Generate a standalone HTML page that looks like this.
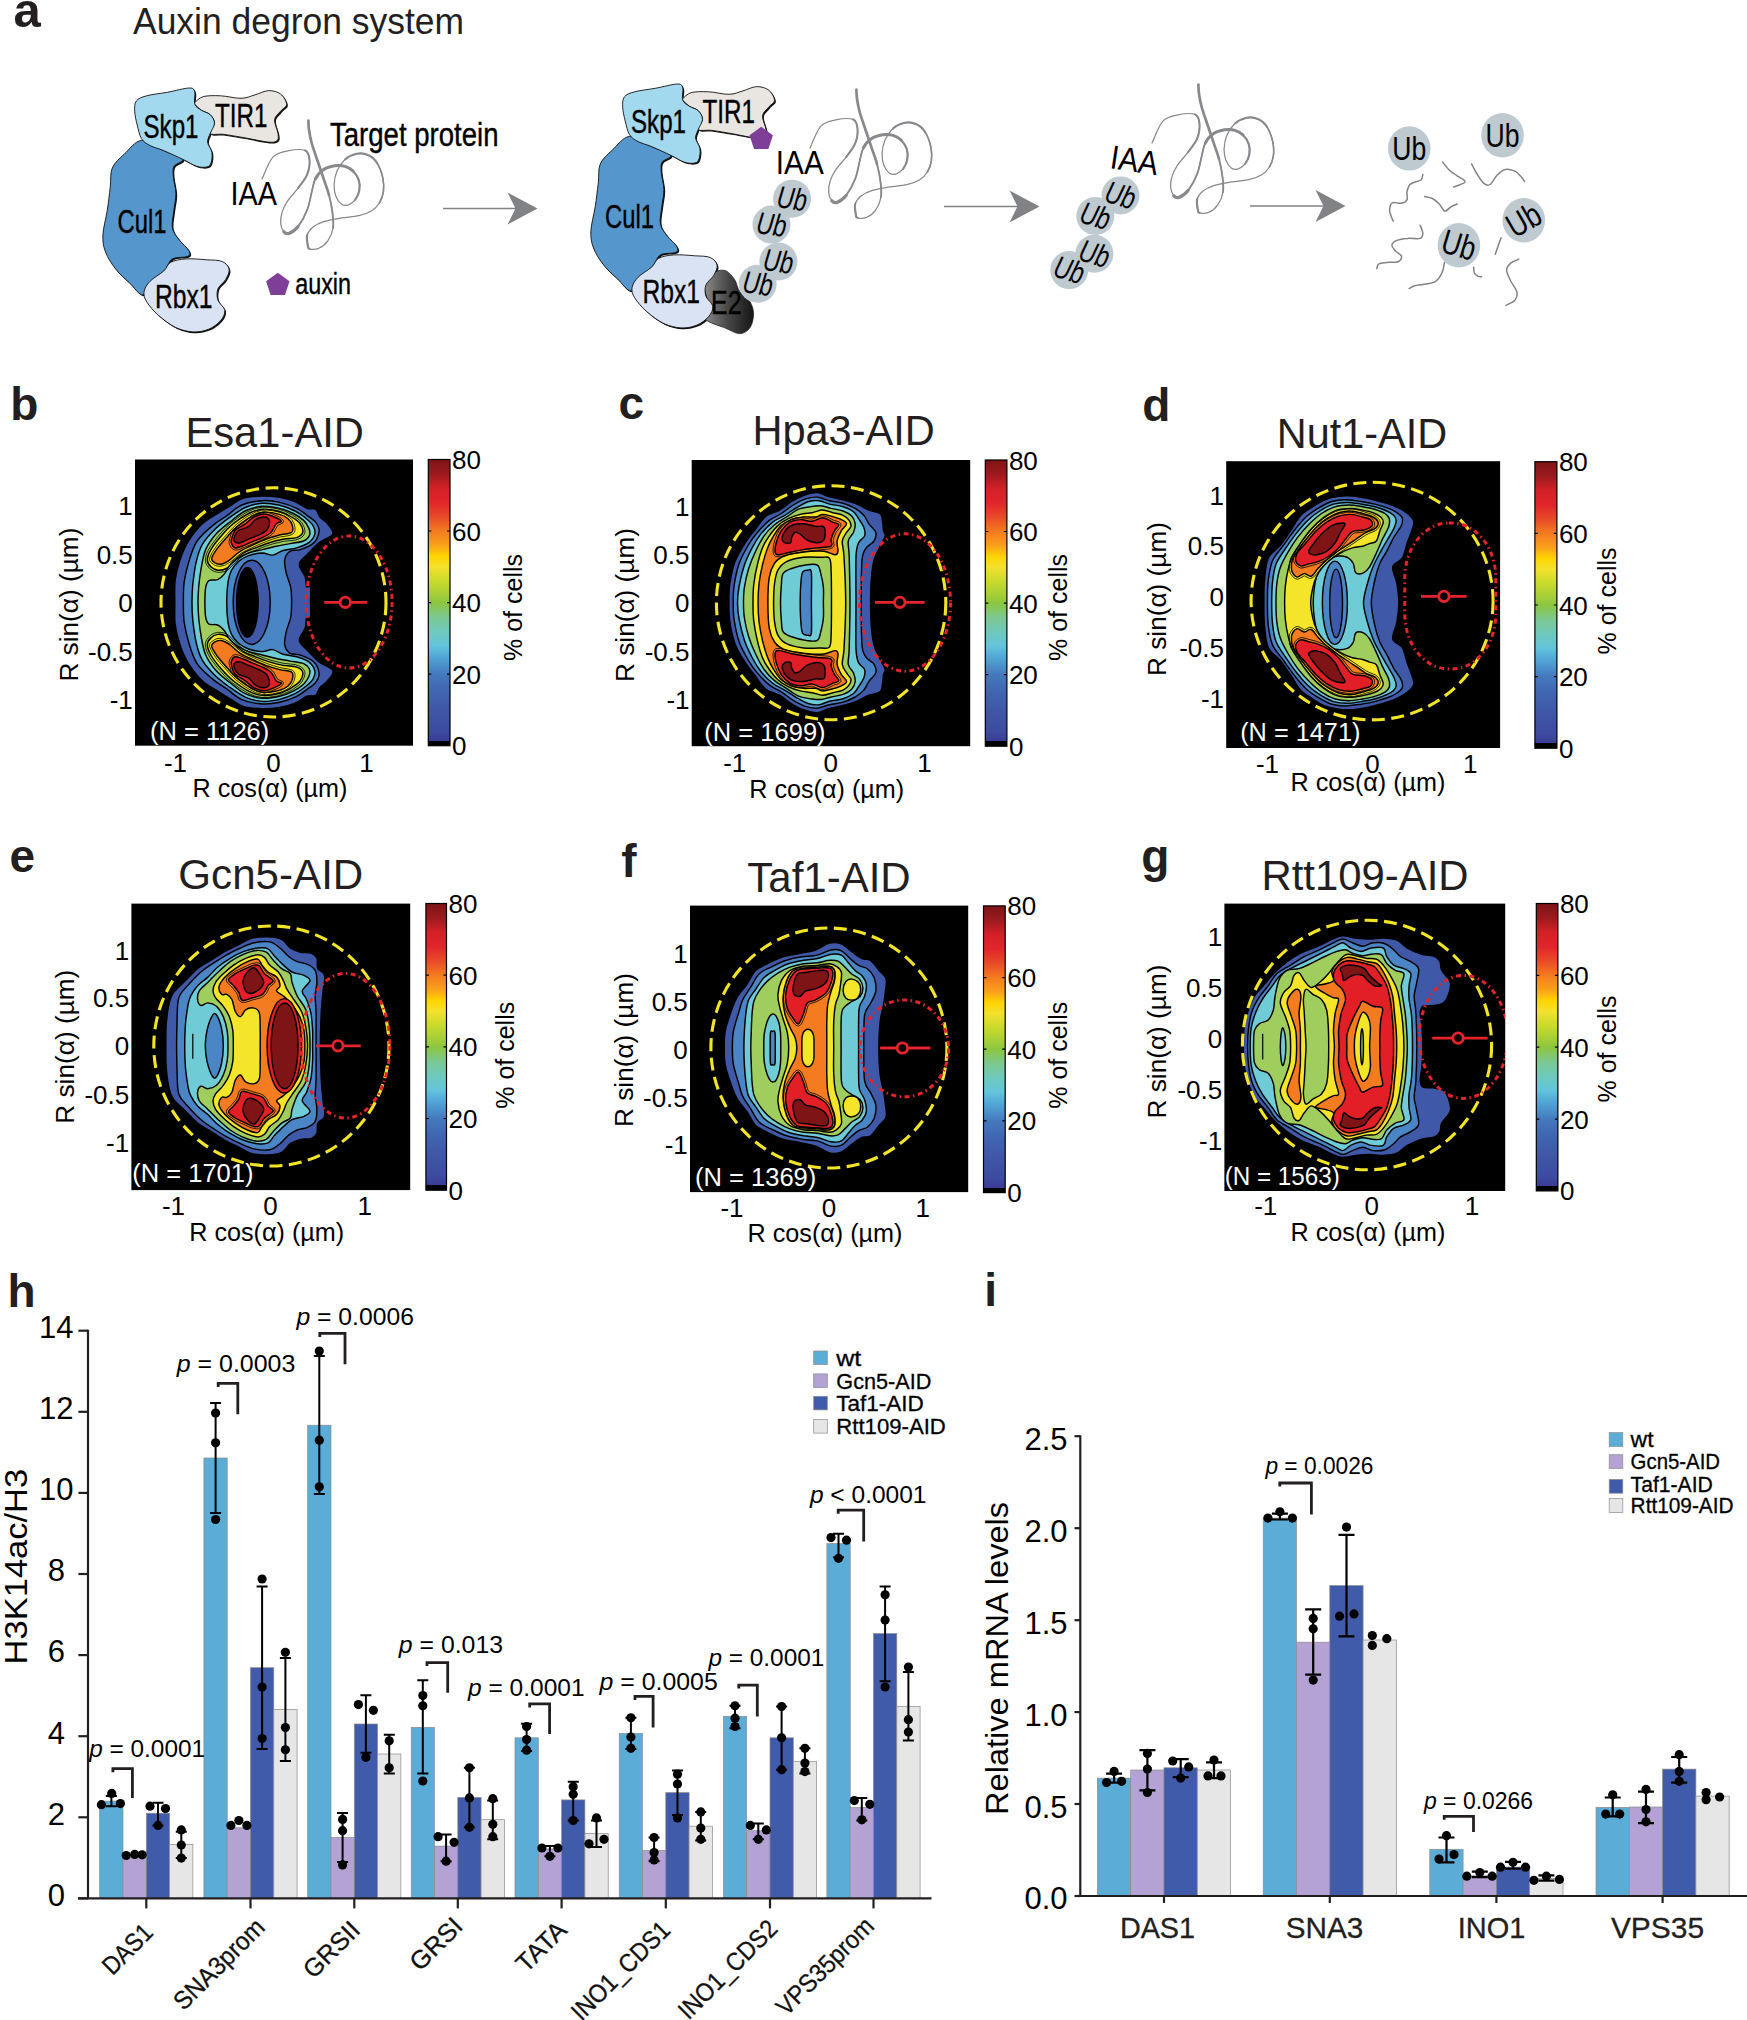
<!DOCTYPE html>
<html><head><meta charset="utf-8"><title>Auxin degron system figure</title>
<style>html,body{margin:0;padding:0;background:#fff}svg{display:block}text{font-family:"Liberation Sans",sans-serif}</style>
</head><body>
<svg width="1747" height="2020" viewBox="0 0 1747 2020">
<defs><linearGradient id="e2g" x1="0" y1="0" x2="1" y2="0"><stop offset="0" stop-color="#8a8a8a"/><stop offset="0.45" stop-color="#4a4a4a"/><stop offset="1" stop-color="#151515"/></linearGradient>
<linearGradient id="jet" x1="0" y1="0" x2="0" y2="1"><stop offset="0.0000" stop-color="#7E1416"/><stop offset="0.0500" stop-color="#9B1B1E"/><stop offset="0.1000" stop-color="#D42027"/><stop offset="0.1500" stop-color="#E1252B"/><stop offset="0.2000" stop-color="#E84A28"/><stop offset="0.2500" stop-color="#F47B20"/><stop offset="0.3000" stop-color="#F9A11B"/><stop offset="0.3375" stop-color="#FFD400"/><stop offset="0.3750" stop-color="#F3E12D"/><stop offset="0.4250" stop-color="#C9DA2B"/><stop offset="0.4750" stop-color="#A2CD3A"/><stop offset="0.5000" stop-color="#8CC63F"/><stop offset="0.5500" stop-color="#7CC890"/><stop offset="0.6000" stop-color="#6FC9BC"/><stop offset="0.6500" stop-color="#64C4DC"/><stop offset="0.6875" stop-color="#52A8D8"/><stop offset="0.7250" stop-color="#4A8CC8"/><stop offset="0.7500" stop-color="#4579BE"/><stop offset="0.8000" stop-color="#4168B2"/><stop offset="0.8750" stop-color="#3F57A6"/><stop offset="0.9500" stop-color="#3D4BA0"/><stop offset="0.9825" stop-color="#3A3C96"/><stop offset="0.9826" stop-color="#000"/><stop offset="1.0000" stop-color="#000"/></linearGradient>
<clipPath id="clipb"><rect x="135" y="459.5" width="278" height="286.2"/></clipPath>
<clipPath id="clipc"><rect x="691.7" y="460" width="278.5" height="286.2"/></clipPath>
<clipPath id="clipd"><rect x="1226.2" y="461.2" width="273.9" height="286.8"/></clipPath>
<clipPath id="clipe"><rect x="131.4" y="903.6" width="278.8" height="286.5"/></clipPath>
<clipPath id="clipf"><rect x="690" y="905.6" width="278.2" height="286.5"/></clipPath>
<clipPath id="clipg"><rect x="1224.4" y="903.6" width="280.8" height="287.4"/></clipPath></defs>
<rect width="1747" height="2020" fill="#fff"/>
<path d="M141.5 140.4C134.9 141 129.2 149.6 124.3 154.1C119.5 158.7 114.7 162.4 112.3 167.9C110 173.3 111.1 179.6 110.3 186.8C109.4 193.9 108.4 202.8 107.2 210.8C105.9 218.8 103.2 228 102.9 234.9C102.6 241.7 103.3 246.3 105.5 252C107.6 257.8 111.8 264.1 115.8 269.2C119.8 274.4 124.9 278.7 129.5 282.9C134.1 287.2 138.9 295.3 143.2 295C147.5 294.7 151.5 285.5 155.3 281.2C159 276.9 162.7 272.9 165.6 269.2C168.4 265.5 168.7 261.1 172.4 258.9C176.2 256.8 185.2 257.8 187.9 256.3C190.6 254.9 190.2 253 188.7 250.3C187.3 247.6 182 243.7 179.3 240C176.6 236.3 173.3 232.9 172.4 228C171.5 223.1 173.2 216.5 173.8 210.8C174.4 205.1 176 199.4 175.9 193.6C175.8 187.9 173.6 181.1 173.3 176.5C173 171.9 172.6 169 174.1 166.2C175.7 163.3 184.5 161.9 182.7 159.3C181 156.7 170.7 153.9 163.8 150.7C157 147.6 148.1 139.8 141.5 140.4Z" fill="#111" transform="translate(1.3 1.3)"/><path d="M194.8 102.6C196.2 101.3 199.1 97.8 203.3 96.6C207.6 95.5 214.2 95.5 220.5 95.8C226.8 96 235.4 98.5 241.1 98.3C246.8 98.2 250.3 96.2 254.9 94.9C259.4 93.6 264.3 90.8 268.6 90.6C272.9 90.5 277.6 91.8 280.6 94C283.6 96.3 286.6 101.5 286.6 104.3C286.6 107.2 282.6 108.6 280.6 111.2C278.6 113.8 275 116.1 274.6 119.8C274.2 123.5 277.6 130.1 278 133.5C278.5 137 278.8 139 277.2 140.4C275.6 141.8 274 142.6 268.6 142.1C263.2 141.7 252 139.1 244.6 137.8C237.1 136.5 229.7 135.1 224 134.4C218.2 133.7 211.8 135.4 210.2 133.5C208.6 131.7 214.5 126.4 214.5 123.2C214.5 120.1 212.4 116.8 210.2 114.7C208.1 112.5 204.2 112.1 201.6 110.4C199.1 108.6 195.9 105.6 194.8 104.3C193.6 103.1 193.3 103.9 194.8 102.6Z" fill="#111" transform="translate(1.3 1.3)"/><path d="M136.4 100.9C138.4 98.3 141.5 97.2 146.7 95.8C151.8 94.3 160.1 93.6 167.3 92.3C174.4 91 185 88 189.6 88C194.2 88 193.9 89.6 194.8 92.3C195.6 95 193.6 101.3 194.8 104.3C195.9 107.4 199.1 108.6 201.6 110.4C204.2 112.1 208.1 112.5 210.2 114.7C212.4 116.8 214.5 120.1 214.5 123.2C214.5 126.4 211.4 130.4 210.2 133.5C209.1 136.7 207.4 139 207.6 142.1C207.9 145.3 211.4 149 211.9 152.4C212.5 155.9 211.9 160.3 211.1 162.7C210.2 165.2 209.2 166.5 206.8 167C204.3 167.6 200.5 167.5 196.5 166.2C192.5 164.9 188.2 161.9 182.7 159.3C177.3 156.7 169.3 153 163.8 150.7C158.4 148.4 153.8 147.6 150.1 145.6C146.4 143.6 143.7 142.1 141.5 138.7C139.4 135.3 138.4 129.5 137.2 125C136.1 120.4 134.8 115.2 134.7 111.2C134.5 107.2 134.4 103.5 136.4 100.9Z" fill="#111" transform="translate(1.3 1.3)"/><path d="M144.1 291.5C144.7 288.1 146.8 284.7 150.1 281.2C153.4 277.8 160.4 274.1 163.8 270.9C167.3 267.8 167 264.3 170.7 262.3C174.4 260.3 180.2 259.3 186.2 258.9C192.2 258.5 200.8 259.3 206.8 259.8C212.8 260.2 218.5 259.9 222.2 261.5C226 263.1 228.5 266.2 229.1 269.2C229.7 272.2 227.5 276.2 225.7 279.5C223.8 282.8 219.2 285.5 217.9 289C216.7 292.4 216.8 296.5 217.9 300.1C219.1 303.7 224.4 307 224.8 310.4C225.2 313.9 223.2 317.6 220.5 320.7C217.8 323.9 213.1 327.5 208.5 329.3C203.9 331.2 198.5 332.2 193 331.9C187.6 331.6 181.6 330.3 175.9 327.6C170.1 324.9 163.6 319.9 158.7 315.6C153.8 311.3 149.1 305.8 146.7 301.8C144.2 297.8 143.5 295 144.1 291.5Z" fill="#111" transform="translate(1.3 1.3)"/><path d="M141.5 140.4C134.9 141 129.2 149.6 124.3 154.1C119.5 158.7 114.7 162.4 112.3 167.9C110 173.3 111.1 179.6 110.3 186.8C109.4 193.9 108.4 202.8 107.2 210.8C105.9 218.8 103.2 228 102.9 234.9C102.6 241.7 103.3 246.3 105.5 252C107.6 257.8 111.8 264.1 115.8 269.2C119.8 274.4 124.9 278.7 129.5 282.9C134.1 287.2 138.9 295.3 143.2 295C147.5 294.7 151.5 285.5 155.3 281.2C159 276.9 162.7 272.9 165.6 269.2C168.4 265.5 168.7 261.1 172.4 258.9C176.2 256.8 185.2 257.8 187.9 256.3C190.6 254.9 190.2 253 188.7 250.3C187.3 247.6 182 243.7 179.3 240C176.6 236.3 173.3 232.9 172.4 228C171.5 223.1 173.2 216.5 173.8 210.8C174.4 205.1 176 199.4 175.9 193.6C175.8 187.9 173.6 181.1 173.3 176.5C173 171.9 172.6 169 174.1 166.2C175.7 163.3 184.5 161.9 182.7 159.3C181 156.7 170.7 153.9 163.8 150.7C157 147.6 148.1 139.8 141.5 140.4Z" fill="#5596CC" stroke="#111" stroke-width="0.9"/><path d="M194.8 102.6C196.2 101.3 199.1 97.8 203.3 96.6C207.6 95.5 214.2 95.5 220.5 95.8C226.8 96 235.4 98.5 241.1 98.3C246.8 98.2 250.3 96.2 254.9 94.9C259.4 93.6 264.3 90.8 268.6 90.6C272.9 90.5 277.6 91.8 280.6 94C283.6 96.3 286.6 101.5 286.6 104.3C286.6 107.2 282.6 108.6 280.6 111.2C278.6 113.8 275 116.1 274.6 119.8C274.2 123.5 277.6 130.1 278 133.5C278.5 137 278.8 139 277.2 140.4C275.6 141.8 274 142.6 268.6 142.1C263.2 141.7 252 139.1 244.6 137.8C237.1 136.5 229.7 135.1 224 134.4C218.2 133.7 211.8 135.4 210.2 133.5C208.6 131.7 214.5 126.4 214.5 123.2C214.5 120.1 212.4 116.8 210.2 114.7C208.1 112.5 204.2 112.1 201.6 110.4C199.1 108.6 195.9 105.6 194.8 104.3C193.6 103.1 193.3 103.9 194.8 102.6Z" fill="#E9E6E1" stroke="#111" stroke-width="0.9"/><path d="M136.4 100.9C138.4 98.3 141.5 97.2 146.7 95.8C151.8 94.3 160.1 93.6 167.3 92.3C174.4 91 185 88 189.6 88C194.2 88 193.9 89.6 194.8 92.3C195.6 95 193.6 101.3 194.8 104.3C195.9 107.4 199.1 108.6 201.6 110.4C204.2 112.1 208.1 112.5 210.2 114.7C212.4 116.8 214.5 120.1 214.5 123.2C214.5 126.4 211.4 130.4 210.2 133.5C209.1 136.7 207.4 139 207.6 142.1C207.9 145.3 211.4 149 211.9 152.4C212.5 155.9 211.9 160.3 211.1 162.7C210.2 165.2 209.2 166.5 206.8 167C204.3 167.6 200.5 167.5 196.5 166.2C192.5 164.9 188.2 161.9 182.7 159.3C177.3 156.7 169.3 153 163.8 150.7C158.4 148.4 153.8 147.6 150.1 145.6C146.4 143.6 143.7 142.1 141.5 138.7C139.4 135.3 138.4 129.5 137.2 125C136.1 120.4 134.8 115.2 134.7 111.2C134.5 107.2 134.4 103.5 136.4 100.9Z" fill="#A3D9EE" stroke="#111" stroke-width="0.9"/><path d="M144.1 291.5C144.7 288.1 146.8 284.7 150.1 281.2C153.4 277.8 160.4 274.1 163.8 270.9C167.3 267.8 167 264.3 170.7 262.3C174.4 260.3 180.2 259.3 186.2 258.9C192.2 258.5 200.8 259.3 206.8 259.8C212.8 260.2 218.5 259.9 222.2 261.5C226 263.1 228.5 266.2 229.1 269.2C229.7 272.2 227.5 276.2 225.7 279.5C223.8 282.8 219.2 285.5 217.9 289C216.7 292.4 216.8 296.5 217.9 300.1C219.1 303.7 224.4 307 224.8 310.4C225.2 313.9 223.2 317.6 220.5 320.7C217.8 323.9 213.1 327.5 208.5 329.3C203.9 331.2 198.5 332.2 193 331.9C187.6 331.6 181.6 330.3 175.9 327.6C170.1 324.9 163.6 319.9 158.7 315.6C153.8 311.3 149.1 305.8 146.7 301.8C144.2 297.8 143.5 295 144.1 291.5Z" fill="#D9E3F3" stroke="#111" stroke-width="0.9"/><path d="M629.5 136.4C622.9 137 617.2 145.6 612.3 150.1C607.5 154.7 602.7 158.4 600.3 163.9C598 169.3 599.1 175.6 598.3 182.8C597.4 189.9 596.4 198.8 595.2 206.8C593.9 214.8 591.2 224 590.9 230.9C590.6 237.7 591.3 242.3 593.5 248C595.6 253.8 599.8 260.1 603.8 265.2C607.8 270.4 612.9 274.7 617.5 278.9C622.1 283.2 626.9 291.3 631.2 291C635.5 290.7 639.5 281.5 643.3 277.2C647 272.9 650.7 268.9 653.6 265.2C656.4 261.5 656.7 257.1 660.4 254.9C664.2 252.8 673.2 253.8 675.9 252.3C678.6 250.9 678.2 249 676.7 246.3C675.3 243.6 670 239.7 667.3 236C664.6 232.3 661.3 228.9 660.4 224C659.5 219.1 661.2 212.5 661.8 206.8C662.4 201.1 664 195.4 663.9 189.6C663.8 183.9 661.6 177.1 661.3 172.5C661 167.9 660.6 165 662.1 162.2C663.7 159.3 672.5 157.9 670.7 155.3C669 152.7 658.7 149.9 651.8 146.7C645 143.6 636.1 135.8 629.5 136.4Z" fill="#111" transform="translate(1.3 1.3)"/><path d="M682.8 98.6C684.2 97.3 687.1 93.8 691.3 92.6C695.6 91.5 702.2 91.5 708.5 91.8C714.8 92 723.4 94.5 729.1 94.3C734.8 94.2 738.3 92.2 742.9 90.9C747.4 89.6 752.3 86.8 756.6 86.6C760.9 86.5 765.6 87.8 768.6 90C771.6 92.3 774.6 97.5 774.6 100.3C774.6 103.2 770.6 104.6 768.6 107.2C766.6 109.8 763 112.1 762.6 115.8C762.2 119.5 765.6 126.1 766 129.5C766.5 133 766.8 135 765.2 136.4C763.6 137.8 762 138.6 756.6 138.1C751.2 137.7 740 135.1 732.6 133.8C725.1 132.5 717.7 131.1 712 130.4C706.2 129.7 699.8 131.4 698.2 129.5C696.6 127.7 702.5 122.4 702.5 119.2C702.5 116.1 700.4 112.8 698.2 110.7C696.1 108.5 692.2 108.1 689.6 106.4C687.1 104.6 683.9 101.6 682.8 100.3C681.6 99.1 681.3 99.9 682.8 98.6Z" fill="#111" transform="translate(1.3 1.3)"/><path d="M624.4 96.9C626.4 94.3 629.5 93.2 634.7 91.8C639.8 90.3 648.1 89.6 655.3 88.3C662.4 87 673 84 677.6 84C682.2 84 681.9 85.6 682.8 88.3C683.6 91 681.6 97.3 682.8 100.3C683.9 103.4 687.1 104.6 689.6 106.4C692.2 108.1 696.1 108.5 698.2 110.7C700.4 112.8 702.5 116.1 702.5 119.2C702.5 122.4 699.4 126.4 698.2 129.5C697.1 132.7 695.4 135 695.6 138.1C695.9 141.3 699.4 145 699.9 148.4C700.5 151.9 699.9 156.3 699.1 158.7C698.2 161.2 697.2 162.5 694.8 163C692.3 163.6 688.5 163.5 684.5 162.2C680.5 160.9 676.2 157.9 670.7 155.3C665.3 152.7 657.3 149 651.8 146.7C646.4 144.4 641.8 143.6 638.1 141.6C634.4 139.6 631.7 138.1 629.5 134.7C627.4 131.3 626.4 125.5 625.2 121C624.1 116.4 622.8 111.2 622.7 107.2C622.5 103.2 622.4 99.5 624.4 96.9Z" fill="#111" transform="translate(1.3 1.3)"/><path d="M632.1 287.5C632.7 284.1 634.8 280.7 638.1 277.2C641.4 273.8 648.4 270.1 651.8 266.9C655.3 263.8 655 260.3 658.7 258.3C662.4 256.3 668.2 255.3 674.2 254.9C680.2 254.5 688.8 255.3 694.8 255.8C700.8 256.2 706.5 255.9 710.2 257.5C714 259.1 716.5 262.2 717.1 265.2C717.7 268.2 715.5 272.2 713.7 275.5C711.8 278.8 707.2 281.5 705.9 285C704.7 288.4 704.8 292.5 705.9 296.1C707.1 299.7 712.4 303 712.8 306.4C713.2 309.9 711.2 313.6 708.5 316.7C705.8 319.9 701.1 323.5 696.5 325.3C691.9 327.2 686.5 328.2 681 327.9C675.6 327.6 669.6 326.3 663.9 323.6C658.1 320.9 651.6 315.9 646.7 311.6C641.8 307.3 637.1 301.8 634.7 297.8C632.2 293.8 631.5 291 632.1 287.5Z" fill="#111" transform="translate(1.3 1.3)"/><path d="M707.1 281.2C708.9 278.5 712.5 273.5 715.7 271.8C718.8 270.1 722.8 269.6 726 270.9C729.1 272.2 732.3 276.1 734.6 279.5C736.8 282.9 737.1 287.8 739.7 291.5C742.3 295.3 747.7 298.1 750 301.8C752.3 305.6 753.5 309.6 753.5 313.9C753.5 318.2 752.3 324.3 750 327.6C747.7 330.9 744 333.6 739.7 333.6C735.4 333.6 729.8 329.9 724.3 327.6C718.7 325.3 708.5 322.7 706.2 319.9C703.9 317 710.4 314 710.5 310.4C710.7 306.8 708.1 302.1 707.1 298.4C706.1 294.7 704.5 291 704.5 288.1C704.5 285.2 705.2 284 707.1 281.2Z" fill="url(#e2g)" stroke="#222" stroke-width="0.8"/><path d="M629.5 136.4C622.9 137 617.2 145.6 612.3 150.1C607.5 154.7 602.7 158.4 600.3 163.9C598 169.3 599.1 175.6 598.3 182.8C597.4 189.9 596.4 198.8 595.2 206.8C593.9 214.8 591.2 224 590.9 230.9C590.6 237.7 591.3 242.3 593.5 248C595.6 253.8 599.8 260.1 603.8 265.2C607.8 270.4 612.9 274.7 617.5 278.9C622.1 283.2 626.9 291.3 631.2 291C635.5 290.7 639.5 281.5 643.3 277.2C647 272.9 650.7 268.9 653.6 265.2C656.4 261.5 656.7 257.1 660.4 254.9C664.2 252.8 673.2 253.8 675.9 252.3C678.6 250.9 678.2 249 676.7 246.3C675.3 243.6 670 239.7 667.3 236C664.6 232.3 661.3 228.9 660.4 224C659.5 219.1 661.2 212.5 661.8 206.8C662.4 201.1 664 195.4 663.9 189.6C663.8 183.9 661.6 177.1 661.3 172.5C661 167.9 660.6 165 662.1 162.2C663.7 159.3 672.5 157.9 670.7 155.3C669 152.7 658.7 149.9 651.8 146.7C645 143.6 636.1 135.8 629.5 136.4Z" fill="#5596CC" stroke="#111" stroke-width="0.9"/><path d="M682.8 98.6C684.2 97.3 687.1 93.8 691.3 92.6C695.6 91.5 702.2 91.5 708.5 91.8C714.8 92 723.4 94.5 729.1 94.3C734.8 94.2 738.3 92.2 742.9 90.9C747.4 89.6 752.3 86.8 756.6 86.6C760.9 86.5 765.6 87.8 768.6 90C771.6 92.3 774.6 97.5 774.6 100.3C774.6 103.2 770.6 104.6 768.6 107.2C766.6 109.8 763 112.1 762.6 115.8C762.2 119.5 765.6 126.1 766 129.5C766.5 133 766.8 135 765.2 136.4C763.6 137.8 762 138.6 756.6 138.1C751.2 137.7 740 135.1 732.6 133.8C725.1 132.5 717.7 131.1 712 130.4C706.2 129.7 699.8 131.4 698.2 129.5C696.6 127.7 702.5 122.4 702.5 119.2C702.5 116.1 700.4 112.8 698.2 110.7C696.1 108.5 692.2 108.1 689.6 106.4C687.1 104.6 683.9 101.6 682.8 100.3C681.6 99.1 681.3 99.9 682.8 98.6Z" fill="#E9E6E1" stroke="#111" stroke-width="0.9"/><path d="M624.4 96.9C626.4 94.3 629.5 93.2 634.7 91.8C639.8 90.3 648.1 89.6 655.3 88.3C662.4 87 673 84 677.6 84C682.2 84 681.9 85.6 682.8 88.3C683.6 91 681.6 97.3 682.8 100.3C683.9 103.4 687.1 104.6 689.6 106.4C692.2 108.1 696.1 108.5 698.2 110.7C700.4 112.8 702.5 116.1 702.5 119.2C702.5 122.4 699.4 126.4 698.2 129.5C697.1 132.7 695.4 135 695.6 138.1C695.9 141.3 699.4 145 699.9 148.4C700.5 151.9 699.9 156.3 699.1 158.7C698.2 161.2 697.2 162.5 694.8 163C692.3 163.6 688.5 163.5 684.5 162.2C680.5 160.9 676.2 157.9 670.7 155.3C665.3 152.7 657.3 149 651.8 146.7C646.4 144.4 641.8 143.6 638.1 141.6C634.4 139.6 631.7 138.1 629.5 134.7C627.4 131.3 626.4 125.5 625.2 121C624.1 116.4 622.8 111.2 622.7 107.2C622.5 103.2 622.4 99.5 624.4 96.9Z" fill="#A3D9EE" stroke="#111" stroke-width="0.9"/><path d="M632.1 287.5C632.7 284.1 634.8 280.7 638.1 277.2C641.4 273.8 648.4 270.1 651.8 266.9C655.3 263.8 655 260.3 658.7 258.3C662.4 256.3 668.2 255.3 674.2 254.9C680.2 254.5 688.8 255.3 694.8 255.8C700.8 256.2 706.5 255.9 710.2 257.5C714 259.1 716.5 262.2 717.1 265.2C717.7 268.2 715.5 272.2 713.7 275.5C711.8 278.8 707.2 281.5 705.9 285C704.7 288.4 704.8 292.5 705.9 296.1C707.1 299.7 712.4 303 712.8 306.4C713.2 309.9 711.2 313.6 708.5 316.7C705.8 319.9 701.1 323.5 696.5 325.3C691.9 327.2 686.5 328.2 681 327.9C675.6 327.6 669.6 326.3 663.9 323.6C658.1 320.9 651.6 315.9 646.7 311.6C641.8 307.3 637.1 301.8 634.7 297.8C632.2 293.8 631.5 291 632.1 287.5Z" fill="#D9E3F3" stroke="#111" stroke-width="0.9"/><text x="143.5" y="137.8" font-size="33.5" textLength="55" lengthAdjust="spacingAndGlyphs" stroke="#000" stroke-width="0.4">Skp1</text><text x="215" y="127" font-size="33.5" textLength="52.5" lengthAdjust="spacingAndGlyphs" stroke="#000" stroke-width="0.4">TIR1</text><text x="117.5" y="232.5" font-size="33.5" textLength="49" lengthAdjust="spacingAndGlyphs" stroke="#000" stroke-width="0.4">Cul1</text><text x="155" y="307.5" font-size="33.5" textLength="57.5" lengthAdjust="spacingAndGlyphs" stroke="#000" stroke-width="0.4">Rbx1</text><text x="631" y="133.3" font-size="33.5" textLength="55" lengthAdjust="spacingAndGlyphs" stroke="#000" stroke-width="0.4">Skp1</text><text x="702.5" y="122.5" font-size="33.5" textLength="52.5" lengthAdjust="spacingAndGlyphs" stroke="#000" stroke-width="0.4">TIR1</text><text x="605" y="228" font-size="33.5" textLength="49" lengthAdjust="spacingAndGlyphs" stroke="#000" stroke-width="0.4">Cul1</text><text x="642.5" y="303" font-size="33.5" textLength="57.5" lengthAdjust="spacingAndGlyphs" stroke="#000" stroke-width="0.4">Rbx1</text><text x="711" y="313.5" font-size="33.5" textLength="30.5" lengthAdjust="spacingAndGlyphs" stroke="#000" stroke-width="0.4">E2</text>
<path d="M262 179C263.8 175.4 268.6 161.9 272.9 157.2C277.2 152.6 282.4 152.1 287.8 150.9C293.1 149.8 301.3 148.9 305 150.4C308.6 151.8 309.1 155.5 309.5 159.5C309.9 163.5 309.1 169.6 307.2 174.4C305.3 179.2 301.3 183.8 298.1 188.2C294.8 192.5 290.5 196.7 287.8 200.7C285.1 204.8 283.2 208.4 282.1 212.2C280.9 216 280.4 220.4 280.7 223.6C281 226.9 282.4 230 283.8 231.7C285.1 233.3 286.5 234.2 288.9 233.4C291.3 232.5 295 230.4 298.1 226.5C301.1 222.6 305 215.7 307.2 209.9C309.5 204.1 310.5 196.7 311.8 191.6C313.2 186.4 313.3 182.6 315.3 179C317.2 175.4 320 172 323.3 169.8C326.5 167.6 331.1 166.4 334.7 165.8C338.3 165.3 342 165.5 345 166.4C348.1 167.3 350.7 168.7 353 171C355.3 173.3 357.7 176.9 358.8 180.1C359.8 183.4 359.9 187.2 359.3 190.4C358.8 193.7 357.1 197.2 355.3 199.6C353.5 202 350.7 204 348.5 204.8C346.2 205.5 343.7 205.6 341.6 204.2C339.5 202.7 337.1 199.4 335.9 196.2C334.6 192.9 334 188.9 334.1 184.7C334.3 180.5 335.2 175.2 337 171C338.8 166.8 341.8 162.4 345 159.5C348.3 156.7 352.7 154.6 356.5 153.8C360.3 153 364.5 153.4 367.9 155C371.4 156.5 374.6 159.1 377.1 163C379.6 166.8 381.7 173.1 382.8 177.8C383.8 182.6 383.9 187.4 383.4 191.6C382.8 195.8 381.4 199.8 379.4 203C377.4 206.3 374.8 208.9 371.4 211C367.9 213.1 363.7 214.5 358.8 215.6C353.8 216.8 347.3 217 341.6 217.9C335.9 218.9 329.2 219.8 324.4 221.4C319.6 222.9 315.8 224.8 313 227.1C310.1 229.4 308.1 232 307.2 235.1C306.4 238.1 307.4 243.1 307.8 245.4C308.2 247.7 307.7 248.3 309.5 248.8C311.3 249.3 315.6 249.6 318.7 248.3C321.7 246.9 325.5 244.2 327.8 240.8C330.2 237.5 332.2 233 333 228.2C333.8 223.4 333.1 217.7 332.4 212.2C331.8 206.7 330.5 200.7 329 195C327.5 189.3 325.2 183.6 323.3 177.8C321.4 172.1 319.5 166.4 317.5 160.7C315.6 155 313.3 148.7 311.8 143.5C310.4 138.4 309.5 133.6 309 129.8C308.4 125.9 308.5 122.1 308.4 120.6" fill="none" stroke="#87898c" stroke-width="1.25" stroke-linecap="round"/><path d="M329 195C327.5 189.3 325.2 183.6 323.3 177.8C321.4 172.1 319.5 166.4 317.5 160.7C315.6 155 313.3 148.7 311.8 143.5C310.4 138.4 309.5 133.6 309 129.8C308.4 125.9 308.5 122.1 308.4 120.6" fill="none" stroke="#87898c" stroke-width="2.7" stroke-linecap="round"/><path d="M333 228.2C333.8 223.4 333.1 217.7 332.4 212.2C331.8 206.7 330.5 200.7 329 195" fill="none" stroke="#87898c" stroke-width="1.8" stroke-linecap="round"/><path d="M305 150.4C308.6 151.8 309.1 155.5 309.5 159.5C309.9 163.5 309.1 169.6 307.2 174.4C305.3 179.2 301.3 183.8 298.1 188.2" fill="none" stroke="#87898c" stroke-width="2.0" stroke-linecap="round"/><path d="M283.8 231.7C285.1 233.3 286.5 234.2 288.9 233.4C291.3 232.5 295 230.4 298.1 226.5" fill="none" stroke="#87898c" stroke-width="3.2" stroke-linecap="round"/><path d="M298.1 226.5C301.1 222.6 305 215.7 307.2 209.9C309.5 204.1 310.5 196.7 311.8 191.6C313.2 186.4 313.3 182.6 315.3 179" fill="none" stroke="#87898c" stroke-width="1.8" stroke-linecap="round"/><path d="M315.3 179C317.2 175.4 320 172 323.3 169.8C326.5 167.6 331.1 166.4 334.7 165.8C338.3 165.3 342 165.5 345 166.4C348.1 167.3 350.7 168.7 353 171" fill="none" stroke="#87898c" stroke-width="3.0" stroke-linecap="round"/><path d="M353 171C355.3 173.3 357.7 176.9 358.8 180.1C359.8 183.4 359.9 187.2 359.3 190.4C358.8 193.7 357.1 197.2 355.3 199.6" fill="none" stroke="#87898c" stroke-width="2.2" stroke-linecap="round"/><path d="M345 159.5C348.3 156.7 352.7 154.6 356.5 153.8C360.3 153 364.5 153.4 367.9 155C371.4 156.5 374.6 159.1 377.1 163" fill="none" stroke="#87898c" stroke-width="2.1" stroke-linecap="round"/><path d="M377.1 163C379.6 166.8 381.7 173.1 382.8 177.8C383.8 182.6 383.9 187.4 383.4 191.6C382.8 195.8 381.4 199.8 379.4 203" fill="none" stroke="#87898c" stroke-width="1.6" stroke-linecap="round"/><path d="M307.2 235.1C306.4 238.1 307.4 243.1 307.8 245.4C308.2 247.7 307.7 248.3 309.5 248.8" fill="none" stroke="#87898c" stroke-width="2.2" stroke-linecap="round"/><path d="M810 148C811.8 144.4 816.6 130.9 820.9 126.2C825.2 121.6 830.4 121.1 835.8 119.9C841.1 118.8 849.3 117.9 853 119.4C856.6 120.8 857.1 124.5 857.5 128.5C857.9 132.5 857.1 138.6 855.2 143.4C853.3 148.2 849.3 152.8 846.1 157.2C842.8 161.5 838.5 165.7 835.8 169.7C833.1 173.8 831.2 177.4 830.1 181.2C828.9 185 828.4 189.4 828.7 192.6C829 195.9 830.4 199 831.8 200.7C833.1 202.3 834.5 203.2 836.9 202.4C839.3 201.5 843 199.4 846.1 195.5C849.1 191.6 853 184.7 855.2 178.9C857.5 173.1 858.5 165.7 859.8 160.6C861.2 155.4 861.3 151.6 863.3 148C865.2 144.4 868 141 871.3 138.8C874.5 136.6 879.1 135.4 882.7 134.8C886.3 134.3 890 134.5 893 135.4C896.1 136.3 898.7 137.7 901 140C903.3 142.3 905.7 145.9 906.8 149.1C907.8 152.4 907.9 156.2 907.3 159.4C906.8 162.7 905.1 166.2 903.3 168.6C901.5 171 898.7 173 896.5 173.8C894.2 174.5 891.7 174.6 889.6 173.2C887.5 171.7 885.1 168.4 883.9 165.2C882.6 161.9 882 157.9 882.1 153.7C882.3 149.5 883.2 144.2 885 140C886.8 135.8 889.8 131.4 893 128.5C896.3 125.7 900.7 123.6 904.5 122.8C908.3 122 912.5 122.4 915.9 124C919.4 125.5 922.6 128.1 925.1 132C927.6 135.8 929.7 142.1 930.8 146.8C931.8 151.6 931.9 156.4 931.4 160.6C930.8 164.8 929.4 168.8 927.4 172C925.4 175.3 922.8 177.9 919.4 180C915.9 182.1 911.7 183.5 906.8 184.6C901.8 185.8 895.3 186 889.6 186.9C883.9 187.9 877.2 188.8 872.4 190.4C867.6 191.9 863.8 193.8 861 196.1C858.1 198.4 856.1 201 855.2 204.1C854.4 207.1 855.4 212.1 855.8 214.4C856.2 216.7 855.7 217.3 857.5 217.8C859.3 218.3 863.6 218.6 866.7 217.3C869.7 215.9 873.5 213.2 875.8 209.8C878.2 206.5 880.2 202 881 197.2C881.8 192.4 881.1 186.7 880.4 181.2C879.8 175.7 878.5 169.7 877 164C875.5 158.3 873.2 152.6 871.3 146.8C869.4 141.1 867.5 135.4 865.5 129.7C863.6 124 861.3 117.7 859.8 112.5C858.4 107.4 857.5 102.6 857 98.8C856.4 94.9 856.5 91.1 856.4 89.6" fill="none" stroke="#87898c" stroke-width="1.25" stroke-linecap="round"/><path d="M877 164C875.5 158.3 873.2 152.6 871.3 146.8C869.4 141.1 867.5 135.4 865.5 129.7C863.6 124 861.3 117.7 859.8 112.5C858.4 107.4 857.5 102.6 857 98.8C856.4 94.9 856.5 91.1 856.4 89.6" fill="none" stroke="#87898c" stroke-width="2.7" stroke-linecap="round"/><path d="M881 197.2C881.8 192.4 881.1 186.7 880.4 181.2C879.8 175.7 878.5 169.7 877 164" fill="none" stroke="#87898c" stroke-width="1.8" stroke-linecap="round"/><path d="M853 119.4C856.6 120.8 857.1 124.5 857.5 128.5C857.9 132.5 857.1 138.6 855.2 143.4C853.3 148.2 849.3 152.8 846.1 157.2" fill="none" stroke="#87898c" stroke-width="2.0" stroke-linecap="round"/><path d="M831.8 200.7C833.1 202.3 834.5 203.2 836.9 202.4C839.3 201.5 843 199.4 846.1 195.5" fill="none" stroke="#87898c" stroke-width="3.2" stroke-linecap="round"/><path d="M846.1 195.5C849.1 191.6 853 184.7 855.2 178.9C857.5 173.1 858.5 165.7 859.8 160.6C861.2 155.4 861.3 151.6 863.3 148" fill="none" stroke="#87898c" stroke-width="1.8" stroke-linecap="round"/><path d="M863.3 148C865.2 144.4 868 141 871.3 138.8C874.5 136.6 879.1 135.4 882.7 134.8C886.3 134.3 890 134.5 893 135.4C896.1 136.3 898.7 137.7 901 140" fill="none" stroke="#87898c" stroke-width="3.0" stroke-linecap="round"/><path d="M901 140C903.3 142.3 905.7 145.9 906.8 149.1C907.8 152.4 907.9 156.2 907.3 159.4C906.8 162.7 905.1 166.2 903.3 168.6" fill="none" stroke="#87898c" stroke-width="2.2" stroke-linecap="round"/><path d="M893 128.5C896.3 125.7 900.7 123.6 904.5 122.8C908.3 122 912.5 122.4 915.9 124C919.4 125.5 922.6 128.1 925.1 132" fill="none" stroke="#87898c" stroke-width="2.1" stroke-linecap="round"/><path d="M925.1 132C927.6 135.8 929.7 142.1 930.8 146.8C931.8 151.6 931.9 156.4 931.4 160.6C930.8 164.8 929.4 168.8 927.4 172" fill="none" stroke="#87898c" stroke-width="1.6" stroke-linecap="round"/><path d="M855.2 204.1C854.4 207.1 855.4 212.1 855.8 214.4C856.2 216.7 855.7 217.3 857.5 217.8" fill="none" stroke="#87898c" stroke-width="2.2" stroke-linecap="round"/><path d="M1152 143C1153.8 139.4 1158.6 125.9 1162.9 121.2C1167.2 116.6 1172.4 116.1 1177.8 114.9C1183.1 113.8 1191.3 112.9 1195 114.4C1198.6 115.8 1199.1 119.5 1199.5 123.5C1199.9 127.5 1199.1 133.6 1197.2 138.4C1195.3 143.2 1191.3 147.8 1188.1 152.2C1184.8 156.5 1180.5 160.7 1177.8 164.7C1175.1 168.8 1173.2 172.4 1172.1 176.2C1170.9 180 1170.4 184.4 1170.7 187.6C1171 190.9 1172.4 194 1173.8 195.7C1175.1 197.3 1176.5 198.2 1178.9 197.4C1181.3 196.5 1185 194.4 1188.1 190.5C1191.1 186.6 1195 179.7 1197.2 173.9C1199.5 168.1 1200.5 160.7 1201.8 155.6C1203.2 150.4 1203.3 146.6 1205.3 143C1207.2 139.4 1210 136 1213.3 133.8C1216.5 131.6 1221.1 130.4 1224.7 129.8C1228.3 129.3 1232 129.5 1235 130.4C1238.1 131.3 1240.7 132.7 1243 135C1245.3 137.3 1247.7 140.9 1248.8 144.1C1249.8 147.4 1249.9 151.2 1249.3 154.4C1248.8 157.7 1247.1 161.2 1245.3 163.6C1243.5 166 1240.7 168 1238.5 168.8C1236.2 169.5 1233.7 169.6 1231.6 168.2C1229.5 166.7 1227.1 163.4 1225.9 160.2C1224.6 156.9 1224 152.9 1224.1 148.7C1224.3 144.5 1225.2 139.2 1227 135C1228.8 130.8 1231.8 126.4 1235 123.5C1238.3 120.7 1242.7 118.6 1246.5 117.8C1250.3 117 1254.5 117.4 1257.9 119C1261.4 120.5 1264.6 123.1 1267.1 127C1269.6 130.8 1271.7 137.1 1272.8 141.8C1273.8 146.6 1273.9 151.4 1273.4 155.6C1272.8 159.8 1271.4 163.8 1269.4 167C1267.4 170.3 1264.8 172.9 1261.4 175C1257.9 177.1 1253.7 178.5 1248.8 179.6C1243.8 180.8 1237.3 181 1231.6 181.9C1225.9 182.9 1219.2 183.8 1214.4 185.4C1209.6 186.9 1205.8 188.8 1203 191.1C1200.1 193.4 1198.1 196 1197.2 199.1C1196.4 202.1 1197.4 207.1 1197.8 209.4C1198.2 211.7 1197.7 212.3 1199.5 212.8C1201.3 213.3 1205.6 213.6 1208.7 212.3C1211.7 210.9 1215.5 208.2 1217.8 204.8C1220.2 201.5 1222.2 197 1223 192.2C1223.8 187.4 1223.1 181.7 1222.4 176.2C1221.8 170.7 1220.5 164.7 1219 159C1217.5 153.3 1215.2 147.6 1213.3 141.8C1211.4 136.1 1209.5 130.4 1207.5 124.7C1205.6 119 1203.3 112.7 1201.8 107.5C1200.4 102.4 1199.5 97.6 1199 93.8C1198.4 89.9 1198.5 86.1 1198.4 84.6" fill="none" stroke="#87898c" stroke-width="1.25" stroke-linecap="round"/><path d="M1219 159C1217.5 153.3 1215.2 147.6 1213.3 141.8C1211.4 136.1 1209.5 130.4 1207.5 124.7C1205.6 119 1203.3 112.7 1201.8 107.5C1200.4 102.4 1199.5 97.6 1199 93.8C1198.4 89.9 1198.5 86.1 1198.4 84.6" fill="none" stroke="#87898c" stroke-width="2.7" stroke-linecap="round"/><path d="M1223 192.2C1223.8 187.4 1223.1 181.7 1222.4 176.2C1221.8 170.7 1220.5 164.7 1219 159" fill="none" stroke="#87898c" stroke-width="1.8" stroke-linecap="round"/><path d="M1195 114.4C1198.6 115.8 1199.1 119.5 1199.5 123.5C1199.9 127.5 1199.1 133.6 1197.2 138.4C1195.3 143.2 1191.3 147.8 1188.1 152.2" fill="none" stroke="#87898c" stroke-width="2.0" stroke-linecap="round"/><path d="M1173.8 195.7C1175.1 197.3 1176.5 198.2 1178.9 197.4C1181.3 196.5 1185 194.4 1188.1 190.5" fill="none" stroke="#87898c" stroke-width="3.2" stroke-linecap="round"/><path d="M1188.1 190.5C1191.1 186.6 1195 179.7 1197.2 173.9C1199.5 168.1 1200.5 160.7 1201.8 155.6C1203.2 150.4 1203.3 146.6 1205.3 143" fill="none" stroke="#87898c" stroke-width="1.8" stroke-linecap="round"/><path d="M1205.3 143C1207.2 139.4 1210 136 1213.3 133.8C1216.5 131.6 1221.1 130.4 1224.7 129.8C1228.3 129.3 1232 129.5 1235 130.4C1238.1 131.3 1240.7 132.7 1243 135" fill="none" stroke="#87898c" stroke-width="3.0" stroke-linecap="round"/><path d="M1243 135C1245.3 137.3 1247.7 140.9 1248.8 144.1C1249.8 147.4 1249.9 151.2 1249.3 154.4C1248.8 157.7 1247.1 161.2 1245.3 163.6" fill="none" stroke="#87898c" stroke-width="2.2" stroke-linecap="round"/><path d="M1235 123.5C1238.3 120.7 1242.7 118.6 1246.5 117.8C1250.3 117 1254.5 117.4 1257.9 119C1261.4 120.5 1264.6 123.1 1267.1 127" fill="none" stroke="#87898c" stroke-width="2.1" stroke-linecap="round"/><path d="M1267.1 127C1269.6 130.8 1271.7 137.1 1272.8 141.8C1273.8 146.6 1273.9 151.4 1273.4 155.6C1272.8 159.8 1271.4 163.8 1269.4 167" fill="none" stroke="#87898c" stroke-width="1.6" stroke-linecap="round"/><path d="M1197.2 199.1C1196.4 202.1 1197.4 207.1 1197.8 209.4C1198.2 211.7 1197.7 212.3 1199.5 212.8" fill="none" stroke="#87898c" stroke-width="2.2" stroke-linecap="round"/><path d="M443 208.5H518" stroke="#808285" stroke-width="1.3"/><path d="M537.5 208.5L507.5 192.5L515.5 208.5L507.5 224.5Z" fill="#808285"/><path d="M944 206.5H1020" stroke="#808285" stroke-width="1.3"/><path d="M1039.5 206.5L1009.5 190.5L1017.5 206.5L1009.5 222.5Z" fill="#808285"/><path d="M1250 206H1326" stroke="#808285" stroke-width="1.3"/><path d="M1345.5 206L1315.5 190L1323.5 206L1315.5 222Z" fill="#808285"/><polygon points="277.8 272.7 289.5 281.2 285 295 270.6 295 266.1 281.2" fill="#7F3F98"/><polygon points="761.2 126.7 772.9 135.2 768.4 149 754 149 749.5 135.2" fill="#7F3F98"/><circle cx="792.1" cy="198.8" r="19" fill="#BEC9D0"/><circle cx="771.5" cy="224.6" r="19" fill="#BEC9D0"/><circle cx="778.4" cy="261.5" r="19" fill="#BEC9D0"/><circle cx="757.7" cy="283.8" r="19" fill="#BEC9D0"/><text font-size="31" text-anchor="middle" font-style="italic" textLength="30" lengthAdjust="spacingAndGlyphs" transform="translate(792.1 198.8) rotate(8)" y="10.5">Ub</text><text font-size="31" text-anchor="middle" font-style="italic" textLength="30" lengthAdjust="spacingAndGlyphs" transform="translate(771.5 224.6) rotate(8)" y="10.5">Ub</text><text font-size="31" text-anchor="middle" font-style="italic" textLength="30" lengthAdjust="spacingAndGlyphs" transform="translate(778.4 261.5) rotate(8)" y="10.5">Ub</text><text font-size="31" text-anchor="middle" font-style="italic" textLength="30" lengthAdjust="spacingAndGlyphs" transform="translate(757.7 283.8) rotate(8)" y="10.5">Ub</text><circle cx="1120.5" cy="195.4" r="19" fill="#BEC9D0"/><circle cx="1095.3" cy="216" r="19" fill="#BEC9D0"/><circle cx="1094.4" cy="253.8" r="19" fill="#BEC9D0"/><circle cx="1069.2" cy="270.1" r="19" fill="#BEC9D0"/><text font-size="31" text-anchor="middle" font-style="italic" textLength="30" lengthAdjust="spacingAndGlyphs" transform="translate(1120.5 195.4) rotate(17)" y="10.5">Ub</text><text font-size="31" text-anchor="middle" font-style="italic" textLength="30" lengthAdjust="spacingAndGlyphs" transform="translate(1095.3 216) rotate(17)" y="10.5">Ub</text><text font-size="31" text-anchor="middle" font-style="italic" textLength="30" lengthAdjust="spacingAndGlyphs" transform="translate(1094.4 253.8) rotate(17)" y="10.5">Ub</text><text font-size="31" text-anchor="middle" font-style="italic" textLength="30" lengthAdjust="spacingAndGlyphs" transform="translate(1069.2 270.1) rotate(17)" y="10.5">Ub</text><ellipse cx="1409.3" cy="148.4" rx="21.3" ry="22.2" fill="#BEC9D0"/><text font-size="34" text-anchor="middle" textLength="34" lengthAdjust="spacingAndGlyphs" transform="translate(1409.3 148.4) rotate(0)" y="11.5">Ub</text><ellipse cx="1502.5" cy="135.3" rx="21.3" ry="22.2" fill="#BEC9D0"/><text font-size="34" text-anchor="middle" textLength="34" lengthAdjust="spacingAndGlyphs" transform="translate(1502.5 135.3) rotate(0)" y="11.5">Ub</text><ellipse cx="1523.8" cy="220.2" rx="21.3" ry="22.2" fill="#BEC9D0"/><text font-size="34" text-anchor="middle" textLength="34" lengthAdjust="spacingAndGlyphs" transform="translate(1523.8 220.2) rotate(-30)" y="11.5">Ub</text><ellipse cx="1458.9" cy="245.2" rx="21.3" ry="22.2" fill="#BEC9D0"/><text font-size="34" text-anchor="middle" textLength="34" lengthAdjust="spacingAndGlyphs" transform="translate(1458.9 245.2) rotate(17)" y="11.5">Ub</text><path d="M1422.8 174.5C1422.5 175.4 1422.8 178.4 1420.8 180C1418.7 181.6 1412.7 182.2 1410.4 184.1C1408.2 186.1 1407.6 189 1407 191.7C1406.4 194.3 1408 198 1407 199.9C1406 201.9 1403.2 202.9 1400.8 203.3C1398.4 203.8 1394.5 201.6 1392.6 202.7C1390.7 203.7 1389.8 207.2 1389.6 209.5C1389.3 211.8 1390.6 214.4 1391.2 216.4C1391.8 218.3 1392.9 220.4 1393.3 221.2" fill="none" stroke="#808285" stroke-width="1.5" stroke-linecap="round"/><path d="M1442.7 162.1C1443.8 163.4 1446.5 167.4 1448.9 169.7C1451.3 172 1454.5 173.9 1457.2 175.9C1459.9 177.8 1464.7 179.9 1465.1 181.4C1465.6 182.8 1461.8 183.9 1459.9 184.8C1458 185.7 1454.8 186.5 1453.7 186.9" fill="none" stroke="#808285" stroke-width="1.5" stroke-linecap="round"/><path d="M1471.6 163.9C1472.6 165.8 1475.7 171.9 1477.8 175.2C1479.8 178.4 1481.9 181.9 1483.9 183.4C1486 185 1488 185.9 1490.1 184.5C1492.3 183.1 1494.5 177.7 1497 175.2C1499.5 172.7 1502.3 170.1 1505.2 169.4C1508.2 168.7 1512.2 169.9 1514.9 171.1C1517.5 172.2 1519.4 174.8 1521 176.6C1522.6 178.3 1523.9 180.6 1524.5 181.4" fill="none" stroke="#808285" stroke-width="1.5" stroke-linecap="round"/><path d="M1424.6 196.5C1425.9 196.8 1430 197.3 1432.4 198.5C1434.9 199.8 1437.2 201.9 1439.3 204C1441.4 206.1 1442.8 210.7 1444.8 211.2C1446.7 211.6 1448.9 208 1451 206.8C1453 205.6 1456.1 204.5 1457.2 204" fill="none" stroke="#808285" stroke-width="1.5" stroke-linecap="round"/><path d="M1420.1 225.3C1420.5 226.6 1422.8 230.7 1422.8 232.9C1422.8 235.1 1422.6 237.5 1420.1 238.4C1417.5 239.3 1411.6 238 1407.7 238.4C1403.8 238.7 1399.3 239.3 1396.7 240.4C1394.1 241.6 1392.1 243.5 1391.9 245.2C1391.7 247 1393.7 248.9 1395.3 250.7C1396.9 252.6 1401.1 254.4 1401.5 256.2C1402 258.1 1400.5 260.7 1398.1 261.7C1395.7 262.8 1390.3 262.1 1387.1 262.4C1383.9 262.8 1380.6 262.8 1378.9 263.8C1377.1 264.8 1377.1 267.8 1376.8 268.6" fill="none" stroke="#808285" stroke-width="1.5" stroke-linecap="round"/><path d="M1444.5 262.4C1444.1 264.1 1443.6 269.5 1442 272.7C1440.5 275.9 1438.4 279.7 1435.2 281.6C1432 283.6 1426.2 283.7 1422.8 284.4C1419.4 285.1 1416.9 285.1 1414.6 285.8C1412.3 286.5 1410 288.1 1409.1 288.5" fill="none" stroke="#808285" stroke-width="1.5" stroke-linecap="round"/><path d="M1473.6 267.2C1473.8 268.1 1473.6 271.2 1474.3 272.7C1475 274.2 1476.6 275.5 1477.8 276.2C1479 276.8 1481 276.7 1481.6 276.8" fill="none" stroke="#808285" stroke-width="1.5" stroke-linecap="round"/><path d="M1501.1 237.7C1500.7 238.9 1499.3 242.5 1498.4 245.2C1497.4 248 1495.9 252.7 1495.3 254.2" fill="none" stroke="#808285" stroke-width="1.5" stroke-linecap="round"/><path d="M1518.7 259.3C1517.4 259.9 1512.8 261.3 1510.7 263.1C1508.7 264.9 1506.6 267 1506.6 270C1506.6 272.9 1509 277.3 1510.7 281C1512.5 284.6 1516.2 288.7 1516.9 292C1517.6 295.2 1516.7 297.9 1514.9 300.2C1513 302.4 1507.4 304.5 1505.9 305.4" fill="none" stroke="#808285" stroke-width="1.5" stroke-linecap="round"/><text x="230.5" y="204.8" font-size="33.5" textLength="46.5" lengthAdjust="spacingAndGlyphs">IAA</text><text x="775.8" y="173.9" font-size="33.5" textLength="48" lengthAdjust="spacingAndGlyphs">IAA</text><text font-size="33.5" textLength="48" lengthAdjust="spacingAndGlyphs" transform="translate(1109 167.9) rotate(8.7)">IAA</text><text x="295.2" y="294.1" font-size="30" textLength="55.8" lengthAdjust="spacingAndGlyphs" stroke="#000" stroke-width="0.4">auxin</text><text x="330" y="146" font-size="33" textLength="168.5" lengthAdjust="spacingAndGlyphs" stroke="#000" stroke-width="0.4">Target protein</text><text x="133" y="34.3" font-size="36" textLength="331" lengthAdjust="spacingAndGlyphs" fill="#231f20">Auxin degron system</text><text x="13.5" y="27" font-size="49" font-weight="bold" fill="#231f20">a</text>
<rect x="135" y="459.5" width="278" height="286.2" fill="#000"/><g clip-path="url(#clipb)"><path d="M174.8 602.3C174.8 595.1 174.3 587.6 175.1 580.5C176 573.4 177.7 566.5 180 559.9C182.2 553.3 184.8 547 188.5 541C192.3 535 197.4 528.4 202.3 523.8C207.1 519.3 212.9 516.7 217.7 513.5C222.6 510.4 227.2 507.5 231.5 505C235.8 502.4 238.3 499.6 243.5 498.1C248.6 496.6 256.4 496.2 262.4 496C268.4 495.9 274.1 496.3 279.6 497.2C285 498.1 290.4 499.7 295 501.5C299.6 503.4 303.6 507.1 307 508.4C310.5 509.7 313.5 507.8 315.6 509.2C317.8 510.7 317.9 514.5 319.9 517C321.9 519.4 325.5 521 327.6 523.8C329.8 526.7 334.2 531 332.8 534.1C331.4 537.3 323.4 539.3 319.1 542.7C314.8 546.2 310.3 551.2 307 554.8C303.7 558.3 299.6 560.5 299.3 564.2C299 567.9 304.1 573.4 305.3 577.1C306.5 580.8 305.7 584.8 306.5 586.5C307.4 588.2 309.8 584.8 310.5 587.4C311.1 590 310.5 597.3 310.5 602.3C310.5 607.3 311.1 614.6 310.5 617.3C309.8 619.9 307.4 616.4 306.5 618.1C305.7 619.8 306.5 623.9 305.3 627.6C304.1 631.3 299 636.7 299.3 640.5C299.6 644.2 303.7 646.3 307 649.9C310.3 653.5 314.8 658.5 319.1 661.9C323.4 665.4 331.4 667.4 332.8 670.5C334.2 673.7 329.8 677.9 327.6 680.8C325.5 683.7 321.9 685.2 319.9 687.7C317.9 690.1 317.8 694 315.6 695.4C313.5 696.8 310.5 695 307 696.3C303.6 697.6 299.6 701.3 295 703.1C290.4 705 285 706.5 279.6 707.4C274.1 708.3 268.4 708.8 262.4 708.6C256.4 708.5 248.6 708.1 243.5 706.6C238.3 705.1 235.8 702.3 231.5 699.7C227.2 697.1 222.6 694.3 217.7 691.1C212.9 688 207.1 685.4 202.3 680.8C197.4 676.2 192.3 669.6 188.5 663.6C184.8 657.6 182.2 651.3 180 644.7C177.7 638.2 176 631.2 175.1 624.1C174.3 617.1 174.8 609.6 174.8 602.3Z" fill="#3F58A7" stroke="#000" stroke-width="1.45" stroke-linejoin="round"/><path d="M183.4 602.3C183.4 595.6 183.2 589.3 184.2 582.2C185.2 575.2 187.3 566.8 189.4 559.9C191.5 553 193.3 546.7 197.1 541C201 535.3 207.7 529.7 212.6 525.6C217.4 521.4 221.5 519.6 226.3 516.1C231.2 512.7 235.8 507.5 241.8 505C247.8 502.4 256.1 501.1 262.4 500.7C268.7 500.2 273.8 501.1 279.6 502.4C285.3 503.7 292.2 506.2 296.7 508.4C301.3 510.5 303.9 513 307 515.3C310.2 517.5 313.6 519.6 315.6 522.1C317.6 524.7 319.3 527.3 319.1 530.7C318.8 534.1 317.1 539.6 313.9 542.7C310.8 545.9 304.2 548.2 300.2 549.6C296.2 551 292.4 549.6 289.9 551.3C287.3 553 285.3 556.2 284.7 559.9C284.1 563.6 285.4 569.1 286.4 573.6C287.4 578.2 289.9 582.6 290.7 587.4C291.6 592.2 291.6 597.3 291.6 602.3C291.6 607.3 291.6 612.5 290.7 617.3C289.9 622 287.4 626.4 286.4 631C285.4 635.6 284.1 641 284.7 644.7C285.3 648.5 287.3 651.6 289.9 653.3C292.4 655 296.2 653.6 300.2 655C304.2 656.5 310.8 658.8 313.9 661.9C317.1 665.1 318.8 670.5 319.1 673.9C319.3 677.4 317.6 680 315.6 682.5C313.6 685.1 310.2 687.1 307 689.4C303.9 691.7 301.3 694.1 296.7 696.3C292.2 698.4 285.3 701 279.6 702.3C273.8 703.6 268.7 704.4 262.4 704C256.1 703.6 247.8 702.3 241.8 699.7C235.8 697.1 231.2 692 226.3 688.5C221.5 685.1 217.4 683.2 212.6 679.1C207.7 674.9 201 669.4 197.1 663.6C193.3 657.9 191.5 651.6 189.4 644.7C187.3 637.9 185.2 629.5 184.2 622.4C183.2 615.4 183.4 609 183.4 602.3Z" fill="#4A86C5" stroke="#000" stroke-width="1.45" stroke-linejoin="round"/><ellipse cx="251.7" cy="602.3" rx="18.5" ry="42.1" fill="#3F58A7" stroke="#000" stroke-width="1.45"/><ellipse cx="247.4" cy="602.3" rx="10.8" ry="34.9" fill="#000" stroke="#000" stroke-width="1.45"/><path d="M192 602.3C192 596.2 192.1 590.7 192.8 584C193.6 577.2 194.7 568.2 196.3 561.6C197.8 555 199.3 549.7 202.3 544.5C205.3 539.2 210 534.1 214.3 529.9C218.6 525.6 222.9 522.4 228 518.7C233.2 515 239.5 510.1 245.2 507.5C250.9 505 256.7 503.6 262.4 503.2C268.1 502.9 274.1 504 279.6 505.3C285 506.6 290.7 508.9 295 511C299.3 513.1 302.3 515.4 305.3 517.8C308.3 520.3 311.5 522.8 313 525.6C314.6 528.3 315.5 531.3 314.8 534.1C314 537 311.8 540.4 308.8 542.7C305.7 545 301 546.6 296.7 547.9C292.4 549.2 287 549.3 283 550.5C279 551.7 276.1 554.7 272.7 555.1C269.3 555.5 266.4 553 262.4 553C258.4 553.1 252.7 554.2 248.6 555.6C244.6 557 241.2 559.2 238.3 561.6C235.5 564.1 233.2 566.8 231.5 570.2C229.8 573.6 228.8 576.9 228 582.2C227.2 587.6 226.7 595.6 226.7 602.3C226.7 609 227.2 617.1 228 622.4C228.8 627.8 229.8 631 231.5 634.4C233.2 637.9 235.5 640.6 238.3 643C241.2 645.5 244.6 647.6 248.6 649C252.7 650.5 258.4 651.5 262.4 651.6C266.4 651.7 269.3 649.1 272.7 649.6C276.1 650 279 653 283 654.2C287 655.4 292.4 655.5 296.7 656.8C301 658.1 305.7 659.6 308.8 661.9C311.8 664.2 314 667.6 314.8 670.5C315.5 673.4 314.6 676.4 313 679.1C311.5 681.8 308.3 684.4 305.3 686.8C302.3 689.3 299.3 691.6 295 693.7C290.7 695.8 285 698.1 279.6 699.4C274.1 700.6 268.1 701.8 262.4 701.4C256.7 701 250.9 699.7 245.2 697.1C239.5 694.5 233.2 689.7 228 686C222.9 682.2 218.6 679.1 214.3 674.8C210 670.5 205.3 665.5 202.3 660.2C199.3 654.9 197.8 649.6 196.3 643C194.7 636.4 193.6 627.5 192.8 620.7C192.1 613.9 192 608.5 192 602.3Z" fill="#6FCBD5" stroke="#000" stroke-width="1.45" stroke-linejoin="round"/><path d="M198 602.3C198 596.8 198.3 591.6 198.8 585.7C199.4 579.7 200.3 572.8 201.4 566.8C202.6 560.8 203.3 555 205.7 549.6C208.1 544.2 212 538.7 216 534.1C220 529.6 224.9 526 229.8 522.1C234.6 518.3 239.8 513.6 245.2 511C250.7 508.3 256.7 506.8 262.4 506.3C268.1 505.9 274.4 507.2 279.6 508.4C284.7 509.6 289.3 511.5 293.3 513.5C297.3 515.5 301 518 303.6 520.4C306.2 522.8 307.8 525.7 308.8 528.1C309.8 530.6 310.5 532.9 309.6 535C308.8 537.2 306.9 539.6 303.6 541C300.3 542.4 294.4 542.7 289.9 543.6C285.3 544.5 280.7 545.2 276.1 546.2C271.5 547.2 267 548.5 262.4 549.6C257.8 550.7 252.7 551.6 248.6 553C244.6 554.5 241.5 556.2 238.3 558.2C235.2 560.2 232 562.5 229.8 565.1C227.5 567.6 226.6 571.2 224.6 573.6C222.6 576.1 220.3 578.5 217.7 579.7C215.2 580.8 211.2 579.2 209.1 580.5C207.1 581.8 206.4 583.8 205.7 587.4C205 591 204.9 597.3 204.9 602.3C204.9 607.3 205 613.6 205.7 617.3C206.4 620.9 207.1 622.8 209.1 624.1C211.2 625.4 215.2 623.9 217.7 625C220.3 626.1 222.6 628.6 224.6 631C226.6 633.4 227.5 637 229.8 639.6C232 642.2 235.2 644.5 238.3 646.5C241.5 648.5 244.6 650.2 248.6 651.6C252.7 653 257.8 653.9 262.4 655C267 656.2 271.5 657.5 276.1 658.5C280.7 659.5 285.3 660.2 289.9 661.1C294.4 661.9 300.3 662.2 303.6 663.6C306.9 665.1 308.8 667.5 309.6 669.6C310.5 671.8 309.8 674.1 308.8 676.5C307.8 678.9 306.2 681.8 303.6 684.2C301 686.7 297.3 689.1 293.3 691.1C289.3 693.1 284.7 695.1 279.6 696.3C274.4 697.5 268.1 698.8 262.4 698.3C256.7 697.9 250.7 696.3 245.2 693.7C239.8 691.1 234.6 686.4 229.8 682.5C224.9 678.7 220 675.1 216 670.5C212 665.9 208.1 660.5 205.7 655C203.3 649.6 202.6 643.9 201.4 637.9C200.3 631.9 199.4 624.9 198.8 619C198.3 613.1 198 607.9 198 602.3Z" fill="#A0CE5E" stroke="#000" stroke-width="1.45" stroke-linejoin="round"/><path d="M205.3 560.1L205.9 563.2L206.7 564.9L209.3 568.2L211.8 570.2L214.6 571.6L217.6 572.3L220.8 572.3L224.2 571.6L228.8 569.3L234.6 563.1L241.1 557.3L244.6 554.8L248.2 553L265.3 546.3L272.1 544.1L283.3 541.4L295.4 540.1L300.6 538.1L303.3 535.9L304.7 533.2L305 531L304.3 527.5L301.9 522.7L299.2 519.8L292.7 515.2L284.8 511.1L277.5 508.8L268.2 507.3L262.2 507.2L254.8 508.6L247.7 511.7L239.7 516.4L231.8 522.2L225.3 528.2L217.6 536.8L210.4 546.4L208 550.6L206.3 554.4Z" fill="none" stroke="#000" stroke-width="0.8"/><path d="M207.4 559.9C207.4 557 208.6 553.6 210.9 549.6C213.2 545.6 217.4 540.2 221.2 535.9C224.9 531.6 228.6 527.6 233.2 523.8C237.8 520.1 243.8 516 248.6 513.5C253.5 511.1 257.2 509.6 262.4 509.2C267.5 508.9 274.7 510.2 279.6 511.5C284.4 512.8 288.1 514.9 291.6 517C295 519 298.3 521.3 300.2 523.8C302 526.4 303.3 530.1 302.7 532.4C302.2 534.7 300 536.4 296.7 537.6C293.4 538.7 287.6 538.4 283 539.3C278.4 540.2 273.8 541.3 269.3 542.7C264.7 544.2 259.8 546.2 255.5 547.9C251.2 549.6 247.2 550.7 243.5 553C239.8 555.3 236.1 559.1 233.2 561.6C230.3 564.2 228.9 567.1 226.3 568.5C223.7 569.9 220.3 570.5 217.7 570.2C215.2 569.9 212.6 568.5 210.9 566.8C209.1 565.1 207.4 562.8 207.4 559.9Z" fill="#F4E52B" stroke="#000" stroke-width="1.45" stroke-linejoin="round"/><path d="M205.3 644.5L206.3 650.2L208 654.1L210.4 658.3L217.6 667.9L225.3 676.5L231.8 682.4L239.7 688.2L247.7 693L254.8 696.1L262.2 697.5L268.2 697.4L277.5 695.9L284.8 693.6L292.7 689.5L299.2 684.9L301.9 681.9L304.3 677.1L305 673.7L304.7 671.5L303.3 668.8L300.6 666.6L295.4 664.6L283.3 663.3L272.1 660.6L265.3 658.4L248.2 651.7L244.6 649.8L241.1 647.3L234.6 641.5L228.8 635.3L224.2 633L220.8 632.4L217.6 632.3L214.6 633.1L211.8 634.5L209.3 636.4L206.7 639.7L205.9 641.5Z" fill="none" stroke="#000" stroke-width="0.8"/><path d="M207.4 644.7C207.4 647.6 208.6 651 210.9 655C213.2 659.1 217.4 664.5 221.2 668.8C224.9 673.1 228.6 677.1 233.2 680.8C237.8 684.5 243.8 688.7 248.6 691.1C253.5 693.5 257.2 695.1 262.4 695.4C267.5 695.7 274.7 694.5 279.6 693.2C284.4 691.9 288.1 689.7 291.6 687.7C295 685.6 298.3 683.4 300.2 680.8C302 678.2 303.3 674.5 302.7 672.2C302.2 669.9 300 668.2 296.7 667.1C293.4 665.9 287.6 666.2 283 665.4C278.4 664.5 273.8 663.3 269.3 661.9C264.7 660.5 259.8 658.5 255.5 656.8C251.2 655 247.2 653.9 243.5 651.6C239.8 649.3 236.1 645.6 233.2 643C230.3 640.5 228.9 637.6 226.3 636.2C223.7 634.7 220.3 634.2 217.7 634.4C215.2 634.7 212.6 636.2 210.9 637.9C209.1 639.6 207.4 641.9 207.4 644.7Z" fill="#F4E52B" stroke="#000" stroke-width="1.45" stroke-linejoin="round"/><path d="M209.6 558L209.7 560.6L210.5 562.1L214.3 564.9L216.9 565.9L219.8 566.4L224.6 565.3L231 561.6L241.2 553.1L246.8 550.1L257.4 545.2L266.6 541.3L273.4 538.9L280.1 537L289 535.6L292.7 534.2L294.2 532.7L295 530.7L295 527.6L294 523.6L291.8 519.6L289.5 517.1L285.4 514.3L280.2 512.4L272.4 510.7L266.6 510.1L261.5 510.3L255.3 512.2L248.8 515.5L243.9 518.7L237 523.9L233.2 527.4L217.5 544.7L212.1 552.5Z" fill="none" stroke="#000" stroke-width="0.8"/><path d="M211.7 558.2C212.3 555.8 215 551.6 217.7 547.9C220.5 544.2 224.6 539.6 228 535.9C231.5 532.1 234.3 528.9 238.3 525.6C242.4 522.3 247.8 518.3 252.1 516.1C256.4 513.9 259.5 512.5 264.1 512.2C268.7 511.9 275.6 513.3 279.6 514.4C283.6 515.5 286 516.8 288.1 518.7C290.3 520.6 291.9 523.3 292.4 525.6C293 527.9 293.7 530.9 291.6 532.4C289.4 534 283.9 533.9 279.6 535C275.3 536.2 270.4 537.6 265.8 539.3C261.2 541 256.4 543.3 252.1 545.3C247.8 547.3 243.8 548.9 240.1 551.3C236.3 553.8 232.9 557.8 229.8 559.9C226.6 562.1 223.7 563.8 221.2 564.2C218.6 564.6 215.9 563.5 214.3 562.5C212.7 561.5 211.2 560.6 211.7 558.2Z" fill="#F47B20" stroke="#000" stroke-width="1.45" stroke-linejoin="round"/><path d="M209.6 646.7L212.1 652.2L217.5 660L233.2 677.3L237 680.7L243.9 686L248.8 689.1L255.3 692.4L261.5 694.3L266.6 694.6L272.4 694L280.2 692.3L285.4 690.3L289.5 687.6L291.8 685L294 681.1L295 677L295 673.9L294.2 672L292.7 670.4L289 669.1L280.1 667.6L273.4 665.7L266.6 663.4L257.4 659.5L246.8 654.6L241.2 651.6L231 643.1L224.6 639.3L219.8 638.3L216.9 638.7L214.3 639.8L210.5 642.6L209.7 644.1Z" fill="none" stroke="#000" stroke-width="0.8"/><path d="M211.7 646.5C212.3 648.9 215 653 217.7 656.8C220.5 660.5 224.6 665.1 228 668.8C231.5 672.5 234.3 675.8 238.3 679.1C242.4 682.4 247.8 686.3 252.1 688.5C256.4 690.8 259.5 692.2 264.1 692.5C268.7 692.8 275.6 691.3 279.6 690.3C283.6 689.2 286 687.8 288.1 686C290.3 684.1 291.9 681.4 292.4 679.1C293 676.8 293.7 673.8 291.6 672.2C289.4 670.6 283.9 670.8 279.6 669.6C275.3 668.5 270.4 667.1 265.8 665.4C261.2 663.6 256.4 661.3 252.1 659.3C247.8 657.3 243.8 655.8 240.1 653.3C236.3 650.9 232.9 646.9 229.8 644.7C226.6 642.6 223.7 640.9 221.2 640.5C218.6 640 215.9 641.2 214.3 642.2C212.7 643.2 211.2 644 211.7 646.5Z" fill="#F47B20" stroke="#000" stroke-width="1.45" stroke-linejoin="round"/><path d="M231.3 532.7L229 541.6L229.2 543.4L230.4 546.2L231.7 548.2L233.1 549.3L234.5 549.9L236.1 550.1L238.6 549.6L259.9 541L269.6 536.2L272.4 534L273.7 532.5L277.6 525.3L282.7 523.1L283.3 521.8L283.2 520.5L281.3 518.3L278.4 516.5L268.3 512.4L264 511.8L258.1 512.8L251.2 516.1L244 522.1L234.8 527.9L233.2 529.5Z" fill="none" stroke="#000" stroke-width="0.8"/><path d="M231.5 539.3C232 537.2 232.6 533.3 234.9 530.7C237.2 528.1 242.1 526.1 245.2 523.8C248.4 521.6 250.7 518.6 253.8 517C256.9 515.3 260.7 513.9 264.1 513.9C267.5 513.9 271.5 515.7 274.4 517C277.3 518.2 281 520.1 281.3 521.3C281.6 522.4 277.8 522 276.1 523.8C274.4 525.7 273.3 530.1 271 532.4C268.7 534.7 265.5 536 262.4 537.6C259.2 539.2 255.5 540.4 252.1 541.9C248.6 543.3 244.6 545.2 241.8 546.2C238.9 547.2 236.6 548.3 234.9 547.9C233.2 547.5 232 545 231.5 543.6C230.9 542.2 230.9 541.4 231.5 539.3Z" fill="#E21E26" stroke="#000" stroke-width="1.45" stroke-linejoin="round"/><path d="M229 663.1L231.3 672L233.2 675.2L234.8 676.7L244 682.5L251.2 688.5L258.1 691.8L264 692.9L268.3 692.2L278.4 688.1L281.3 686.3L283.2 684.1L283.3 682.9L282.7 681.5L277.6 679.3L273.7 672.2L272.4 670.6L269.6 668.5L259.9 663.6L238.6 655.1L236.1 654.6L234.5 654.7L233.1 655.3L231.7 656.5L230.4 658.5L229.2 661.2Z" fill="none" stroke="#000" stroke-width="0.8"/><path d="M231.5 665.4C232 667.5 232.6 671.4 234.9 673.9C237.2 676.5 242.1 678.5 245.2 680.8C248.4 683.1 250.7 686 253.8 687.7C256.9 689.3 260.7 690.8 264.1 690.8C267.5 690.8 271.5 688.9 274.4 687.7C277.3 686.4 281 684.5 281.3 683.4C281.6 682.2 277.8 682.7 276.1 680.8C274.4 678.9 273.3 674.5 271 672.2C268.7 669.9 265.5 668.6 262.4 667.1C259.2 665.5 255.5 664.2 252.1 662.8C248.6 661.3 244.6 659.5 241.8 658.5C238.9 657.5 236.6 656.3 234.9 656.8C233.2 657.2 232 659.6 231.5 661.1C230.9 662.5 230.9 663.2 231.5 665.4Z" fill="#E21E26" stroke="#000" stroke-width="1.45" stroke-linejoin="round"/><path d="M234.1 537.6C234.6 535.7 235.9 532.6 238.3 530.7C240.8 528.9 245.8 528.3 248.6 526.4C251.5 524.6 252.9 521.1 255.5 519.6C258.1 518 261.8 516.8 264.1 517C266.4 517.1 268.7 518.4 269.3 520.4C269.8 522.4 269 526.7 267.5 529C266.1 531.3 263.5 532.6 260.7 534.1C257.8 535.7 253.8 537 250.4 538.4C246.9 539.9 242.6 542.2 240.1 542.7C237.5 543.3 235.9 542.7 234.9 541.9C233.9 541 233.5 539.4 234.1 537.6Z" fill="#7E1416" stroke="#000" stroke-width="1.45" stroke-linejoin="round"/><path d="M234.1 667.1C234.6 668.9 235.9 672.1 238.3 673.9C240.8 675.8 245.8 676.4 248.6 678.2C251.5 680.1 252.9 683.5 255.5 685.1C258.1 686.7 261.8 687.8 264.1 687.7C266.4 687.5 268.7 686.2 269.3 684.2C269.8 682.2 269 677.9 267.5 675.7C266.1 673.4 263.5 672.1 260.7 670.5C257.8 668.9 253.8 667.6 250.4 666.2C246.9 664.8 242.6 662.5 240.1 661.9C237.5 661.3 235.9 661.9 234.9 662.8C233.9 663.6 233.5 665.2 234.1 667.1Z" fill="#7E1416" stroke="#000" stroke-width="1.45" stroke-linejoin="round"/><ellipse cx="273.5" cy="602.4" rx="112.5" ry="114.6" fill="none" stroke="#F2E526" stroke-width="3.1" stroke-dasharray="13 6.5"/><ellipse cx="349.1" cy="602" rx="43" ry="66" fill="none" stroke="#E4232B" stroke-width="3" stroke-dasharray="5 3.5 1.5 3.5"/><path d="M324.2 602.3H367.1" stroke="#E4232B" stroke-width="2.8"/><circle cx="345.3" cy="602.3" r="5.2" fill="#000" stroke="#E4232B" stroke-width="2.8"/></g><text x="149.9" y="740.2" font-size="25.5" textLength="119.4" lengthAdjust="spacingAndGlyphs" fill="#fff">(N = 1126)</text><rect x="428.3" y="459.5" width="21.7" height="286.2" fill="url(#jet)" stroke="#000" stroke-width="1.2"/><text x="452" y="469" font-size="26">80</text><path d="M428.3 531h3M450 531h-3" stroke="#000" stroke-width="1.2"/><text x="452" y="540.5" font-size="26">60</text><path d="M428.3 602.6h3M450 602.6h-3" stroke="#000" stroke-width="1.2"/><text x="452" y="612.1" font-size="26">40</text><path d="M428.3 674.2h3M450 674.2h-3" stroke="#000" stroke-width="1.2"/><text x="452" y="683.7" font-size="26">20</text><text x="452" y="755.2" font-size="26">0</text><text font-size="25" text-anchor="middle" textLength="107" lengthAdjust="spacingAndGlyphs" transform="translate(521.5 607.5) rotate(-90)">% of cells</text><text x="132.8" y="515.2" font-size="26" text-anchor="end">1</text><text x="132.8" y="563.7" font-size="26" text-anchor="end">0.5</text><text x="132.8" y="611.7" font-size="26" text-anchor="end">0</text><text x="132.8" y="660.7" font-size="26" text-anchor="end">-0.5</text><text x="132.8" y="708.9" font-size="26" text-anchor="end">-1</text><text x="175.5" y="771.5" font-size="26" text-anchor="middle">-1</text><text x="273.5" y="771.5" font-size="26" text-anchor="middle">0</text><text x="366.6" y="771.5" font-size="26" text-anchor="middle">1</text><text x="270" y="797.3" font-size="26" text-anchor="middle" textLength="155" lengthAdjust="spacingAndGlyphs">R cos(α) (µm)</text><text font-size="26" text-anchor="middle" textLength="154" lengthAdjust="spacingAndGlyphs" transform="translate(77.5 604.6) rotate(-90)">R sin(α) (µm)</text><text x="274.7" y="447.3" font-size="43" text-anchor="middle" textLength="178.5" lengthAdjust="spacingAndGlyphs" fill="#231f20">Esa1-AID</text><text x="10.3" y="420" font-size="46" font-weight="bold" fill="#231f20">b</text>
<rect x="691.7" y="460" width="278.5" height="286.2" fill="#000"/><g clip-path="url(#clipc)"><path d="M728.9 602.7C728.9 596.4 728.8 590.8 729.8 584C730.8 577.1 732.4 568.5 735 561.6C737.5 554.8 741.8 548.2 745.3 542.7C748.7 537.3 752.1 533.4 755.6 529C759 524.6 761.9 519.3 765.9 516.1C769.9 513 775.3 512.5 779.6 510.1C783.9 507.7 787.6 504 791.6 501.5C795.6 499.1 799.4 497 803.6 495.5C807.9 494 813.4 492.4 817.4 492.6C821.4 492.7 823.4 495.2 827.7 496.4C832 497.6 838.3 498.5 843.1 499.8C848 501.1 852.6 502.4 856.9 504.1C861.2 505.8 865 508.5 868.9 510.1C872.8 511.7 877.8 511.5 880.1 513.5C882.4 515.5 882.1 519.3 882.6 522.1C883.2 525 883.1 528.4 883.5 530.7C883.9 533 885.8 533.3 885.2 535.9C884.6 538.4 881.9 542.2 880.1 546.2C878.2 550.2 875.5 554.8 874.1 559.9C872.6 565.1 872.1 570 871.5 577.1C870.9 584.2 870.6 594.1 870.6 602.7C870.6 611.2 870.9 621.1 871.5 628.3C872.1 635.4 872.6 640.3 874.1 645.4C875.5 650.6 878.2 655.2 880.1 659.2C881.9 663.2 884.6 666.9 885.2 669.5C885.8 672.1 883.9 672.3 883.5 674.6C883.1 676.9 883.2 680.4 882.6 683.2C882.1 686.1 882.4 689.8 880.1 691.8C877.8 693.8 872.8 693.7 868.9 695.2C865 696.8 861.2 699.5 856.9 701.2C852.6 703 848 704.3 843.1 705.5C838.3 706.8 832 707.8 827.7 709C823.4 710.2 821.4 712.6 817.4 712.8C813.4 712.9 807.9 711.3 803.6 709.8C799.4 708.3 795.6 706.3 791.6 703.8C787.6 701.4 783.9 697.7 779.6 695.2C775.3 692.8 769.9 692.4 765.9 689.2C761.9 686.1 759 680.8 755.6 676.3C752.1 671.9 748.7 668 745.3 662.6C741.8 657.2 737.5 650.6 735 643.7C732.4 636.8 730.8 628.2 729.8 621.4C728.8 614.5 728.9 608.9 728.9 602.7Z" fill="#3F58A7" stroke="#000" stroke-width="1.45" stroke-linejoin="round"/><path d="M733.2 602.7C733.2 597 733.1 592.2 734.1 585.7C735.1 579.1 736.8 570.2 739.2 563.3C741.7 556.5 745.7 549.6 748.7 544.5C751.7 539.3 753.8 536.4 757.3 532.4C760.7 528.4 765.3 523.6 769.3 520.4C773.3 517.3 777.3 516.1 781.3 513.5C785.3 511 789.3 507.4 793.3 505C797.4 502.5 801.4 500.2 805.4 498.9C809.4 497.7 813.4 496.9 817.4 497.2C821.4 497.5 825.1 499.7 829.4 500.7C833.7 501.7 838.9 501.9 843.1 503.2C847.4 504.5 851.7 506.4 855.2 508.4C858.6 510.4 861.5 512.7 863.8 515.3C866 517.8 866.9 521 868.9 523.8C870.9 526.7 874.9 529.6 875.8 532.4C876.6 535.3 875.6 538.4 874.1 541C872.5 543.6 868.3 544.7 866.3 547.9C864.3 551 862.9 550.8 862 559.9C861.2 569 861.2 588.4 861.2 602.7C861.2 616.9 861.2 636.3 862 645.4C862.9 654.6 864.3 654.3 866.3 657.5C868.3 660.6 872.5 661.7 874.1 664.3C875.6 666.9 876.6 670 875.8 672.9C874.9 675.8 870.9 678.6 868.9 681.5C866.9 684.4 866 687.5 863.8 690.1C861.5 692.7 858.6 694.9 855.2 697C851.7 699 847.4 700.8 843.1 702.1C838.9 703.4 833.7 703.7 829.4 704.7C825.1 705.7 821.4 707.8 817.4 708.1C813.4 708.4 809.4 707.7 805.4 706.4C801.4 705.1 797.4 702.8 793.3 700.4C789.3 698 785.3 694.4 781.3 691.8C777.3 689.2 773.3 688.1 769.3 684.9C765.3 681.8 760.7 676.9 757.3 672.9C753.8 668.9 751.7 666 748.7 660.9C745.7 655.7 741.7 648.9 739.2 642C736.8 635.1 735.1 626.2 734.1 619.7C733.1 613.1 733.2 608.3 733.2 602.7Z" fill="#4A86C5" stroke="#000" stroke-width="1.45" stroke-linejoin="round"/><path d="M737.5 602.7C737.5 597 738.1 591.9 739.2 585.7C740.4 579.4 742.3 571.4 744.4 565.1C746.5 558.8 749.4 553 752.1 547.9C754.8 542.7 757.3 538.4 760.7 534.1C764.1 529.9 768.7 525.3 772.7 522.1C776.7 519 780.7 517.7 784.8 515.3C788.8 512.8 792.8 509.8 796.8 507.5C800.8 505.2 805.1 502.7 808.8 501.5C812.5 500.4 815.7 500.2 819.1 500.7C822.5 501.1 825.4 503.1 829.4 504.1C833.4 505.1 839.1 505.4 843.1 506.7C847.2 508 850.9 509.8 853.5 511.8C856 513.8 856.9 516.1 858.6 518.7C860.3 521.3 862.8 524.4 863.8 527.3C864.8 530.1 865.5 533.3 864.6 535.9C863.8 538.4 860 539.3 858.6 542.7C857.2 546.2 856.5 546.5 856 556.5C855.6 566.5 856 587.3 856 602.7C856 618.1 855.6 638.9 856 648.9C856.5 658.9 857.2 659.2 858.6 662.6C860 666 863.8 666.9 864.6 669.5C865.5 672.1 864.8 675.2 863.8 678.1C862.8 680.9 860.3 684.1 858.6 686.6C856.9 689.2 856 691.5 853.5 693.5C850.9 695.5 847.2 697.4 843.1 698.7C839.1 700 833.4 700.2 829.4 701.2C825.4 702.2 822.5 704.3 819.1 704.7C815.7 705.1 812.5 705 808.8 703.8C805.1 702.7 800.8 700.1 796.8 697.8C792.8 695.5 788.8 692.5 784.8 690.1C780.7 687.6 776.7 686.4 772.7 683.2C768.7 680.1 764.1 675.5 760.7 671.2C757.3 666.9 754.8 662.6 752.1 657.5C749.4 652.3 746.5 646.6 744.4 640.3C742.3 634 740.4 625.9 739.2 619.7C738.1 613.4 737.5 608.3 737.5 602.7Z" fill="#6FCBD5" stroke="#000" stroke-width="1.45" stroke-linejoin="round"/><path d="M743.5 602.7C743.5 597.6 743.5 593.1 744.4 587.4C745.3 581.7 746.8 574.5 748.7 568.5C750.6 562.5 753 556.8 755.6 551.3C758.1 545.9 761 540.3 764.1 535.9C767.3 531.4 770.7 527.9 774.5 524.7C778.2 521.6 782.5 519.6 786.5 517C790.5 514.4 794.5 511 798.5 509.2C802.5 507.5 806.8 507.2 810.5 506.7C814.2 506.1 817.4 505.5 820.8 505.8C824.3 506.1 827.4 507.5 831.1 508.4C834.8 509.2 839.7 509.7 843.1 511C846.6 512.3 849.7 514 851.7 516.1C853.7 518.3 854.9 521.1 855.2 523.8C855.5 526.6 854.6 529.6 853.5 532.4C852.3 535.3 849 537 848.3 541C847.6 545 848.9 546.2 849.2 556.5C849.4 566.7 850 587.3 850 602.7C850 618.1 849.4 638.6 849.2 648.9C848.9 659.1 847.6 660.3 848.3 664.3C849 668.3 852.3 670 853.5 672.9C854.6 675.8 855.5 678.8 855.2 681.5C854.9 684.2 853.7 687.1 851.7 689.2C849.7 691.4 846.6 693.1 843.1 694.4C839.7 695.7 834.8 696.1 831.1 697C827.4 697.8 824.3 699.2 820.8 699.5C817.4 699.8 814.2 699.2 810.5 698.7C806.8 698.1 802.5 697.8 798.5 696.1C794.5 694.4 790.5 690.9 786.5 688.4C782.5 685.8 778.2 683.8 774.5 680.6C770.7 677.5 767.3 673.9 764.1 669.5C761 665 758.1 659.5 755.6 654C753 648.6 750.6 642.9 748.7 636.8C746.8 630.8 745.3 623.7 744.4 618C743.5 612.3 743.5 607.8 743.5 602.7Z" fill="#A0CE5E" stroke="#000" stroke-width="1.45" stroke-linejoin="round"/><path d="M753 602.7C753 596.4 753.1 590.2 753.8 584C754.6 577.7 755.8 571.1 757.3 565.1C758.7 559.1 760.4 552.8 762.4 547.9C764.4 543 766.7 539.6 769.3 535.9C771.9 532.1 774.7 528.4 777.9 525.6C781 522.7 784.5 520.6 788.2 518.7C791.9 516.8 796.2 515.4 800.2 514.4C804.2 513.4 808.5 513.4 812.2 512.7C816 512 819.1 510.1 822.5 510.1C826 510.1 829.4 511.8 832.8 512.7C836.3 513.5 840.4 514 843.1 515.3C845.9 516.5 847.9 518.6 849.2 520.4C850.4 522.3 851.3 524.4 850.9 526.4C850.4 528.4 848 530 846.6 532.4C845.1 534.9 842.7 537 842.3 541C841.9 545 843.4 546.2 844 556.5C844.6 566.7 845.7 587.3 845.7 602.7C845.7 618.1 844.6 638.6 844 648.9C843.4 659.1 841.9 660.3 842.3 664.3C842.7 668.3 845.1 670.5 846.6 672.9C848 675.3 850.4 676.9 850.9 678.9C851.3 680.9 850.4 683.1 849.2 684.9C847.9 686.8 845.9 688.8 843.1 690.1C840.4 691.4 836.3 691.8 832.8 692.7C829.4 693.5 826 695.2 822.5 695.2C819.1 695.2 816 693.4 812.2 692.7C808.5 691.9 804.2 691.9 800.2 690.9C796.2 689.9 791.9 688.5 788.2 686.6C784.5 684.8 781 682.6 777.9 679.8C774.7 676.9 771.9 673.2 769.3 669.5C766.7 665.8 764.4 662.3 762.4 657.5C760.4 652.6 758.7 646.3 757.3 640.3C755.8 634.3 754.6 627.7 753.8 621.4C753.1 615.1 753 608.9 753 602.7Z" fill="#F4E52B" stroke="#000" stroke-width="1.45" stroke-linejoin="round"/><path d="M758.1 602.7C758.1 596.4 758.3 590.2 759 584C759.7 577.7 761 571.1 762.4 565.1C763.9 559.1 765.7 552.8 767.6 547.9C769.4 543 771.3 539.6 773.6 535.9C775.9 532.1 778.3 528.3 781.3 525.6C784.3 522.8 787.9 521 791.6 519.6C795.3 518.1 799.6 517.4 803.6 517C807.7 516.5 812.5 517.4 815.7 517C818.8 516.5 820 514.5 822.5 514.4C825.1 514.3 828 515.3 831.1 516.1C834.3 517 838.9 518.3 841.4 519.6C844 520.8 846.6 522 846.6 523.8C846.6 525.7 843 527.9 841.4 530.7C839.9 533.6 837.7 537.6 837.1 541C836.6 544.5 838.3 549 838 551.3C837.7 553.6 837.7 554.8 835.4 554.8C833.1 554.8 828.4 551.9 824.3 551.3C820.1 550.7 815.1 551 810.5 551.3C805.9 551.6 801.4 552.2 796.8 553C792.2 553.9 786.8 554.8 783 556.5C779.3 558.2 776.7 559.9 774.5 563.3C772.2 566.8 770.4 570.5 769.3 577.1C768.2 583.6 767.9 594.1 767.9 602.7C767.9 611.2 768.2 621.7 769.3 628.3C770.4 634.8 772.2 638.6 774.5 642C776.7 645.4 779.3 647.1 783 648.9C786.8 650.6 792.2 651.4 796.8 652.3C801.4 653.2 805.9 653.7 810.5 654C815.1 654.3 820.1 654.6 824.3 654C828.4 653.4 833.1 650.6 835.4 650.6C837.7 650.6 837.7 651.7 838 654C838.3 656.3 836.6 660.9 837.1 664.3C837.7 667.8 839.9 671.8 841.4 674.6C843 677.5 846.6 679.6 846.6 681.5C846.6 683.4 844 684.5 841.4 685.8C838.9 687.1 834.3 688.4 831.1 689.2C828 690.1 825.1 691.1 822.5 690.9C820 690.8 818.8 688.8 815.7 688.4C812.5 687.9 807.7 688.8 803.6 688.4C799.6 687.9 795.3 687.2 791.6 685.8C787.9 684.4 784.3 682.5 781.3 679.8C778.3 677.1 775.9 673.2 773.6 669.5C771.3 665.8 769.4 662.3 767.6 657.5C765.7 652.6 763.9 646.3 762.4 640.3C761 634.3 759.7 627.7 759 621.4C758.3 615.1 758.1 608.9 758.1 602.7Z" fill="#F47B20" stroke="#000" stroke-width="1.45" stroke-linejoin="round"/><path d="M773.4 553.8L774.6 555.8L775.9 556.6L779.9 556.8L790.4 554.2L801.7 552.1L817.6 550L827.8 549.2L832.1 548L833.6 546.6L834 545.6L834.1 544.1L833.2 540.4L834 537.2L836.4 531.8L840.6 526.4L840.9 524.8L840.8 523.8L839.9 522.6L838.7 521.8L833.7 520.2L826.8 516.8L822.7 515.7L820.2 516L812 519.2L800.1 517.5L794.5 518.1L790.8 519.3L787.2 521.4L783.8 524.4L779.6 529.5L777.3 533.6L775.5 538.1L773.7 544.3L773 550.2Z" fill="none" stroke="#000" stroke-width="0.8"/><path d="M775.3 553C774.7 551 775.2 546.5 776.2 542.7C777.2 539 779 534.1 781.3 530.7C783.6 527.3 786.8 524 789.9 522.1C793.1 520.3 796.5 519.7 800.2 519.6C803.9 519.4 808.5 521.6 812.2 521.3C816 521 819.1 517.7 822.5 517.8C826 518 830.1 521 832.8 522.1C835.6 523.3 838.6 523.3 838.9 524.7C839.1 526.1 835.8 528.3 834.6 530.7C833.3 533.1 831.7 536.7 831.1 539.3C830.6 541.9 833.4 544.7 831.1 546.2C828.8 547.6 822 547.3 817.4 547.9C812.8 548.5 808.2 548.9 803.6 549.6C799.1 550.3 793.9 551.3 789.9 552.2C785.9 553 782 554.6 779.6 554.8C777.2 554.9 775.9 555 775.3 553Z" fill="#E21E26" stroke="#000" stroke-width="1.45" stroke-linejoin="round"/><path d="M773.4 651.5L773 655.1L773.7 661.1L775.5 667.3L777.3 671.8L779.6 675.8L783.8 680.9L787.2 683.9L790.8 686L794.5 687.2L800.1 687.9L812 686.2L820.2 689.3L822.7 689.6L826.8 688.6L833.7 685.2L838.7 683.6L839.9 682.8L840.8 681.5L840.9 680.5L840.6 678.9L836.4 673.6L834 668.2L833.2 664.9L834.1 661.2L834 659.7L833.6 658.7L832.1 657.3L827.8 656.1L817.6 655.4L801.7 653.3L790.4 651.1L779.9 648.5L775.9 648.7L774.6 649.5Z" fill="none" stroke="#000" stroke-width="0.8"/><path d="M775.3 652.3C774.7 654.3 775.2 658.9 776.2 662.6C777.2 666.3 779 671.2 781.3 674.6C783.6 678.1 786.8 681.4 789.9 683.2C793.1 685.1 796.5 685.6 800.2 685.8C803.9 685.9 808.5 683.8 812.2 684.1C816 684.4 819.1 687.6 822.5 687.5C826 687.4 830.1 684.4 832.8 683.2C835.6 682.1 838.6 682.1 838.9 680.6C839.1 679.2 835.8 677.1 834.6 674.6C833.3 672.2 831.7 668.6 831.1 666C830.6 663.5 833.4 660.6 831.1 659.2C828.8 657.7 822 658 817.4 657.5C812.8 656.9 808.2 656.5 803.6 655.7C799.1 655 793.9 654 789.9 653.2C785.9 652.3 782 650.7 779.6 650.6C777.2 650.4 775.9 650.3 775.3 652.3Z" fill="#E21E26" stroke="#000" stroke-width="1.45" stroke-linejoin="round"/><path d="M782.2 537.6C782.5 535.3 784.6 531.1 786.5 529C788.3 526.9 790.5 525.6 793.3 524.7C796.2 523.8 799.9 523.6 803.6 523.8C807.4 524.1 812.2 525.8 815.7 526.4C819.1 527 822.8 525.1 824.3 527.3C825.7 529.4 825.4 536.7 824.3 539.3C823.1 541.9 820.2 542.6 817.4 542.7C814.5 542.9 809.9 541.6 807.1 540.2C804.2 538.7 802.2 535.4 800.2 534.1C798.2 532.9 796.5 531.9 795.1 532.4C793.6 533 792.3 535.9 791.6 537.6C790.9 539.3 791.9 541.9 790.8 542.7C789.6 543.6 786.2 543.6 784.8 542.7C783.3 541.9 781.9 539.9 782.2 537.6Z" fill="#7E1416" stroke="#000" stroke-width="1.45" stroke-linejoin="round"/><path d="M782.2 667.8C782.5 670 784.6 674.2 786.5 676.3C788.3 678.5 790.5 679.8 793.3 680.6C796.2 681.5 799.9 681.8 803.6 681.5C807.4 681.2 812.2 679.5 815.7 678.9C819.1 678.3 822.8 680.2 824.3 678.1C825.7 675.9 825.4 668.6 824.3 666C823.1 663.5 820.2 662.7 817.4 662.6C814.5 662.5 809.9 663.8 807.1 665.2C804.2 666.6 802.2 669.9 800.2 671.2C798.2 672.5 796.5 673.5 795.1 672.9C793.6 672.3 792.3 669.5 791.6 667.8C790.9 666 791.9 663.5 790.8 662.6C789.6 661.7 786.2 661.7 784.8 662.6C783.3 663.5 781.9 665.5 782.2 667.8Z" fill="#7E1416" stroke="#000" stroke-width="1.45" stroke-linejoin="round"/><path d="M773.6 602.7C773.6 596.4 773.7 589.4 774.5 584C775.2 578.5 775.9 573.9 777.9 570.2C779.9 566.5 782.2 563.8 786.5 561.6C790.8 559.5 797.9 558 803.6 557.3C809.4 556.6 816.5 557.2 820.8 557.3C825.1 557.5 827.7 556 829.4 558.2C831.1 560.3 830.8 562.8 831.1 570.2C831.5 577.6 831.5 591.9 831.5 602.7C831.5 613.5 831.5 627.7 831.1 635.1C830.8 642.5 831.1 645 829.4 647.1C827.7 649.3 825.1 647.9 820.8 648C816.5 648.2 809.4 648.7 803.6 648C797.9 647.3 790.8 645.9 786.5 643.7C782.2 641.6 779.9 638.8 777.9 635.1C775.9 631.4 775.2 626.8 774.5 621.4C773.7 616 773.6 608.9 773.6 602.7Z" fill="#A0CE5E" stroke="#000" stroke-width="1.45" stroke-linejoin="round"/><path d="M780.5 602.7C780.5 597 780.9 590.5 781.3 585.7C781.8 580.8 781.3 576.5 783 573.6C784.8 570.8 787.6 570 791.6 568.5C795.6 567 802.8 565.3 807.1 564.7C811.4 564.1 815.1 563.6 817.4 565.1C819.7 566.5 819.8 569.9 820.8 573.6C821.8 577.4 823 582.5 823.4 587.4C823.8 592.2 823.4 597.6 823.4 602.7C823.4 607.8 823.8 613.1 823.4 618C823 622.8 821.8 628 820.8 631.7C819.8 635.4 819.7 638.8 817.4 640.3C815.1 641.8 811.4 641.2 807.1 640.6C802.8 640.1 795.6 638.3 791.6 636.8C787.6 635.4 784.8 634.6 783 631.7C781.3 628.8 781.8 624.5 781.3 619.7C780.9 614.8 780.5 608.3 780.5 602.7Z" fill="#6FCBD5" stroke="#000" stroke-width="1.45" stroke-linejoin="round"/><path d="M800.2 602.7C800.2 595.3 800.6 585.6 801.1 580.5C801.5 575.4 801.6 573.6 802.8 571.9C803.9 570.2 806.5 570.1 807.9 570.2C809.4 570.4 810.8 567.4 811.4 572.8C811.9 578.2 811.4 592.7 811.4 602.7C811.4 612.6 811.9 627.1 811.4 632.6C810.8 638 809.4 635 807.9 635.1C806.5 635.3 803.9 635.1 802.8 633.4C801.6 631.7 801.5 629.9 801.1 624.8C800.6 619.7 800.2 610.1 800.2 602.7Z" fill="#4A86C5" stroke="#000" stroke-width="1.45" stroke-linejoin="round"/><ellipse cx="831.1" cy="602.7" rx="114.7" ry="117" fill="none" stroke="#F2E526" stroke-width="3.1" stroke-dasharray="13 6.5"/><ellipse cx="905" cy="602.5" rx="45.5" ry="68.7" fill="none" stroke="#E4232B" stroke-width="3" stroke-dasharray="5 3.5 1.5 3.5"/><path d="M875 602.3H924.7" stroke="#E4232B" stroke-width="2.8"/><circle cx="899.8" cy="602.3" r="5.2" fill="#000" stroke="#E4232B" stroke-width="2.8"/></g><text x="704.3" y="740.6" font-size="25.5" textLength="121.3" lengthAdjust="spacingAndGlyphs" fill="#fff">(N = 1699)</text><rect x="985.3" y="460" width="21.6" height="286.2" fill="url(#jet)" stroke="#000" stroke-width="1.2"/><text x="1008.9" y="469.5" font-size="26">80</text><path d="M985.3 531.5h3M1006.9 531.5h-3" stroke="#000" stroke-width="1.2"/><text x="1008.9" y="541" font-size="26">60</text><path d="M985.3 603.1h3M1006.9 603.1h-3" stroke="#000" stroke-width="1.2"/><text x="1008.9" y="612.6" font-size="26">40</text><path d="M985.3 674.7h3M1006.9 674.7h-3" stroke="#000" stroke-width="1.2"/><text x="1008.9" y="684.2" font-size="26">20</text><text x="1008.9" y="755.7" font-size="26">0</text><text font-size="25" text-anchor="middle" textLength="107" lengthAdjust="spacingAndGlyphs" transform="translate(1067.2 607.5) rotate(-90)">% of cells</text><text x="689.5" y="515.7" font-size="26" text-anchor="end">1</text><text x="689.5" y="564.2" font-size="26" text-anchor="end">0.5</text><text x="689.5" y="612.2" font-size="26" text-anchor="end">0</text><text x="689.5" y="661.2" font-size="26" text-anchor="end">-0.5</text><text x="689.5" y="709.4" font-size="26" text-anchor="end">-1</text><text x="734.7" y="772" font-size="26" text-anchor="middle">-1</text><text x="830.7" y="772" font-size="26" text-anchor="middle">0</text><text x="924.5" y="772" font-size="26" text-anchor="middle">1</text><text x="826.7" y="797.8" font-size="26" text-anchor="middle" textLength="155" lengthAdjust="spacingAndGlyphs">R cos(α) (µm)</text><text font-size="26" text-anchor="middle" textLength="154" lengthAdjust="spacingAndGlyphs" transform="translate(633.8 605) rotate(-90)">R sin(α) (µm)</text><text x="843.6" y="444.8" font-size="43" text-anchor="middle" textLength="182.3" lengthAdjust="spacingAndGlyphs" fill="#231f20">Hpa3-AID</text><text x="618.5" y="418.5" font-size="46" font-weight="bold" fill="#231f20">c</text>
<rect x="1226.2" y="461.2" width="273.9" height="286.8" fill="#000"/><g clip-path="url(#clipd)"><path d="M1263.9 602.8C1263.9 595.4 1263.7 588 1264.5 580.5C1265.2 573.1 1265.6 564.1 1268.2 558.2C1270.9 552.3 1276.5 549.9 1280.3 545.3C1284 540.7 1287.1 535.7 1290.6 530.7C1294 525.7 1297.1 519.3 1300.9 515.3C1304.6 511.3 1308.9 509.2 1312.9 506.7C1316.9 504.1 1320.6 501.5 1324.9 499.8C1329.2 498.1 1334.1 497 1338.6 496.4C1343.2 495.7 1347.8 495.7 1352.4 496C1357 496.3 1361.5 497.2 1366.1 498.1C1370.7 499 1375.3 500.2 1379.9 501.5C1384.4 502.8 1389.6 504.2 1393.6 505.8C1397.6 507.4 1400.8 508.8 1403.9 511C1407.1 513.1 1410.9 516.3 1412.5 518.7C1414.1 521.1 1414.2 521.6 1413.4 525.6C1412.5 529.6 1409.2 537.3 1407.3 542.7C1405.5 548.2 1404.6 554.2 1402.2 558.2C1399.8 562.2 1393.6 562.5 1392.7 566.8C1391.9 571.1 1396 577.9 1397 584C1398 590 1398.8 596.5 1398.8 602.8C1398.8 609.1 1398 615.7 1397 621.7C1396 627.7 1391.9 634.6 1392.7 638.9C1393.6 643.2 1399.8 643.5 1402.2 647.5C1404.6 651.5 1405.5 657.5 1407.3 662.9C1409.2 668.4 1412.5 676.1 1413.4 680.1C1414.2 684.1 1414.1 684.6 1412.5 687C1410.9 689.4 1407.1 692.6 1403.9 694.7C1400.8 696.9 1397.6 698.3 1393.6 699.9C1389.6 701.4 1384.4 702.9 1379.9 704.2C1375.3 705.5 1370.7 706.7 1366.1 707.6C1361.5 708.5 1357 709.4 1352.4 709.7C1347.8 709.9 1343.2 709.9 1338.6 709.3C1334.1 708.7 1329.2 707.6 1324.9 705.9C1320.6 704.2 1316.9 701.6 1312.9 699C1308.9 696.4 1304.6 694.4 1300.9 690.4C1297.1 686.4 1294 680 1290.6 675C1287.1 670 1284 665 1280.3 660.4C1276.5 655.8 1270.9 653.4 1268.2 647.5C1265.6 641.6 1265.2 632.6 1264.5 625.2C1263.7 617.7 1263.9 610.3 1263.9 602.8Z" fill="#3F58A7" stroke="#000" stroke-width="1.45" stroke-linejoin="round"/><path d="M1267.4 602.8C1267.4 595.4 1267.4 587.5 1268.2 580.5C1269.1 573.5 1270.1 566.5 1272.5 560.8C1275 555 1279.3 551.2 1282.8 546.2C1286.4 541.2 1290.1 535.6 1294 530.7C1297.9 525.8 1302 520.7 1306 517C1310 513.3 1313.7 511 1318 508.4C1322.3 505.8 1327.2 503 1331.8 501.5C1336.4 500.1 1340.7 499.8 1345.5 499.8C1350.4 499.8 1356.1 500.8 1361 501.5C1365.8 502.2 1370.1 503 1374.7 504.1C1379.3 505.2 1384.7 507 1388.5 508.4C1392.2 509.8 1394.7 511.1 1397 512.7C1399.3 514.3 1401.5 515.7 1402.2 517.8C1402.9 520 1402.8 522.3 1401.3 525.6C1399.9 528.9 1396 533.3 1393.6 537.6C1391.2 541.9 1389 547 1386.7 551.3C1384.4 555.6 1381.9 558.5 1379.9 563.3C1377.9 568.2 1376.1 573.9 1374.7 580.5C1373.3 587.1 1371.3 595.4 1371.3 602.8C1371.3 610.3 1373.3 618.6 1374.7 625.2C1376.1 631.8 1377.9 637.5 1379.9 642.3C1381.9 647.2 1384.4 650.1 1386.7 654.4C1389 658.7 1391.2 663.8 1393.6 668.1C1396 672.4 1399.9 676.8 1401.3 680.1C1402.8 683.4 1402.9 685.7 1402.2 687.8C1401.5 690 1399.3 691.4 1397 693C1394.7 694.6 1392.2 695.9 1388.5 697.3C1384.7 698.7 1379.3 700.4 1374.7 701.6C1370.1 702.7 1365.8 703.4 1361 704.2C1356.1 704.9 1350.4 705.9 1345.5 705.9C1340.7 705.9 1336.4 705.6 1331.8 704.2C1327.2 702.7 1322.3 699.9 1318 697.3C1313.7 694.7 1310 692.4 1306 688.7C1302 685 1297.9 679.8 1294 675C1290.1 670.1 1286.4 664.5 1282.8 659.5C1279.3 654.5 1275 650.6 1272.5 644.9C1270.1 639.2 1269.1 632.2 1268.2 625.2C1267.4 618.2 1267.4 610.3 1267.4 602.8Z" fill="#4A86C5" stroke="#000" stroke-width="1.45" stroke-linejoin="round"/><path d="M1271.7 602.8C1271.7 596 1271.8 588.7 1272.5 582.2C1273.2 575.8 1273.8 569.8 1276 564.2C1278.1 558.6 1282.1 553.8 1285.4 548.7C1288.7 543.7 1292 538.9 1295.7 534.1C1299.4 529.4 1303.7 524.3 1307.7 520.4C1311.7 516.5 1315.5 513.7 1319.8 511C1324.1 508.2 1328.9 505.5 1333.5 504.1C1338.1 502.7 1342.7 502.4 1347.2 502.4C1351.8 502.4 1356.4 503.4 1361 504.1C1365.6 504.8 1370.4 505.5 1374.7 506.7C1379 507.8 1383.6 509.5 1386.7 511C1389.9 512.4 1392 513.7 1393.6 515.3C1395.2 516.8 1396.2 518.1 1396.2 520.4C1396.2 522.7 1395.2 525.6 1393.6 529C1392 532.4 1389 537 1386.7 541C1384.4 545 1382.2 548.7 1379.9 553C1377.6 557.3 1375 561.9 1373 566.8C1371 571.6 1369.4 576.2 1367.8 582.2C1366.3 588.2 1363.5 596 1363.5 602.8C1363.5 609.7 1366.3 617.4 1367.8 623.5C1369.4 629.5 1371 634 1373 638.9C1375 643.8 1377.6 648.4 1379.9 652.6C1382.2 656.9 1384.4 660.7 1386.7 664.7C1389 668.7 1392 673.3 1393.6 676.7C1395.2 680.1 1396.2 683 1396.2 685.3C1396.2 687.6 1395.2 688.9 1393.6 690.4C1392 692 1389.9 693.3 1386.7 694.7C1383.6 696.2 1379 697.9 1374.7 699C1370.4 700.2 1365.6 700.9 1361 701.6C1356.4 702.3 1351.8 703.3 1347.2 703.3C1342.7 703.3 1338.1 703 1333.5 701.6C1328.9 700.2 1324.1 697.4 1319.8 694.7C1315.5 692 1311.7 689.1 1307.7 685.3C1303.7 681.4 1299.4 676.3 1295.7 671.5C1292 666.8 1288.7 661.9 1285.4 656.9C1282.1 651.9 1278.1 647.1 1276 641.5C1273.8 635.9 1273.2 629.9 1272.5 623.5C1271.8 617 1271.7 609.7 1271.7 602.8Z" fill="#6FCBD5" stroke="#000" stroke-width="1.45" stroke-linejoin="round"/><path d="M1276 602.8C1276 596.5 1276.1 589.8 1276.8 584C1277.5 578.1 1278.4 572.9 1280.3 567.6C1282.1 562.3 1285.1 557.2 1288 552.2C1290.8 547.2 1293.9 542.3 1297.4 537.6C1301 532.9 1305.4 527.9 1309.5 523.8C1313.5 519.8 1317.2 516.4 1321.5 513.5C1325.8 510.7 1330.6 508.1 1335.2 506.7C1339.8 505.2 1344.4 505 1349 505C1353.5 505 1358.4 506 1362.7 506.7C1367 507.4 1371 508.1 1374.7 509.2C1378.4 510.4 1382.6 512 1385 513.5C1387.4 515.1 1388.7 516.4 1389.3 518.7C1389.9 521 1389.6 523.8 1388.5 527.3C1387.3 530.7 1384.4 535 1382.4 539.3C1380.4 543.6 1378.6 548.5 1376.4 553C1374.3 557.6 1371.7 563.5 1369.6 566.8C1367.4 570.1 1365.8 571.8 1363.5 572.8C1361.3 573.8 1357.5 574.4 1355.8 572.8C1354.1 571.2 1354.7 565.9 1353.2 563.3C1351.8 560.8 1350.2 558.5 1347.2 557.3C1344.2 556.2 1338.9 555.8 1335.2 556.5C1331.5 557.2 1327.8 559.1 1324.9 561.6C1322 564.2 1319.8 567.9 1318 571.9C1316.3 575.9 1315.4 580.5 1314.6 585.7C1313.8 590.8 1313.2 597.1 1313.2 602.8C1313.2 608.6 1313.8 614.9 1314.6 620C1315.4 625.2 1316.3 629.7 1318 633.8C1319.8 637.8 1322 641.5 1324.9 644.1C1327.8 646.6 1331.5 648.5 1335.2 649.2C1338.9 649.9 1344.2 649.5 1347.2 648.4C1350.2 647.2 1351.8 644.9 1353.2 642.3C1354.7 639.8 1354.1 634.5 1355.8 632.9C1357.5 631.3 1361.3 631.9 1363.5 632.9C1365.8 633.9 1367.4 635.6 1369.6 638.9C1371.7 642.2 1374.3 648.1 1376.4 652.6C1378.6 657.2 1380.4 662.1 1382.4 666.4C1384.4 670.7 1387.3 675 1388.5 678.4C1389.6 681.8 1389.9 684.7 1389.3 687C1388.7 689.3 1387.4 690.6 1385 692.1C1382.6 693.7 1378.4 695.3 1374.7 696.4C1371 697.6 1367 698.3 1362.7 699C1358.4 699.7 1353.5 700.7 1349 700.7C1344.4 700.7 1339.8 700.4 1335.2 699C1330.6 697.6 1325.8 695 1321.5 692.1C1317.2 689.3 1313.5 685.8 1309.5 681.8C1305.4 677.8 1301 672.8 1297.4 668.1C1293.9 663.4 1290.8 658.5 1288 653.5C1285.1 648.5 1282.1 643.3 1280.3 638C1278.4 632.8 1277.5 627.6 1276.8 621.7C1276.1 615.9 1276 609.1 1276 602.8Z" fill="#A0CE5E" stroke="#000" stroke-width="1.45" stroke-linejoin="round"/><path d="M1284.6 602.8C1284.6 597.1 1284.8 591.1 1285.4 585.7C1286 580.2 1286.8 575.1 1288 570.2C1289.1 565.3 1290.1 561.1 1292.3 556.5C1294.4 551.9 1297.7 547.3 1300.9 542.7C1304 538.2 1307.4 533.1 1311.2 529C1314.9 524.8 1318.9 521 1323.2 517.8C1327.5 514.7 1332.4 511.7 1336.9 510.1C1341.5 508.5 1346.4 508.4 1350.7 508.4C1355 508.4 1359 509.4 1362.7 510.1C1366.4 510.8 1370 511.5 1373 512.7C1376 513.8 1379 515.4 1380.7 517C1382.4 518.6 1383.4 519.8 1383.3 522.1C1383.2 524.4 1381 527.6 1379.9 530.7C1378.7 533.9 1378.1 538.9 1376.4 541C1374.7 543.2 1371.8 542.7 1369.6 543.6C1367.3 544.5 1365.6 545.5 1362.7 546.2C1359.8 546.9 1356.1 546.7 1352.4 547.9C1348.7 549 1344.1 551 1340.4 553C1336.6 555 1333.2 557.3 1330.1 559.9C1326.9 562.5 1323.8 565.6 1321.5 568.5C1319.2 571.4 1317.8 573.9 1316.3 577.1C1314.9 580.2 1313.8 583.1 1312.9 587.4C1311.9 591.7 1310.7 597.7 1310.7 602.8C1310.7 608 1311.9 614 1312.9 618.3C1313.8 622.6 1314.9 625.5 1316.3 628.6C1317.8 631.8 1319.2 634.3 1321.5 637.2C1323.8 640.1 1326.9 643.2 1330.1 645.8C1333.2 648.4 1336.6 650.6 1340.4 652.6C1344.1 654.6 1348.7 656.7 1352.4 657.8C1356.1 658.9 1359.8 658.8 1362.7 659.5C1365.6 660.2 1367.3 661.2 1369.6 662.1C1371.8 662.9 1374.7 662.5 1376.4 664.7C1378.1 666.8 1378.7 671.8 1379.9 675C1381 678.1 1383.2 681.3 1383.3 683.6C1383.4 685.8 1382.4 687.1 1380.7 688.7C1379 690.3 1376 691.9 1373 693C1370 694.1 1366.4 694.9 1362.7 695.6C1359 696.3 1355 697.3 1350.7 697.3C1346.4 697.3 1341.5 697.2 1336.9 695.6C1332.4 694 1327.5 691 1323.2 687.8C1318.9 684.7 1314.9 680.8 1311.2 676.7C1307.4 672.5 1304 667.5 1300.9 662.9C1297.7 658.4 1294.4 653.8 1292.3 649.2C1290.1 644.6 1289.1 640.3 1288 635.5C1286.8 630.6 1286 625.5 1285.4 620C1284.8 614.6 1284.6 608.6 1284.6 602.8Z" fill="#F4E52B" stroke="#000" stroke-width="1.45" stroke-linejoin="round"/><path d="M1289.3 568.7L1289.9 572L1290.9 574.1L1293.4 577.3L1295.8 578.9L1297.5 579.2L1299.1 578.8L1304.4 575.8L1309.5 578.4L1312.1 578.1L1314.9 575.9L1319.6 569.9L1325.2 564.2L1334.9 555.8L1365.6 535.2L1368.7 533.5L1375.3 530.8L1376.9 529.8L1379 527.3L1380.1 524.8L1380.3 522.9L1379.7 520.2L1376.7 516.9L1372.4 514.3L1359.4 510.4L1352.9 509L1346.5 509L1340.2 510.1L1335.8 511.5L1329.5 514.5L1323.6 518.3L1316.6 524.1L1311.2 529.7L1302.8 540.1L1293.6 553.3L1291 557.5L1289.5 562.5Z" fill="none" stroke="#000" stroke-width="0.8"/><path d="M1291.4 568.5C1291.3 566.2 1291.3 562.8 1292.3 559.9C1293.3 557 1295.1 554.8 1297.4 551.3C1299.7 547.9 1302.9 543.3 1306 539.3C1309.2 535.3 1312.9 530.7 1316.3 527.3C1319.8 523.8 1322.9 521.1 1326.6 518.7C1330.3 516.3 1334.6 514 1338.6 512.7C1342.7 511.4 1346.7 510.8 1350.7 511C1354.7 511.1 1359 512.5 1362.7 513.5C1366.4 514.5 1370.4 515.5 1373 517C1375.6 518.4 1377.7 520.3 1378.1 522.1C1378.6 524 1377.6 526.4 1375.6 528.1C1373.6 529.9 1369.4 530.6 1366.1 532.4C1362.8 534.3 1359.3 537 1355.8 539.3C1352.4 541.6 1349 543.9 1345.5 546.2C1342.1 548.5 1338.4 550.7 1335.2 553C1332.1 555.3 1329.5 557.3 1326.6 559.9C1323.8 562.5 1320.6 565.8 1318 568.5C1315.5 571.2 1313.5 575.4 1311.2 576.2C1308.9 577.1 1306.6 573.5 1304.3 573.6C1302 573.8 1299.3 577.1 1297.4 577.1C1295.6 577.1 1294.1 575.1 1293.1 573.6C1292.1 572.2 1291.6 570.8 1291.4 568.5Z" fill="#F47B20" stroke="#000" stroke-width="1.45" stroke-linejoin="round"/><path d="M1289.3 637L1289.5 643.2L1291 648.1L1293.6 652.4L1302.8 665.6L1311.2 676L1316.6 681.6L1323.6 687.4L1329.5 691.2L1335.8 694.2L1340.2 695.6L1346.5 696.7L1352.9 696.6L1359.4 695.2L1372.4 691.3L1376.7 688.7L1379.7 685.4L1380.3 682.8L1380.1 680.9L1379 678.3L1376.9 675.9L1375.3 674.9L1368.7 672.2L1365.6 670.5L1334.9 649.8L1325.2 641.5L1319.6 635.8L1314.9 629.8L1312.1 627.6L1309.5 627.3L1304.4 629.9L1299.1 626.9L1297.5 626.5L1295.8 626.8L1293.4 628.3L1290.9 631.6L1289.9 633.7Z" fill="none" stroke="#000" stroke-width="0.8"/><path d="M1291.4 637.2C1291.3 639.5 1291.3 642.9 1292.3 645.8C1293.3 648.6 1295.1 650.9 1297.4 654.4C1299.7 657.8 1302.9 662.4 1306 666.4C1309.2 670.4 1312.9 675 1316.3 678.4C1319.8 681.8 1322.9 684.6 1326.6 687C1330.3 689.4 1334.6 691.7 1338.6 693C1342.7 694.3 1346.7 694.9 1350.7 694.7C1354.7 694.6 1359 693.1 1362.7 692.1C1366.4 691.1 1370.4 690.1 1373 688.7C1375.6 687.3 1377.7 685.4 1378.1 683.6C1378.6 681.7 1377.6 679.3 1375.6 677.5C1373.6 675.8 1369.4 675.1 1366.1 673.3C1362.8 671.4 1359.3 668.7 1355.8 666.4C1352.4 664.1 1349 661.8 1345.5 659.5C1342.1 657.2 1338.4 654.9 1335.2 652.6C1332.1 650.4 1329.5 648.4 1326.6 645.8C1323.8 643.2 1320.6 639.9 1318 637.2C1315.5 634.5 1313.5 630.3 1311.2 629.5C1308.9 628.6 1306.6 632.2 1304.3 632C1302 631.9 1299.3 628.6 1297.4 628.6C1295.6 628.6 1294.1 630.6 1293.1 632C1292.1 633.5 1291.6 634.9 1291.4 637.2Z" fill="#F47B20" stroke="#000" stroke-width="1.45" stroke-linejoin="round"/><path d="M1293.8 561.6L1295.2 564.2L1297.4 566.4L1300.1 567.9L1302 568.1L1316.9 564.2L1325.9 560.4L1333.2 555.5L1340.1 549.4L1352.2 534.2L1354.6 533L1365.1 531.8L1370 529.9L1372.7 528.1L1374 526.6L1374.5 524.9L1374.5 523.1L1373.6 520.4L1371.8 518L1369.1 516.4L1355.3 512.9L1350.9 512.3L1346.4 512.4L1340.2 513.5L1335.9 514.9L1331.5 516.8L1323.6 521.6L1316.6 527.5L1311.3 533.1L1298.1 548.5L1295.7 551.9L1294.1 555.3L1293.4 558.3Z" fill="none" stroke="#000" stroke-width="0.8"/><path d="M1295.7 560.8C1295.1 558.6 1295.7 556 1297.4 553C1299.1 550 1302.9 546.5 1306 542.7C1309.2 539 1312.9 534.1 1316.3 530.7C1319.8 527.3 1322.9 524.6 1326.6 522.1C1330.3 519.7 1334.6 517.4 1338.6 516.1C1342.7 514.8 1346.7 514.3 1350.7 514.4C1354.7 514.5 1359.4 516.1 1362.7 517C1366 517.8 1368.8 518.1 1370.4 519.6C1372 521 1373.1 523.8 1372.1 525.6C1371.1 527.3 1367.7 528.9 1364.4 529.9C1361.1 530.9 1355.5 530 1352.4 531.6C1349.2 533.1 1347.8 536.6 1345.5 539.3C1343.2 542 1341.5 545 1338.6 547.9C1335.8 550.7 1331.8 554.2 1328.3 556.5C1324.9 558.8 1321.5 560.3 1318 561.6C1314.6 562.9 1310.6 563.5 1307.7 564.2C1304.9 564.9 1302.9 566.5 1300.9 565.9C1298.9 565.3 1296.3 562.9 1295.7 560.8Z" fill="#E21E26" stroke="#000" stroke-width="1.45" stroke-linejoin="round"/><path d="M1293.8 644.1L1293.4 647.4L1294.1 650.4L1295.7 653.8L1298.1 657.2L1311.3 672.5L1316.6 678.2L1323.6 684L1331.5 688.8L1335.9 690.8L1340.2 692.2L1346.4 693.3L1350.9 693.4L1355.3 692.8L1369.1 689.3L1371.8 687.7L1373.6 685.3L1374.5 682.6L1374.5 680.8L1374 679.1L1372.7 677.6L1370 675.8L1365.1 673.8L1354.6 672.7L1352.2 671.5L1340.1 656.3L1333.2 650.1L1325.9 645.3L1316.9 641.5L1302 637.5L1300.1 637.8L1297.4 639.3L1295.2 641.5Z" fill="none" stroke="#000" stroke-width="0.8"/><path d="M1295.7 644.9C1295.1 647.1 1295.7 649.6 1297.4 652.6C1299.1 655.7 1302.9 659.2 1306 662.9C1309.2 666.7 1312.9 671.5 1316.3 675C1319.8 678.4 1322.9 681.1 1326.6 683.6C1330.3 686 1334.6 688.3 1338.6 689.6C1342.7 690.9 1346.7 691.4 1350.7 691.3C1354.7 691.1 1359.4 689.6 1362.7 688.7C1366 687.8 1368.8 687.6 1370.4 686.1C1372 684.7 1373.1 681.8 1372.1 680.1C1371.1 678.4 1367.7 676.8 1364.4 675.8C1361.1 674.8 1355.5 675.7 1352.4 674.1C1349.2 672.5 1347.8 669.1 1345.5 666.4C1343.2 663.7 1341.5 660.7 1338.6 657.8C1335.8 654.9 1331.8 651.5 1328.3 649.2C1324.9 646.9 1321.5 645.3 1318 644.1C1314.6 642.8 1310.6 642.2 1307.7 641.5C1304.9 640.8 1302.9 639.2 1300.9 639.8C1298.9 640.3 1296.3 642.8 1295.7 644.9Z" fill="#E21E26" stroke="#000" stroke-width="1.45" stroke-linejoin="round"/><path d="M1308.6 551.3C1309 549.7 1310.7 547.3 1312.9 544.5C1315 541.6 1318.3 537.3 1321.5 534.1C1324.6 531 1328.3 527.4 1331.8 525.6C1335.2 523.7 1339.9 523.1 1342.1 523C1344.3 522.8 1345.3 523.1 1345 524.7C1344.7 526.3 1342 529.4 1340.4 532.4C1338.7 535.4 1337.5 539.6 1335.2 542.7C1332.9 545.9 1329.8 549.3 1326.6 551.3C1323.5 553.3 1319 554.3 1316.3 554.8C1313.6 555.2 1311.6 554.5 1310.3 553.9C1309 553.3 1308.2 552.9 1308.6 551.3Z" fill="#7E1416" stroke="#000" stroke-width="1.45" stroke-linejoin="round"/><path d="M1308.6 654.4C1309 655.9 1310.7 658.4 1312.9 661.2C1315 664.1 1318.3 668.4 1321.5 671.5C1324.6 674.7 1328.3 678.3 1331.8 680.1C1335.2 682 1339.9 682.6 1342.1 682.7C1344.3 682.8 1345.3 682.6 1345 681C1344.7 679.4 1342 676.3 1340.4 673.3C1338.7 670.2 1337.5 666.1 1335.2 662.9C1332.9 659.8 1329.8 656.4 1326.6 654.4C1323.5 652.4 1319 651.4 1316.3 650.9C1313.6 650.5 1311.6 651.2 1310.3 651.8C1309 652.4 1308.2 652.8 1308.6 654.4Z" fill="#7E1416" stroke="#000" stroke-width="1.45" stroke-linejoin="round"/><ellipse cx="1334.9" cy="602.8" rx="12.5" ry="41.7" fill="#4A86C5" stroke="#000" stroke-width="1.45"/><ellipse cx="1336.1" cy="603.4" rx="6.4" ry="34.3" fill="#3F58A7" stroke="#000" stroke-width="1.45"/><ellipse cx="1372.1" cy="601.1" rx="121" ry="118.8" fill="none" stroke="#F2E526" stroke-width="3.1" stroke-dasharray="13 6.5"/><rect x="1404.8" y="523" width="91" height="146" rx="44" ry="55" fill="none" stroke="#E4232B" stroke-width="3" stroke-dasharray="5 3.5 1.5 3.5"/><path d="M1421 596.3H1466.6" stroke="#E4232B" stroke-width="2.8"/><circle cx="1443.9" cy="596.3" r="5.2" fill="#000" stroke="#E4232B" stroke-width="2.8"/></g><text x="1240.2" y="740.6" font-size="25.5" textLength="120.2" lengthAdjust="spacingAndGlyphs" fill="#fff">(N = 1471)</text><rect x="1534.9" y="461.7" width="22" height="286.5" fill="url(#jet)" stroke="#000" stroke-width="1.2"/><text x="1558.9" y="471.2" font-size="26">80</text><path d="M1534.9 533.3h3M1556.9 533.3h-3" stroke="#000" stroke-width="1.2"/><text x="1558.9" y="542.8" font-size="26">60</text><path d="M1534.9 605h3M1556.9 605h-3" stroke="#000" stroke-width="1.2"/><text x="1558.9" y="614.5" font-size="26">40</text><path d="M1534.9 676.6h3M1556.9 676.6h-3" stroke="#000" stroke-width="1.2"/><text x="1558.9" y="686.1" font-size="26">20</text><text x="1558.9" y="757.7" font-size="26">0</text><text font-size="25" text-anchor="middle" textLength="107" lengthAdjust="spacingAndGlyphs" transform="translate(1615.8 601) rotate(-90)">% of cells</text><text x="1224" y="504.5" font-size="26" text-anchor="end">1</text><text x="1224" y="555.3" font-size="26" text-anchor="end">0.5</text><text x="1224" y="606.1" font-size="26" text-anchor="end">0</text><text x="1224" y="656.9" font-size="26" text-anchor="end">-0.5</text><text x="1224" y="707.7" font-size="26" text-anchor="end">-1</text><text x="1267.5" y="773.2" font-size="26" text-anchor="middle">-1</text><text x="1372.4" y="773.2" font-size="26" text-anchor="middle">0</text><text x="1470.3" y="773.2" font-size="26" text-anchor="middle">1</text><text x="1368" y="791.4" font-size="26" text-anchor="middle" textLength="155" lengthAdjust="spacingAndGlyphs">R cos(α) (µm)</text><text font-size="26" text-anchor="middle" textLength="154" lengthAdjust="spacingAndGlyphs" transform="translate(1166 599) rotate(-90)">R sin(α) (µm)</text><text x="1362" y="448.2" font-size="43" text-anchor="middle" textLength="170.3" lengthAdjust="spacingAndGlyphs" fill="#231f20">Nut1-AID</text><text x="1142.3" y="420.5" font-size="46" font-weight="bold" fill="#231f20">d</text>
<rect x="131.4" y="903.6" width="278.8" height="286.5" fill="#000"/><g clip-path="url(#clipe)"><path d="M165.8 1045.8C165.8 1038.4 165.7 1030.7 166.3 1023.5C166.9 1016.4 168 1008.1 169.2 1002.9C170.4 997.8 170.8 996.3 173.5 992.6C176.2 988.9 181.5 984.6 185.5 980.6C189.5 976.6 193.3 972 197.6 968.6C201.9 965.1 206.7 962.8 211.3 960C215.9 957.1 220.5 954 225 951.4C229.6 948.8 234.2 946.8 238.8 944.5C243.4 942.3 247.7 939.3 252.5 938C257.4 936.7 263.1 936.6 268 936.8C272.8 937 278 937.5 281.7 939.4C285.4 941.2 287.1 945.8 290.3 948C293.4 950.1 297.2 951.4 300.6 952.2C304 953.1 308.2 952.1 310.9 953.1C313.6 954.1 315.8 955.7 316.9 958.3C318.1 960.8 316.5 965.7 317.8 968.6C319.1 971.4 323.8 971.4 324.6 975.4C325.5 979.4 323.5 986.3 322.9 992.6C322.4 998.9 321.6 1004.3 321.2 1013.2C320.8 1022.1 320.4 1035 320.4 1045.8C320.4 1056.7 320.8 1069.6 321.2 1078.5C321.6 1087.3 322.4 1092.8 322.9 1099.1C323.5 1105.4 325.5 1112.2 324.6 1116.3C323.8 1120.3 319.1 1120.3 317.8 1123.1C316.5 1126 318.1 1130.8 316.9 1133.4C315.8 1136 313.6 1137.6 310.9 1138.6C308.2 1139.6 304 1138.6 300.6 1139.4C297.2 1140.3 293.4 1141.6 290.3 1143.7C287.1 1145.9 285.4 1150.5 281.7 1152.3C278 1154.2 272.8 1154.7 268 1154.9C263.1 1155.1 257.4 1155 252.5 1153.7C247.7 1152.4 243.4 1149.4 238.8 1147.2C234.2 1144.9 229.6 1142.9 225 1140.3C220.5 1137.7 215.9 1134.6 211.3 1131.7C206.7 1128.8 201.9 1126.6 197.6 1123.1C193.3 1119.7 189.5 1115.1 185.5 1111.1C181.5 1107.1 176.2 1102.8 173.5 1099.1C170.8 1095.4 170.4 1093.9 169.2 1088.8C168 1083.6 166.9 1075.3 166.3 1068.2C165.7 1061 165.8 1053.3 165.8 1045.8Z" fill="#3F58A7" stroke="#000" stroke-width="1.45" stroke-linejoin="round"/><path d="M176.6 1045.8C176.6 1038.4 176.8 1030.7 177 1023.5C177.2 1016.4 177.2 1007.8 177.8 1002.9C178.4 998 178.2 997.8 180.4 994.3C182.5 990.9 187.3 986 190.7 982.3C194.1 978.6 197.3 975.1 201 972C204.7 968.8 208.7 966.3 213 963.4C217.3 960.5 222.2 957.4 226.8 954.8C231.3 952.2 235.9 950 240.5 948C245.1 946 249.4 943.8 254.2 942.8C259.1 941.8 265.4 941.1 269.7 941.9C274 942.8 276.8 945.5 280 948C283.1 950.4 285.7 954.3 288.6 956.5C291.4 958.8 294 960.4 297.2 961.7C300.3 963 304.5 962.8 307.5 964.3C310.5 965.7 313.6 967.3 315.2 970.3C316.8 973.3 316.9 978 316.9 982.3C316.9 986.6 315.3 990.9 315.2 996C315.1 1001.2 315.9 1004.9 316.1 1013.2C316.2 1021.5 316.1 1035 316.1 1045.8C316.1 1056.7 316.2 1070.2 316.1 1078.5C315.9 1086.8 315.1 1090.5 315.2 1095.6C315.3 1100.8 316.9 1105.1 316.9 1109.4C316.9 1113.7 316.8 1118.4 315.2 1121.4C313.6 1124.4 310.5 1126 307.5 1127.4C304.5 1128.8 300.3 1128.7 297.2 1130C294 1131.3 291.4 1132.9 288.6 1135.1C285.7 1137.4 283.1 1141.3 280 1143.7C276.8 1146.2 274 1148.9 269.7 1149.7C265.4 1150.6 259.1 1149.9 254.2 1148.9C249.4 1147.9 245.1 1145.7 240.5 1143.7C235.9 1141.7 231.3 1139.4 226.8 1136.9C222.2 1134.3 217.3 1131.1 213 1128.3C208.7 1125.4 204.7 1122.8 201 1119.7C197.3 1116.5 194.1 1113.1 190.7 1109.4C187.3 1105.7 182.5 1100.8 180.4 1097.4C178.2 1093.9 178.4 1093.6 177.8 1088.8C177.2 1083.9 177.2 1075.3 177 1068.2C176.8 1061 176.6 1053.3 176.6 1045.8Z" fill="#4A86C5" stroke="#000" stroke-width="1.45" stroke-linejoin="round"/><path d="M184.7 1045.8C184.7 1038.4 185 1030.4 185.5 1023.5C186.1 1016.6 187.3 1009.2 188.1 1004.6C189 1000 189.1 999.2 190.7 996C192.3 992.9 194.7 988.9 197.6 985.7C200.4 982.6 204.4 980.3 207.9 977.1C211.3 974 214.4 970 218.2 966.8C221.9 963.7 225.9 960.8 230.2 958.3C234.5 955.7 239.4 953.1 243.9 951.4C248.5 949.7 253.7 948.4 257.7 948C261.7 947.5 265.1 947.4 268 948.8C270.8 950.2 272.3 953.8 274.8 956.5C277.4 959.3 280.6 962.6 283.4 965.1C286.3 967.7 288.6 970.3 292 972C295.5 973.7 301 974 304 975.4C307 976.9 310.3 978 310 980.6C309.8 983.2 302.9 987.7 302.3 990.9C301.7 994 305.2 995.8 306.6 999.5C308 1003.2 309.9 1008.1 310.9 1013.2C311.9 1018.4 312.3 1024.9 312.6 1030.4C312.9 1035.8 312.6 1040.7 312.6 1045.8C312.6 1051 312.9 1055.9 312.6 1061.3C312.3 1066.7 311.9 1073.3 310.9 1078.5C309.9 1083.6 308 1088.5 306.6 1092.2C305.2 1095.9 301.7 1097.6 302.3 1100.8C302.9 1103.9 309.8 1108.5 310 1111.1C310.3 1113.7 307 1114.8 304 1116.3C301 1117.7 295.5 1118 292 1119.7C288.6 1121.4 286.3 1124 283.4 1126.6C280.6 1129.1 277.4 1132.4 274.8 1135.1C272.3 1137.9 270.8 1141.4 268 1142.9C265.1 1144.3 261.7 1144.2 257.7 1143.7C253.7 1143.3 248.5 1142 243.9 1140.3C239.4 1138.6 234.5 1136 230.2 1133.4C225.9 1130.8 221.9 1128 218.2 1124.8C214.4 1121.7 211.3 1117.7 207.9 1114.5C204.4 1111.4 200.4 1109.1 197.6 1105.9C194.7 1102.8 192.3 1098.8 190.7 1095.6C189.1 1092.5 189 1091.6 188.1 1087.1C187.3 1082.5 186.1 1075 185.5 1068.2C185 1061.3 184.7 1053.3 184.7 1045.8Z" fill="#6FCBD5" stroke="#000" stroke-width="1.45" stroke-linejoin="round"/><path d="M205.3 1045.8C205.3 1040.7 205.9 1035.4 207 1030.4C208.2 1025.4 210.6 1018.4 212.2 1015.8C213.7 1013.2 214.9 1012.8 216.5 1014.9C218 1017.1 220.5 1023.5 221.6 1028.7C222.7 1033.8 223.3 1040.1 223.3 1045.8C223.3 1051.6 222.7 1057.9 221.6 1063C220.5 1068.2 218 1074.6 216.5 1076.8C214.9 1078.9 213.7 1078.5 212.2 1075.9C210.6 1073.3 208.2 1066.3 207 1061.3C205.9 1056.3 205.3 1051 205.3 1045.8Z" fill="#4A86C5" stroke="#000" stroke-width="1.45" stroke-linejoin="round"/><path d="M192.8 1033.8L192.8 1058.7" stroke="#000" stroke-width="1.2"/><path d="M228 1045.8C228 1040.7 227.9 1035.3 227.1 1030.4C226.3 1025.5 225.1 1020.7 223.3 1016.6C221.5 1012.6 219 1008.6 216.5 1006.3C213.9 1004.1 210.4 1003.1 207.9 1002.9C205.3 1002.8 202.7 1006.1 201 1005.5C199.3 1004.9 197.8 1001.9 197.6 999.5C197.3 997 197.6 993.7 199.3 990.9C201 988 204.7 985.4 207.9 982.3C211 979.2 214.4 975.4 218.2 972C221.9 968.6 226.2 964.6 230.2 961.7C234.2 958.8 237.9 956.7 242.2 954.8C246.5 953 251.9 951 256 950.5C260 950.1 263.4 950.7 266.3 952.2C269.1 953.8 270.5 957.3 273.1 960C275.7 962.7 278.8 966.3 281.7 968.6C284.6 970.9 288.6 971.4 290.3 973.7C292 976 290.9 978.6 292 982.3C293.2 986 294.9 991.5 297.2 996C299.5 1000.6 303.8 1004.6 305.8 1009.8C307.8 1014.9 308.5 1020.9 309.2 1027C309.9 1033 310 1039.5 310 1045.8C310 1052.1 309.9 1058.7 309.2 1064.7C308.5 1070.7 307.8 1076.8 305.8 1081.9C303.8 1087.1 299.5 1091.1 297.2 1095.6C294.9 1100.2 293.2 1105.7 292 1109.4C290.9 1113.1 292 1115.7 290.3 1118C288.6 1120.3 284.6 1120.8 281.7 1123.1C278.8 1125.4 275.7 1129 273.1 1131.7C270.5 1134.4 269.1 1137.9 266.3 1139.4C263.4 1141 260 1141.6 256 1141.2C251.9 1140.7 246.5 1138.7 242.2 1136.9C237.9 1135 234.2 1132.9 230.2 1130C226.2 1127.1 221.9 1123.1 218.2 1119.7C214.4 1116.3 211 1112.5 207.9 1109.4C204.7 1106.2 201 1103.7 199.3 1100.8C197.6 1097.9 197.3 1094.6 197.6 1092.2C197.8 1089.8 199.3 1086.8 201 1086.2C202.7 1085.6 205.3 1088.9 207.9 1088.8C210.4 1088.6 213.9 1087.6 216.5 1085.3C219 1083.1 221.5 1079 223.3 1075C225.1 1071 226.3 1066.2 227.1 1061.3C227.9 1056.4 228 1051 228 1045.8Z" fill="#A0CE5E" stroke="#000" stroke-width="1.45" stroke-linejoin="round"/><path d="M233.3 1045.8C233.3 1040.7 233.4 1035.3 232.8 1030.4C232.1 1025.5 230.9 1020.7 229.3 1016.6C227.8 1012.6 225.6 1009.5 223.3 1006.3C221 1003.2 217.3 1000.3 215.6 997.8C213.9 995.2 213 993.5 213 990.9C213 988.3 213.9 985.2 215.6 982.3C217.3 979.4 220.3 976.6 223.3 973.7C226.3 970.9 229.9 967.7 233.6 965.1C237.3 962.6 241.6 960 245.6 958.3C249.7 956.5 254.5 955 257.7 954.8C260.8 954.7 262.5 955.7 264.5 957.4C266.5 959.1 267.4 962.7 269.7 965.1C272 967.6 276 969.4 278.3 972C280.6 974.6 282 977.7 283.4 980.6C284.9 983.4 285.1 986 286.9 989.2C288.6 992.3 291.3 995.8 293.7 999.5C296.2 1003.2 299.5 1006.9 301.5 1011.5C303.5 1016.1 304.8 1021.2 305.8 1027C306.8 1032.7 307.5 1039.5 307.5 1045.8C307.5 1052.1 306.8 1059 305.8 1064.7C304.8 1070.5 303.5 1075.6 301.5 1080.2C299.5 1084.8 296.2 1088.5 293.7 1092.2C291.3 1095.9 288.6 1099.4 286.9 1102.5C285.1 1105.7 284.9 1108.2 283.4 1111.1C282 1114 280.6 1117.1 278.3 1119.7C276 1122.3 272 1124.1 269.7 1126.6C267.4 1129 266.5 1132.6 264.5 1134.3C262.5 1136 260.8 1137 257.7 1136.9C254.5 1136.7 249.7 1135.1 245.6 1133.4C241.6 1131.7 237.3 1129.1 233.6 1126.6C229.9 1124 226.3 1120.8 223.3 1118C220.3 1115.1 217.3 1112.2 215.6 1109.4C213.9 1106.5 213 1103.4 213 1100.8C213 1098.2 213.9 1096.5 215.6 1093.9C217.3 1091.4 221 1088.5 223.3 1085.3C225.6 1082.2 227.8 1079 229.3 1075C230.9 1071 232.1 1066.2 232.8 1061.3C233.4 1056.4 233.3 1051 233.3 1045.8Z" fill="#F4E52B" stroke="#000" stroke-width="1.45" stroke-linejoin="round"/><path d="M260.2 1045.8C260.2 1040.7 260.4 1035.8 260.2 1030.4C260.1 1024.9 260.4 1016.9 259.4 1013.2C258.4 1009.5 256.5 1008.6 254.2 1008.1C251.9 1007.5 247.9 1008.3 245.6 1009.8C243.4 1011.2 242.2 1016.4 240.5 1016.6C238.8 1016.9 236.8 1014.4 235.3 1011.5C233.9 1008.6 233.3 1002.3 231.9 999.5C230.5 996.6 228.5 995.2 226.8 994.3C225 993.5 222.9 995.6 221.6 994.3C220.3 993 218.5 989.5 219 986.6C219.6 983.7 222.3 980.2 225 977.1C227.8 974.1 231.6 971.1 235.3 968.6C239.1 966 243.6 963.3 247.4 961.7C251.1 960.1 255.2 958.5 257.7 959.1C260.1 959.7 260.2 963 262 965.1C263.7 967.3 265.5 970 268 972C270.4 974 274.6 974.9 276.6 977.1C278.6 979.4 280 983.4 280 985.7C280 988 276 989.2 276.6 990.9C277.1 992.6 280.9 993.7 283.4 996C286 998.3 289.3 1001.2 292 1004.6C294.7 1008.1 297.7 1012.4 299.7 1016.6C301.7 1020.9 303.2 1025.5 304 1030.4C304.9 1035.3 304.9 1040.7 304.9 1045.8C304.9 1051 304.9 1056.4 304 1061.3C303.2 1066.2 301.7 1070.7 299.7 1075C297.7 1079.3 294.7 1083.6 292 1087.1C289.3 1090.5 286 1093.4 283.4 1095.6C280.9 1097.9 277.1 1099.1 276.6 1100.8C276 1102.5 280 1103.7 280 1105.9C280 1108.2 278.6 1112.2 276.6 1114.5C274.6 1116.8 270.4 1117.7 268 1119.7C265.5 1121.7 263.7 1124.4 262 1126.6C260.2 1128.7 260.1 1132 257.7 1132.6C255.2 1133.1 251.1 1131.6 247.4 1130C243.6 1128.4 239.1 1125.7 235.3 1123.1C231.6 1120.5 227.8 1117.5 225 1114.5C222.3 1111.5 219.6 1108 219 1105.1C218.5 1102.2 220.3 1098.7 221.6 1097.4C222.9 1096.1 225 1098.2 226.8 1097.4C228.5 1096.5 230.5 1095.1 231.9 1092.2C233.3 1089.3 233.9 1083.1 235.3 1080.2C236.8 1077.3 238.8 1074.8 240.5 1075C242.2 1075.3 243.4 1080.5 245.6 1081.9C247.9 1083.3 251.9 1084.2 254.2 1083.6C256.5 1083.1 258.4 1082.2 259.4 1078.5C260.4 1074.8 260.1 1066.7 260.2 1061.3C260.4 1055.9 260.2 1051 260.2 1045.8Z" fill="#F47B20" stroke="#000" stroke-width="1.45" stroke-linejoin="round"/><path d="M226.4 980.1L226.7 981.5L227.7 983L232 987.1L236.3 992.6L237.4 994.7L238.6 999.1L239.5 1000.8L241.3 1002.2L243.5 1002.6L245.7 1002.3L253.1 999.8L260.4 997.9L263.9 996.1L266.7 992.9L269.6 987L274.7 982.8L275.2 980.5L273.8 977.9L266.1 972.3L260.8 964.4L258.5 963L256.3 962.7L250.9 963.9L235.8 971L228.3 976.2L227 977.7Z" fill="none" stroke="#000" stroke-width="0.8"/><path d="M228.5 979.7C228.8 977.7 232.5 975.6 235.3 973.7C238.2 971.9 242.5 970 245.6 968.6C248.8 967.1 251.9 965.6 254.2 965.1C256.5 964.7 257.7 964.6 259.4 966C261.1 967.4 262.2 971.3 264.5 973.7C266.8 976.1 272.6 978.6 273.1 980.6C273.7 982.6 269.7 983.4 268 985.7C266.3 988 265.4 992.3 262.8 994.3C260.2 996.3 256 996.8 252.5 997.8C249.1 998.8 244.5 1001.2 242.2 1000.3C239.9 999.5 240.2 995 238.8 992.6C237.3 990.2 235.3 987.9 233.6 985.7C231.9 983.6 228.2 981.7 228.5 979.7Z" fill="#E21E26" stroke="#000" stroke-width="1.45" stroke-linejoin="round"/><path d="M226.4 1111.6L227 1114L228.3 1115.5L235.8 1120.7L250.9 1127.7L256.3 1128.9L258.5 1128.6L260.8 1127.3L266.1 1119.4L273.8 1113.7L275.2 1111.1L274.7 1108.9L269.6 1104.6L266.7 1098.8L263.9 1095.6L260.4 1093.8L253.1 1091.9L245.7 1089.4L243.5 1089.1L241.3 1089.4L239.5 1090.8L238.6 1092.6L237.4 1097L236.3 1099.1L232 1104.6L227.7 1108.6L226.7 1110.2Z" fill="none" stroke="#000" stroke-width="0.8"/><path d="M228.5 1112C228.8 1114 232.5 1116.1 235.3 1118C238.2 1119.8 242.5 1121.7 245.6 1123.1C248.8 1124.6 251.9 1126.1 254.2 1126.6C256.5 1127 257.7 1127.1 259.4 1125.7C261.1 1124.3 262.2 1120.4 264.5 1118C266.8 1115.5 272.6 1113.1 273.1 1111.1C273.7 1109.1 269.7 1108.2 268 1105.9C266.3 1103.7 265.4 1099.4 262.8 1097.4C260.2 1095.4 256 1094.9 252.5 1093.9C249.1 1092.9 244.5 1090.5 242.2 1091.4C239.9 1092.2 240.2 1096.6 238.8 1099.1C237.3 1101.5 235.3 1103.8 233.6 1105.9C231.9 1108.1 228.2 1110 228.5 1112Z" fill="#E21E26" stroke="#000" stroke-width="1.45" stroke-linejoin="round"/><path d="M243.1 980.6C243.4 977.4 245.5 974.1 247.4 972C249.2 969.9 252.2 967.4 254.2 967.7C256.2 968 257.8 971.3 259.4 973.7C261 976.1 263.7 979.7 263.7 982.3C263.7 984.9 261.5 987.3 259.4 989.2C257.2 991 253.1 993.2 250.8 993.5C248.5 993.7 246.9 993 245.6 990.9C244.4 988.7 242.8 983.7 243.1 980.6Z" fill="#7E1416" stroke="#000" stroke-width="1.45" stroke-linejoin="round"/><path d="M243.1 1111.1C243.4 1114.2 245.5 1117.5 247.4 1119.7C249.2 1121.8 252.2 1124.3 254.2 1124C256.2 1123.7 257.8 1120.4 259.4 1118C261 1115.5 263.7 1112 263.7 1109.4C263.7 1106.8 261.5 1104.4 259.4 1102.5C257.2 1100.7 253.1 1098.5 250.8 1098.2C248.5 1097.9 246.9 1098.7 245.6 1100.8C244.4 1102.9 242.8 1108 243.1 1111.1Z" fill="#7E1416" stroke="#000" stroke-width="1.45" stroke-linejoin="round"/><ellipse cx="284.3" cy="1045.8" rx="17.2" ry="47.2" fill="#E21E26" stroke="#000" stroke-width="1.45"/><ellipse cx="284.6" cy="1045.8" rx="13.4" ry="42.9" fill="#7E1416" stroke="#000" stroke-width="1.45"/><ellipse cx="271.4" cy="1046" rx="117.6" ry="120" fill="none" stroke="#F2E526" stroke-width="3.1" stroke-dasharray="13 6.5"/><ellipse cx="345.6" cy="1045.7" rx="44.3" ry="72.3" fill="none" stroke="#E4232B" stroke-width="3" stroke-dasharray="5 3.5 1.5 3.5"/><path d="M316.1 1045.8H360.7" stroke="#E4232B" stroke-width="2.8"/><circle cx="337.9" cy="1045.8" r="5.2" fill="#000" stroke="#E4232B" stroke-width="2.8"/></g><text x="132.2" y="1182.3" font-size="25.5" textLength="121.3" lengthAdjust="spacingAndGlyphs" fill="#fff">(N = 1701)</text><rect x="425.9" y="903.5" width="20.6" height="286.7" fill="url(#jet)" stroke="#000" stroke-width="1.2"/><text x="448.5" y="913" font-size="26">80</text><path d="M425.9 975.2h3M446.5 975.2h-3" stroke="#000" stroke-width="1.2"/><text x="448.5" y="984.7" font-size="26">60</text><path d="M425.9 1046.8h3M446.5 1046.8h-3" stroke="#000" stroke-width="1.2"/><text x="448.5" y="1056.3" font-size="26">40</text><path d="M425.9 1118.5h3M446.5 1118.5h-3" stroke="#000" stroke-width="1.2"/><text x="448.5" y="1128" font-size="26">20</text><text x="448.5" y="1199.7" font-size="26">0</text><text font-size="25" text-anchor="middle" textLength="107" lengthAdjust="spacingAndGlyphs" transform="translate(513.6 1055.3) rotate(-90)">% of cells</text><text x="129.2" y="959.8" font-size="26" text-anchor="end">1</text><text x="129.2" y="1007.1" font-size="26" text-anchor="end">0.5</text><text x="129.2" y="1055.4" font-size="26" text-anchor="end">0</text><text x="129.2" y="1103.6" font-size="26" text-anchor="end">-0.5</text><text x="129.2" y="1151.6" font-size="26" text-anchor="end">-1</text><text x="173.5" y="1215" font-size="26" text-anchor="middle">-1</text><text x="270.6" y="1215" font-size="26" text-anchor="middle">0</text><text x="364.7" y="1215" font-size="26" text-anchor="middle">1</text><text x="266.7" y="1240.7" font-size="26" text-anchor="middle" textLength="155" lengthAdjust="spacingAndGlyphs">R cos(α) (µm)</text><text font-size="26" text-anchor="middle" textLength="154" lengthAdjust="spacingAndGlyphs" transform="translate(74 1046.7) rotate(-90)">R sin(α) (µm)</text><text x="270.8" y="889.2" font-size="43" text-anchor="middle" textLength="185" lengthAdjust="spacingAndGlyphs" fill="#231f20">Gcn5-AID</text><text x="9.6" y="871.5" font-size="46" font-weight="bold" fill="#231f20">e</text>
<rect x="690" y="905.6" width="278.2" height="286.5" fill="#000"/><g clip-path="url(#clipf)"><path d="M724.3 1048C724.3 1042.8 724.1 1037.9 725 1032.4C725.9 1026.9 727.9 1020.9 729.8 1015.2C731.7 1009.5 733.8 1003.2 736.7 998C739.5 992.9 743.8 988.9 747 984.3C750.1 979.7 752.1 974 755.6 970.6C759 967.1 763 966 767.6 963.7C772.2 961.4 777.6 958.5 783 956.8C788.5 955.1 794.8 954.5 800.2 953.4C805.7 952.2 810.8 951.7 815.7 950C820.5 948.2 825.1 944.1 829.4 943.1C833.7 942.1 837.7 942.5 841.4 943.9C845.1 945.4 848.3 949.2 851.7 951.7C855.2 954.1 858.9 957.1 862 958.5C865.2 960 867.8 958.3 870.6 960.3C873.5 962.3 876.6 967.4 879.2 970.6C881.8 973.7 885.1 975.4 886.1 979.1C887.1 982.9 885.7 988.6 885.2 992.9C884.8 997.2 884.4 1000 883.5 1004.9C882.6 1009.8 880.8 1014.9 880.1 1022.1C879.3 1029.3 878.9 1039.4 878.9 1048C878.9 1056.7 879.3 1066.8 880.1 1073.9C880.8 1081.1 882.6 1086.3 883.5 1091.1C884.4 1096 884.8 1098.8 885.2 1103.1C885.7 1107.4 887.1 1113.2 886.1 1116.9C885.1 1120.6 881.8 1122.3 879.2 1125.5C876.6 1128.6 873.5 1133.8 870.6 1135.8C867.8 1137.8 865.2 1136.1 862 1137.5C858.9 1138.9 855.2 1141.9 851.7 1144.4C848.3 1146.8 845.1 1150.7 841.4 1152.1C837.7 1153.5 833.7 1153.9 829.4 1152.9C825.1 1151.9 820.5 1147.8 815.7 1146.1C810.8 1144.4 805.7 1143.8 800.2 1142.6C794.8 1141.5 788.5 1140.9 783 1139.2C777.6 1137.5 772.2 1134.6 767.6 1132.3C763 1130 759 1128.9 755.6 1125.5C752.1 1122 750.1 1116.3 747 1111.7C743.8 1107.1 739.5 1103.1 736.7 1098C733.8 1092.8 731.7 1086.5 729.8 1080.8C727.9 1075.1 725.9 1069.1 725 1063.6C724.1 1058.2 724.3 1053.2 724.3 1048Z" fill="#3F58A7" stroke="#000" stroke-width="1.45" stroke-linejoin="round"/><path d="M732.4 1048C732.4 1042.8 732.2 1038.1 733.2 1032.4C734.2 1026.6 736.8 1018.9 738.4 1013.5C740 1008.1 740.7 1004.1 742.7 999.8C744.7 995.5 747.7 992 750.4 987.7C753.1 983.4 755.6 977.4 759 974C762.4 970.6 766.4 969.4 771 967.1C775.6 964.8 781.3 962 786.5 960.3C791.6 958.5 796.8 957.7 801.9 956.8C807.1 956 812.5 956.3 817.4 955.1C822.3 954 827.1 950.7 831.1 950C835.1 949.2 838.3 949.4 841.4 950.8C844.6 952.2 847.2 956.1 850 958.5C852.9 961 855.7 963.7 858.6 965.4C861.5 967.1 864.6 966.8 867.2 968.8C869.8 970.8 872.6 973.7 874.1 977.4C875.5 981.2 876.3 986.9 875.8 991.2C875.2 995.5 872.5 999.2 870.6 1003.2C868.8 1007.2 865.8 1007.7 864.6 1015.2C863.5 1022.7 863.8 1037.1 863.8 1048C863.8 1058.9 863.5 1073.3 864.6 1080.8C865.8 1088.3 868.8 1088.8 870.6 1092.8C872.5 1096.8 875.2 1100.6 875.8 1104.9C876.3 1109.2 875.5 1114.9 874.1 1118.6C872.6 1122.3 869.8 1125.2 867.2 1127.2C864.6 1129.2 861.5 1128.9 858.6 1130.6C855.7 1132.3 852.9 1135.1 850 1137.5C847.2 1139.9 844.6 1143.8 841.4 1145.2C838.3 1146.6 835.1 1146.8 831.1 1146.1C827.1 1145.4 822.3 1142.1 817.4 1140.9C812.5 1139.8 807.1 1140.1 801.9 1139.2C796.8 1138.3 791.6 1137.5 786.5 1135.8C781.3 1134.1 775.6 1131.2 771 1128.9C766.4 1126.6 762.4 1125.5 759 1122C755.6 1118.6 753.1 1112.6 750.4 1108.3C747.7 1104 744.7 1100.6 742.7 1096.3C740.7 1092 740 1088 738.4 1082.5C736.8 1077.1 734.2 1069.4 733.2 1063.6C732.2 1057.9 732.4 1053.2 732.4 1048Z" fill="#4A86C5" stroke="#000" stroke-width="1.45" stroke-linejoin="round"/><path d="M743.9 1048C743.9 1042.2 744 1036.7 744.4 1030.7C744.8 1024.6 745.4 1016.9 746.1 1011.8C746.8 1006.6 747.1 1003.5 748.7 999.8C750.3 996 753 993.2 755.6 989.5C758.1 985.7 761 980.6 764.1 977.4C767.3 974.3 770.4 972.9 774.5 970.6C778.5 968.3 783.3 965.4 788.2 963.7C793.1 962 798.8 961.1 803.6 960.3C808.5 959.4 812.8 959.5 817.4 958.5C822 957.5 827.1 954.8 831.1 954.2C835.1 953.7 838.6 953.7 841.4 955.1C844.3 956.5 846 960.3 848.3 962.8C850.6 965.4 852.9 968.4 855.2 970.6C857.5 972.7 860.2 973.4 862 975.7C863.9 978 865.9 980.9 866.3 984.3C866.8 987.7 865.8 992.6 864.6 996.3C863.5 1000 860.5 1002.3 859.5 1006.6C858.5 1010.9 858.7 1015.2 858.6 1022.1C858.5 1029 858.6 1039.4 858.6 1048C858.6 1056.7 858.5 1067 858.6 1073.9C858.7 1080.8 858.5 1085.1 859.5 1089.4C860.5 1093.7 863.5 1096 864.6 1099.7C865.8 1103.4 866.8 1108.3 866.3 1111.7C865.9 1115.2 863.9 1118 862 1120.3C860.2 1122.6 857.5 1123.3 855.2 1125.5C852.9 1127.6 850.6 1130.6 848.3 1133.2C846 1135.8 844.3 1139.5 841.4 1140.9C838.6 1142.4 835.1 1142.4 831.1 1141.8C827.1 1141.2 822 1138.5 817.4 1137.5C812.8 1136.5 808.5 1136.6 803.6 1135.8C798.8 1134.9 793.1 1134.1 788.2 1132.3C783.3 1130.6 778.5 1127.8 774.5 1125.5C770.4 1123.2 767.3 1121.7 764.1 1118.6C761 1115.4 758.1 1110.3 755.6 1106.6C753 1102.9 750.3 1100 748.7 1096.3C747.1 1092.5 746.8 1089.4 746.1 1084.2C745.4 1079.1 744.8 1071.4 744.4 1065.4C744 1059.3 743.9 1053.8 743.9 1048Z" fill="#6FCBD5" stroke="#000" stroke-width="1.45" stroke-linejoin="round"/><path d="M750.8 1048C750.8 1042.2 751 1036.4 751.3 1030.7C751.5 1024.9 751.7 1018.4 752.1 1013.5C752.6 1008.6 752.7 1005.2 753.8 1001.5C755 997.8 756.7 994.6 759 991.2C761.3 987.7 764.4 983.9 767.6 980.9C770.7 977.9 774.2 975.4 777.9 973.1C781.6 970.8 785.6 968.7 789.9 967.1C794.2 965.6 799.1 964.4 803.6 963.7C808.2 963 813.1 963.4 817.4 962.8C821.7 962.3 826 960.5 829.4 960.3C832.8 960 835.4 960 838 961.1C840.6 962.3 842.6 965 844.9 967.1C847.2 969.3 849.3 972 851.7 974C854.2 976 857.6 976.9 859.5 979.1C861.3 981.4 862.8 984.9 862.9 987.7C863 990.6 862.2 994 860.3 996.3C858.5 998.6 854.3 999.8 851.7 1001.5C849.2 1003.2 846.6 1004.3 844.9 1006.6C843.1 1008.9 842.1 1008.3 841.4 1015.2C840.8 1022.1 841.1 1037.1 841.1 1048C841.1 1058.9 840.8 1073.9 841.4 1080.8C842.1 1087.7 843.1 1087.1 844.9 1089.4C846.6 1091.7 849.2 1092.8 851.7 1094.6C854.3 1096.3 858.5 1097.4 860.3 1099.7C862.2 1102 863 1105.4 862.9 1108.3C862.8 1111.2 861.3 1114.6 859.5 1116.9C857.6 1119.2 854.2 1120 851.7 1122C849.3 1124 847.2 1126.8 844.9 1128.9C842.6 1131 840.6 1133.8 838 1134.9C835.4 1136.1 832.8 1136.1 829.4 1135.8C826 1135.5 821.7 1133.8 817.4 1133.2C813.1 1132.6 808.2 1133.1 803.6 1132.3C799.1 1131.6 794.2 1130.5 789.9 1128.9C785.6 1127.3 781.6 1125.2 777.9 1122.9C774.2 1120.6 770.7 1118.2 767.6 1115.2C764.4 1112.2 761.3 1108.3 759 1104.9C756.7 1101.4 755 1098.3 753.8 1094.6C752.7 1090.8 752.6 1087.4 752.1 1082.5C751.7 1077.7 751.5 1071.1 751.3 1065.4C751 1059.6 750.8 1053.8 750.8 1048Z" fill="#A0CE5E" stroke="#000" stroke-width="1.45" stroke-linejoin="round"/><path d="M763.8 1048C763.8 1042.8 763.6 1037.6 764.5 1032.4C765.4 1027.2 767.6 1019.9 769.3 1016.9C771 1013.9 772.9 1013.5 774.5 1014.4C776 1015.2 777.7 1019.1 778.7 1022.1C779.7 1025.1 780.1 1028.1 780.5 1032.4C780.8 1036.7 780.8 1042.8 780.8 1048C780.8 1053.2 780.8 1059.3 780.5 1063.6C780.1 1068 779.7 1070.9 778.7 1073.9C777.7 1077 776 1080.8 774.5 1081.7C772.9 1082.5 771 1082.1 769.3 1079.1C767.6 1076.1 765.4 1068.8 764.5 1063.6C763.6 1058.5 763.8 1053.2 763.8 1048Z" fill="#6FCBD5" stroke="#000" stroke-width="1.45" stroke-linejoin="round"/><path d="M770.2 1048C770.2 1042.8 770.1 1035.1 770.5 1032.4C770.9 1029.6 772 1031.5 772.7 1031.5C773.5 1031.5 774.5 1029.6 775 1032.4C775.4 1035.1 775.3 1042.8 775.3 1048C775.3 1053.2 775.4 1060.9 775 1063.6C774.5 1066.4 773.5 1064.5 772.7 1064.5C772 1064.5 770.9 1066.4 770.5 1063.6C770.1 1060.9 770.2 1053.2 770.2 1048Z" fill="#4A86C5" stroke="#000" stroke-width="1.45" stroke-linejoin="round"/><path d="M788.7 1048C788.7 1042.8 788.3 1037.3 787.3 1032.4C786.4 1027.5 784.3 1022.9 783 1018.6C781.8 1014.4 780.5 1010.6 779.6 1006.6C778.7 1002.6 777.6 998.9 777.9 994.6C778.2 990.3 779.3 984.9 781.3 980.9C783.3 976.9 786.2 973 789.9 970.6C793.6 968.1 799.1 967.1 803.6 966.3C808.2 965.4 813.1 965.8 817.4 965.4C821.7 965 826.3 963.6 829.4 963.7C832.6 963.8 834.3 964.8 836.3 966.3C838.3 967.7 840.7 969.3 841.4 972.3C842.1 975.3 841 980.6 840.6 984.3C840.1 988 839.7 991.2 838.9 994.6C838 998 836.3 1000.3 835.4 1004.9C834.6 1009.5 834 1014.9 833.7 1022.1C833.4 1029.3 833.7 1039.4 833.7 1048C833.7 1056.7 833.4 1066.8 833.7 1073.9C834 1081.1 834.6 1086.5 835.4 1091.1C836.3 1095.7 838 1098 838.9 1101.4C839.7 1104.9 840.1 1108 840.6 1111.7C841 1115.4 842.1 1120.7 841.4 1123.7C840.7 1126.8 838.3 1128.3 836.3 1129.8C834.3 1131.2 832.6 1132.2 829.4 1132.3C826.3 1132.5 821.7 1131 817.4 1130.6C813.1 1130.2 808.2 1130.6 803.6 1129.8C799.1 1128.9 793.6 1127.9 789.9 1125.5C786.2 1123 783.3 1119.2 781.3 1115.2C779.3 1111.2 778.2 1105.7 777.9 1101.4C777.6 1097.1 778.7 1093.4 779.6 1089.4C780.5 1085.4 781.8 1081.7 783 1077.4C784.3 1073.1 786.4 1068.5 787.3 1063.6C788.3 1058.7 788.7 1053.2 788.7 1048Z" fill="#F4E52B" stroke="#000" stroke-width="1.45" stroke-linejoin="round"/><path d="M843.1 990.3C843.1 987.6 844.3 983.6 845.7 981.7C847.2 979.9 849.6 979 851.7 979.1C853.9 979.3 857.1 980.7 858.6 982.6C860.1 984.4 860.8 987.7 860.7 990.3C860.5 992.9 859.2 996.4 857.7 998C856.3 999.7 853.7 1000.1 851.7 1000.1C849.7 1000.1 847.2 999.7 845.7 998C844.3 996.4 843.1 993 843.1 990.3Z" fill="#F4E52B" stroke="#000" stroke-width="1.45" stroke-linejoin="round"/><path d="M843.1 1105.7C843.1 1108.4 844.3 1112.4 845.7 1114.3C847.2 1116.2 849.6 1117 851.7 1116.9C853.9 1116.7 857.1 1115.3 858.6 1113.4C860.1 1111.6 860.8 1108.3 860.7 1105.7C860.5 1103.1 859.2 1099.6 857.7 1098C856.3 1096.4 853.7 1095.9 851.7 1095.9C849.7 1095.9 847.2 1096.4 845.7 1098C844.3 1099.6 843.1 1103 843.1 1105.7Z" fill="#F4E52B" stroke="#000" stroke-width="1.45" stroke-linejoin="round"/><path d="M796.8 1048C796.8 1044.5 796.2 1041 795.1 1037.5C793.9 1034.1 791.6 1031.2 789.9 1027.2C788.2 1023.2 785.9 1018.4 784.8 1013.5C783.6 1008.6 782.8 1003.5 783 998C783.3 992.6 784.8 985.4 786.5 980.9C788.2 976.3 790.2 972.7 793.3 970.6C796.5 968.4 801.4 968.6 805.4 968C809.4 967.4 813.4 967.4 817.4 967.1C821.4 966.8 826.5 965.7 829.4 966.3C832.3 966.8 833.7 968.1 834.6 970.6C835.4 973 835.1 977.4 834.6 980.9C834 984.3 832.3 987.2 831.1 991.2C830 995.2 828.4 999.8 827.7 1004.9C827 1010.1 827 1014.9 826.8 1022.1C826.7 1029.3 826.8 1039.4 826.8 1048C826.8 1056.7 826.7 1066.8 826.8 1073.9C827 1081.1 827 1086 827.7 1091.1C828.4 1096.3 830 1100.9 831.1 1104.9C832.3 1108.9 834 1111.7 834.6 1115.2C835.1 1118.6 835.4 1123 834.6 1125.5C833.7 1127.9 832.3 1129.2 829.4 1129.8C826.5 1130.3 821.4 1129.2 817.4 1128.9C813.4 1128.6 809.4 1128.6 805.4 1128C801.4 1127.5 796.5 1127.6 793.3 1125.5C790.2 1123.3 788.2 1119.7 786.5 1115.2C784.8 1110.6 783.3 1103.4 783 1098C782.8 1092.5 783.6 1087.4 784.8 1082.5C785.9 1077.7 788.2 1072.8 789.9 1068.8C791.6 1064.8 793.9 1062 795.1 1058.5C796.2 1055 796.8 1051.5 796.8 1048Z" fill="#F47B20" stroke="#000" stroke-width="1.45" stroke-linejoin="round"/><path d="M801.9 1048C801.9 1043.9 801.7 1038.8 802.3 1035.8C802.8 1032.8 804 1031.1 805.4 1030.2C806.7 1029.2 809.1 1029.2 810.5 1030.2C811.9 1031.1 813 1032.8 813.6 1035.8C814.2 1038.8 814 1043.9 814 1048C814 1052.1 814.2 1057.2 813.6 1060.2C813 1063.2 811.9 1064.9 810.5 1065.9C809.1 1066.8 806.7 1066.8 805.4 1065.9C804 1064.9 802.8 1063.2 802.3 1060.2C801.7 1057.2 801.9 1052.1 801.9 1048Z" fill="#F4E52B" stroke="#000" stroke-width="1.45" stroke-linejoin="round"/><path d="M785.4 1009.1L788.3 1015.1L794.4 1023.9L797 1025.9L798.7 1025.9L799.8 1025.5L801.2 1024.1L803.1 1020.4L805.6 1014.2L807.6 1006.8L808.7 1004.6L810.2 1003.6L816.5 1001.7L822.2 998.5L827.4 994.4L830 990.8L832.5 985L834.6 977.4L834.9 971.9L834.3 969.6L833.5 968.1L832.3 967.1L830 966L824.7 965.6L799.6 967.4L797.4 968L794 970L791.3 972.8L789 976.3L786.1 983.1L784.4 988.9L783.5 994.3L783.5 999.5L784.1 1004.4Z" fill="none" stroke="#000" stroke-width="0.8"/><path d="M787.3 1008.3C786 1004.3 785.2 999.5 785.6 994.6C786 989.7 788 983.2 789.9 979.1C791.8 975.1 793.9 972.3 796.8 970.6C799.6 968.8 803.4 969.3 807.1 968.8C810.8 968.4 815.4 968.1 819.1 968C822.8 967.8 827.1 967.3 829.4 968C831.7 968.7 832.6 969.8 832.8 972.3C833.1 974.7 832.3 979.1 831.1 982.6C830 986 828.5 990 826 992.9C823.4 995.7 818.8 998 815.7 999.8C812.5 1001.5 809.1 1000.9 807.1 1003.2C805.1 1005.5 805.1 1010.1 803.6 1013.5C802.2 1016.9 800.2 1022.9 798.5 1023.8C796.8 1024.7 795.2 1021.2 793.3 1018.6C791.5 1016.1 788.6 1012.4 787.3 1008.3Z" fill="#E21E26" stroke="#000" stroke-width="1.45" stroke-linejoin="round"/><path d="M785.4 1086.9L784.1 1091.6L783.5 1096.5L783.5 1101.7L784.4 1107.1L786.1 1112.9L789 1119.7L791.3 1123.2L794 1126.1L797.4 1128.1L799.6 1128.7L824.7 1130.5L830 1130.1L832.3 1128.9L833.5 1127.9L834.3 1126.5L834.9 1124.1L834.6 1118.7L832.5 1111L830 1105.2L827.4 1101.6L822.2 1097.5L816.5 1094.3L810.2 1092.4L808.7 1091.4L807.6 1089.3L805.6 1081.9L803.1 1075.6L801.2 1072L799.8 1070.6L798.7 1070.1L797 1070.1L794.4 1072.1L788.3 1080.9Z" fill="none" stroke="#000" stroke-width="0.8"/><path d="M787.3 1087.7C786 1091.7 785.2 1096.6 785.6 1101.4C786 1106.3 788 1112.9 789.9 1116.9C791.8 1120.9 793.9 1123.7 796.8 1125.5C799.6 1127.2 803.4 1126.8 807.1 1127.2C810.8 1127.6 815.4 1127.9 819.1 1128C822.8 1128.2 827.1 1128.8 829.4 1128C831.7 1127.3 832.6 1126.2 832.8 1123.7C833.1 1121.3 832.3 1116.9 831.1 1113.4C830 1110 828.5 1106 826 1103.1C823.4 1100.3 818.8 1098 815.7 1096.3C812.5 1094.6 809.1 1095.1 807.1 1092.8C805.1 1090.5 805.1 1086 803.6 1082.5C802.2 1079.1 800.2 1073.1 798.5 1072.2C796.8 1071.4 795.2 1074.8 793.3 1077.4C791.5 1080 788.6 1083.7 787.3 1087.7Z" fill="#E21E26" stroke="#000" stroke-width="1.45" stroke-linejoin="round"/><path d="M794.2 994.6C793.1 992.9 792.8 989.5 793.3 986C793.9 982.6 795.3 976.3 797.6 974C799.9 971.7 803.8 972.9 807.1 972.3C810.4 971.7 814.2 970.8 817.4 970.6C820.5 970.3 824.1 969.7 826 970.6C827.8 971.4 828.8 973.4 828.5 975.7C828.3 978 826.4 982.2 824.3 984.3C822.1 986.4 818.8 987.4 815.7 988.6C812.5 989.7 807.9 989.9 805.4 991.2C802.8 992.5 802.1 995.7 800.2 996.3C798.4 996.9 795.3 996.3 794.2 994.6Z" fill="#7E1416" stroke="#000" stroke-width="1.45" stroke-linejoin="round"/><path d="M794.2 1101.4C793.1 1103.1 792.8 1106.6 793.3 1110C793.9 1113.4 795.3 1119.7 797.6 1122C799.9 1124.3 803.8 1123.2 807.1 1123.7C810.4 1124.3 814.2 1125.2 817.4 1125.5C820.5 1125.8 824.1 1126.3 826 1125.5C827.8 1124.6 828.8 1122.6 828.5 1120.3C828.3 1118 826.4 1113.9 824.3 1111.7C822.1 1109.6 818.8 1108.6 815.7 1107.4C812.5 1106.3 807.9 1106.1 805.4 1104.9C802.8 1103.6 802.1 1100.3 800.2 1099.7C798.4 1099.1 795.3 1099.7 794.2 1101.4Z" fill="#7E1416" stroke="#000" stroke-width="1.45" stroke-linejoin="round"/><ellipse cx="828.9" cy="1048" rx="118" ry="120" fill="none" stroke="#F2E526" stroke-width="3.1" stroke-dasharray="13 6.5"/><ellipse cx="904.3" cy="1048.4" rx="44.3" ry="48.4" fill="none" stroke="#E4232B" stroke-width="3" stroke-dasharray="5 3.5 1.5 3.5"/><path d="M880.1 1048H930.4" stroke="#E4232B" stroke-width="2.8"/><circle cx="902.4" cy="1048" r="5.2" fill="#000" stroke="#E4232B" stroke-width="2.8"/></g><text x="695" y="1185.8" font-size="25.5" textLength="121.3" lengthAdjust="spacingAndGlyphs" fill="#fff">(N = 1369)</text><rect x="983.5" y="905.9" width="21.7" height="286.7" fill="url(#jet)" stroke="#000" stroke-width="1.2"/><text x="1007.2" y="915.4" font-size="26">80</text><path d="M983.5 977.6h3M1005.2 977.6h-3" stroke="#000" stroke-width="1.2"/><text x="1007.2" y="987.1" font-size="26">60</text><path d="M983.5 1049.2h3M1005.2 1049.2h-3" stroke="#000" stroke-width="1.2"/><text x="1007.2" y="1058.8" font-size="26">40</text><path d="M983.5 1120.9h3M1005.2 1120.9h-3" stroke="#000" stroke-width="1.2"/><text x="1007.2" y="1130.4" font-size="26">20</text><text x="1007.2" y="1202.1" font-size="26">0</text><text font-size="25" text-anchor="middle" textLength="107" lengthAdjust="spacingAndGlyphs" transform="translate(1067.2 1055.3) rotate(-90)">% of cells</text><text x="687.8" y="962.6" font-size="26" text-anchor="end">1</text><text x="687.8" y="1010.6" font-size="26" text-anchor="end">0.5</text><text x="687.8" y="1058.7" font-size="26" text-anchor="end">0</text><text x="687.8" y="1106.8" font-size="26" text-anchor="end">-0.5</text><text x="687.8" y="1153.9" font-size="26" text-anchor="end">-1</text><text x="732" y="1216.7" font-size="26" text-anchor="middle">-1</text><text x="829" y="1216.7" font-size="26" text-anchor="middle">0</text><text x="922.8" y="1216.7" font-size="26" text-anchor="middle">1</text><text x="825" y="1242.4" font-size="26" text-anchor="middle" textLength="155" lengthAdjust="spacingAndGlyphs">R cos(α) (µm)</text><text font-size="26" text-anchor="middle" textLength="154" lengthAdjust="spacingAndGlyphs" transform="translate(633 1050) rotate(-90)">R sin(α) (µm)</text><text x="829" y="891.6" font-size="43" text-anchor="middle" textLength="163.4" lengthAdjust="spacingAndGlyphs" fill="#231f20">Taf1-AID</text><text x="621.2" y="876.7" font-size="46" font-weight="bold" fill="#231f20">f</text>
<rect x="1224.4" y="903.6" width="280.8" height="287.4" fill="#000"/><g clip-path="url(#clipg)"><path d="M1243.3 1046.7C1243.3 1040.1 1243.3 1033.1 1244.2 1027C1245.1 1020.8 1246.8 1014.9 1248.5 1009.8C1250.2 1004.6 1251.8 1000.3 1254.5 996C1257.2 991.7 1261.7 987.7 1264.8 984C1268 980.3 1269.7 977.4 1273.4 973.7C1277.1 970 1282.5 965.1 1287.1 961.7C1291.7 958.3 1295.7 955.7 1300.9 953.1C1306 950.5 1312.9 948.5 1318 946.2C1323.2 943.9 1327.8 941.1 1331.8 939.4C1335.8 937.7 1338.1 936.2 1342.1 935.9C1346.1 935.7 1351.2 937.5 1355.8 938C1360.4 938.5 1365 939 1369.6 939C1374.1 939 1378.7 937.8 1383.3 938C1387.9 938.2 1393 938.6 1397 940.2C1401 941.9 1403.3 945.7 1407.3 948C1411.3 950.2 1416.5 952.5 1421.1 954C1425.7 955.4 1431.7 955.3 1434.8 956.5C1438 957.8 1438.8 959.4 1440 961.7C1441.1 964 1440 966.8 1441.7 970.3C1443.4 973.7 1449.1 978.3 1450.3 982.3C1451.4 986.3 1449.7 990.9 1448.6 994.3C1447.4 997.8 1446 1001 1443.4 1002.9C1440.8 1004.8 1436.5 1004.9 1433.1 1005.5C1429.7 1006.1 1424.9 1005.1 1422.8 1006.3C1420.7 1007.6 1420.4 1009.8 1420.2 1013.2C1420.1 1016.6 1421.5 1021.4 1421.9 1027C1422.4 1032.5 1422.8 1040.1 1422.8 1046.7C1422.8 1053.3 1422.4 1060.9 1421.9 1066.5C1421.5 1072 1420.1 1076.8 1420.2 1080.2C1420.4 1083.6 1420.7 1085.8 1422.8 1087.1C1424.9 1088.3 1429.7 1087.3 1433.1 1087.9C1436.5 1088.5 1440.8 1088.6 1443.4 1090.5C1446 1092.4 1447.4 1095.6 1448.6 1099.1C1449.7 1102.5 1451.4 1107.1 1450.3 1111.1C1449.1 1115.1 1443.4 1119.7 1441.7 1123.1C1440 1126.6 1441.1 1129.4 1440 1131.7C1438.8 1134 1438 1135.6 1434.8 1136.9C1431.7 1138.1 1425.7 1138 1421.1 1139.4C1416.5 1140.9 1411.3 1143.2 1407.3 1145.4C1403.3 1147.7 1401 1151.5 1397 1153.2C1393 1154.8 1387.9 1155.2 1383.3 1155.4C1378.7 1155.6 1374.1 1154.4 1369.6 1154.4C1365 1154.4 1360.4 1154.9 1355.8 1155.4C1351.2 1155.9 1346.1 1157.7 1342.1 1157.5C1338.1 1157.2 1335.8 1155.8 1331.8 1154C1327.8 1152.3 1323.2 1149.5 1318 1147.2C1312.9 1144.9 1306 1142.9 1300.9 1140.3C1295.7 1137.7 1291.7 1135.1 1287.1 1131.7C1282.5 1128.3 1277.1 1123.4 1273.4 1119.7C1269.7 1116 1268 1113.1 1264.8 1109.4C1261.7 1105.7 1257.2 1101.7 1254.5 1097.4C1251.8 1093.1 1250.2 1088.8 1248.5 1083.6C1246.8 1078.5 1245.1 1072.6 1244.2 1066.5C1243.3 1060.3 1243.3 1053.3 1243.3 1046.7Z" fill="#3F58A7" stroke="#000" stroke-width="1.45" stroke-linejoin="round"/><path d="M1247.6 1046.7C1247.6 1040.7 1247.8 1034.5 1248.5 1028.7C1249.2 1022.8 1250.2 1016.6 1251.9 1011.5C1253.6 1006.3 1256.1 1002.1 1258.8 997.8C1261.5 993.5 1265.2 989.7 1268.2 985.7C1271.2 981.7 1273.1 977.1 1276.8 973.7C1280.5 970.3 1286 968 1290.6 965.1C1295.1 962.3 1299.4 959.1 1304.3 956.5C1309.2 954 1314.9 952 1319.8 949.7C1324.6 947.4 1329.6 944.6 1333.5 942.8C1337.4 941 1339.8 939 1342.9 939C1346.1 939 1349.1 941.6 1352.4 942.8C1355.7 944 1359.3 946.2 1362.7 946.2C1366.1 946.2 1369.3 943.2 1373 942.8C1376.7 942.4 1381.6 942.5 1385 943.7C1388.5 944.8 1391 947.5 1393.6 949.7C1396.2 951.8 1397.6 954.5 1400.5 956.5C1403.3 958.5 1407.8 959.7 1410.8 961.7C1413.8 963.7 1417.5 965.1 1418.5 968.6C1419.5 972 1417.5 977.7 1416.8 982.3C1416.1 986.9 1414.4 990.9 1414.2 996C1414.1 1001.2 1415.5 1004.8 1415.9 1013.2C1416.4 1021.7 1416.8 1035.5 1416.8 1046.7C1416.8 1057.9 1416.4 1071.7 1415.9 1080.2C1415.5 1088.6 1414.1 1092.2 1414.2 1097.4C1414.4 1102.5 1416.1 1106.5 1416.8 1111.1C1417.5 1115.7 1419.5 1121.4 1418.5 1124.8C1417.5 1128.3 1413.8 1129.7 1410.8 1131.7C1407.8 1133.7 1403.3 1134.9 1400.5 1136.9C1397.6 1138.9 1396.2 1141.6 1393.6 1143.7C1391 1145.9 1388.5 1148.6 1385 1149.7C1381.6 1150.9 1376.7 1151 1373 1150.6C1369.3 1150.2 1366.1 1147.2 1362.7 1147.2C1359.3 1147.2 1355.7 1149.4 1352.4 1150.6C1349.1 1151.8 1346.1 1154.4 1342.9 1154.4C1339.8 1154.4 1337.4 1152.4 1333.5 1150.6C1329.6 1148.8 1324.6 1146 1319.8 1143.7C1314.9 1141.4 1309.2 1139.4 1304.3 1136.9C1299.4 1134.3 1295.1 1131.1 1290.6 1128.3C1286 1125.4 1280.5 1123.1 1276.8 1119.7C1273.1 1116.3 1271.2 1111.7 1268.2 1107.7C1265.2 1103.7 1261.5 1099.9 1258.8 1095.6C1256.1 1091.4 1253.6 1087.1 1251.9 1081.9C1250.2 1076.8 1249.2 1070.6 1248.5 1064.7C1247.8 1058.9 1247.6 1052.7 1247.6 1046.7Z" fill="#4A86C5" stroke="#000" stroke-width="1.45" stroke-linejoin="round"/><path d="M1250.2 1046.7C1250.2 1040.7 1250.2 1034.3 1251.1 1028.7C1251.9 1023.1 1253.5 1018.1 1255.4 1013.2C1257.2 1008.3 1259.5 1003.9 1262.2 999.5C1264.9 995 1268.7 990.6 1271.7 986.6C1274.7 982.6 1276.5 978.7 1280.3 975.4C1284 972.1 1289.4 969.4 1294 966.8C1298.6 964.3 1303.2 962.3 1307.7 960C1312.3 957.7 1316.9 955.4 1321.5 953.1C1326.1 950.8 1331.6 948 1335.2 946.2C1338.8 944.5 1340.4 942.5 1342.9 942.8C1345.5 943.1 1347.7 946.5 1350.7 948C1353.7 949.4 1357.5 951.4 1361 951.4C1364.4 951.4 1367.6 948.5 1371.3 948C1375 947.4 1380.7 946.5 1383.3 948C1385.9 949.4 1385 953.7 1386.7 956.5C1388.5 959.4 1390.7 963.1 1393.6 965.1C1396.5 967.1 1401 967.1 1403.9 968.6C1406.8 970 1409.9 970.9 1410.8 973.7C1411.6 976.6 1409.3 981.4 1409.1 985.7C1408.8 990 1408.6 994.3 1409.1 999.5C1409.5 1004.6 1411.1 1008.8 1411.6 1016.6C1412.2 1024.5 1412.5 1036.7 1412.5 1046.7C1412.5 1056.7 1412.2 1068.9 1411.6 1076.8C1411.1 1084.6 1409.5 1088.8 1409.1 1093.9C1408.6 1099.1 1408.8 1103.4 1409.1 1107.7C1409.3 1112 1411.6 1116.8 1410.8 1119.7C1409.9 1122.5 1406.8 1123.4 1403.9 1124.8C1401 1126.3 1396.5 1126.3 1393.6 1128.3C1390.7 1130.3 1388.5 1134 1386.7 1136.9C1385 1139.7 1385.9 1144 1383.3 1145.4C1380.7 1146.9 1375 1146 1371.3 1145.4C1367.6 1144.9 1364.4 1142 1361 1142C1357.5 1142 1353.7 1144 1350.7 1145.4C1347.7 1146.9 1345.5 1150.3 1342.9 1150.6C1340.4 1150.9 1338.8 1148.9 1335.2 1147.2C1331.6 1145.4 1326.1 1142.6 1321.5 1140.3C1316.9 1138 1312.3 1135.7 1307.7 1133.4C1303.2 1131.1 1298.6 1129.1 1294 1126.6C1289.4 1124 1284 1121.3 1280.3 1118C1276.5 1114.7 1274.7 1110.8 1271.7 1106.8C1268.7 1102.8 1264.9 1098.4 1262.2 1093.9C1259.5 1089.5 1257.2 1085.1 1255.4 1080.2C1253.5 1075.3 1251.9 1070.3 1251.1 1064.7C1250.2 1059.2 1250.2 1052.7 1250.2 1046.7Z" fill="#6FCBD5" stroke="#000" stroke-width="1.45" stroke-linejoin="round"/><path d="M1253.6 1046.7C1253.6 1041.3 1253.5 1034.3 1254.5 1030.4C1255.5 1026.5 1257.4 1025.2 1259.7 1023.5C1261.9 1021.8 1265.9 1022.4 1268.2 1020.1C1270.5 1017.8 1272.2 1013.8 1273.4 1009.8C1274.5 1005.8 1274.1 1001.2 1275.1 996C1276.1 990.9 1277.4 983.2 1279.4 978.9C1281.4 974.6 1283.8 972 1287.1 970.3C1290.4 968.6 1295.1 969.7 1299.1 968.6C1303.2 967.4 1306.9 965.4 1311.2 963.4C1315.5 961.4 1320.6 958.5 1324.9 956.5C1329.2 954.5 1333.5 952.5 1336.9 951.4C1340.4 950.2 1342.9 949.4 1345.5 949.7C1348.1 950 1349.5 952.1 1352.4 953.1C1355.2 954.1 1359.3 955.5 1362.7 955.7C1366.1 955.8 1369.8 954.1 1373 954C1376.1 953.8 1379.3 953.2 1381.6 954.8C1383.9 956.4 1384.4 960.8 1386.7 963.4C1389 966 1392.5 968.6 1395.3 970.3C1398.2 972 1402.9 971.1 1403.9 973.7C1404.9 976.3 1401.5 981.4 1401.3 985.7C1401.2 990 1402.3 994.3 1403 999.5C1403.8 1004.6 1404.9 1008.8 1405.6 1016.6C1406.3 1024.5 1407.3 1036.7 1407.3 1046.7C1407.3 1056.7 1406.3 1068.9 1405.6 1076.8C1404.9 1084.6 1403.8 1088.8 1403 1093.9C1402.3 1099.1 1401.2 1103.4 1401.3 1107.7C1401.5 1112 1404.9 1117.1 1403.9 1119.7C1402.9 1122.3 1398.2 1121.4 1395.3 1123.1C1392.5 1124.8 1389 1127.4 1386.7 1130C1384.4 1132.6 1383.9 1137 1381.6 1138.6C1379.3 1140.2 1376.1 1139.6 1373 1139.4C1369.8 1139.3 1366.1 1137.6 1362.7 1137.7C1359.3 1137.9 1355.2 1139.3 1352.4 1140.3C1349.5 1141.3 1348.1 1143.4 1345.5 1143.7C1342.9 1144 1340.4 1143.2 1336.9 1142C1333.5 1140.9 1329.2 1138.9 1324.9 1136.9C1320.6 1134.9 1315.5 1132 1311.2 1130C1306.9 1128 1303.2 1126 1299.1 1124.8C1295.1 1123.7 1290.4 1124.8 1287.1 1123.1C1283.8 1121.4 1281.4 1118.8 1279.4 1114.5C1277.4 1110.2 1276.1 1102.5 1275.1 1097.4C1274.1 1092.2 1274.5 1087.6 1273.4 1083.6C1272.2 1079.6 1270.5 1075.6 1268.2 1073.3C1265.9 1071 1261.9 1071.6 1259.7 1069.9C1257.4 1068.2 1255.5 1066.9 1254.5 1063C1253.5 1059.2 1253.6 1052.1 1253.6 1046.7Z" fill="#A0CE5E" stroke="#000" stroke-width="1.45" stroke-linejoin="round"/><path d="M1262.7 1033.8L1262.7 1059.6" stroke="#000" stroke-width="1.2"/><path d="M1280.3 1046.7C1280.3 1042.4 1280.7 1037 1281.1 1033.8C1281.5 1030.7 1282.2 1027.5 1282.8 1027.8C1283.5 1028.1 1284.6 1032.4 1285.1 1035.5C1285.6 1038.7 1285.8 1043 1285.8 1046.7C1285.8 1050.4 1285.6 1054.7 1285.1 1057.9C1284.6 1061 1283.5 1065.3 1282.8 1065.6C1282.2 1065.9 1281.5 1062.7 1281.1 1059.6C1280.7 1056.4 1280.3 1051 1280.3 1046.7Z" fill="#6FCBD5" stroke="#000" stroke-width="1.45" stroke-linejoin="round"/><path d="M1290.6 1046.7C1290.6 1041.3 1290.6 1035.4 1289.7 1030.4C1288.8 1025.4 1287 1021.2 1285.4 1016.6C1283.8 1012.1 1280.5 1006.9 1280.3 1002.9C1280 998.9 1282 995.5 1283.7 992.6C1285.4 989.7 1288.8 988.6 1290.6 985.7C1292.3 982.9 1292.6 977.6 1294 975.4C1295.4 973.3 1297.4 972 1299.1 972.9C1300.9 973.7 1302.3 978.2 1304.3 980.6C1306.3 983 1308.6 987.2 1311.2 987.5C1313.7 987.7 1316.9 984.6 1319.8 982.3C1322.6 980 1325.8 976.6 1328.3 973.7C1330.9 970.9 1332.4 968.3 1335.2 965.1C1338.1 962 1342.1 956.4 1345.5 954.8C1349 953.2 1352.4 955.1 1355.8 955.7C1359.3 956.3 1362.7 957.7 1366.1 958.3C1369.6 958.8 1373.6 958 1376.4 959.1C1379.3 960.3 1381 962.4 1383.3 965.1C1385.6 967.8 1387.9 971.4 1390.2 975.4C1392.5 979.4 1395.3 984 1397 989.2C1398.8 994.3 1399.5 1000 1400.5 1006.3C1401.5 1012.6 1402.5 1020.2 1403 1027C1403.6 1033.7 1403.9 1040.1 1403.9 1046.7C1403.9 1053.3 1403.6 1059.7 1403 1066.5C1402.5 1073.2 1401.5 1080.8 1400.5 1087.1C1399.5 1093.4 1398.8 1099.1 1397 1104.2C1395.3 1109.4 1392.5 1114 1390.2 1118C1387.9 1122 1385.6 1125.6 1383.3 1128.3C1381 1131 1379.3 1133.1 1376.4 1134.3C1373.6 1135.4 1369.6 1134.6 1366.1 1135.1C1362.7 1135.7 1359.3 1137.1 1355.8 1137.7C1352.4 1138.3 1349 1140.2 1345.5 1138.6C1342.1 1137 1338.1 1131.4 1335.2 1128.3C1332.4 1125.1 1330.9 1122.5 1328.3 1119.7C1325.8 1116.8 1322.6 1113.4 1319.8 1111.1C1316.9 1108.8 1313.7 1105.7 1311.2 1105.9C1308.6 1106.2 1306.3 1110.4 1304.3 1112.8C1302.3 1115.3 1300.9 1119.7 1299.1 1120.5C1297.4 1121.4 1295.4 1120.1 1294 1118C1292.6 1115.8 1292.3 1110.5 1290.6 1107.7C1288.8 1104.8 1285.4 1103.7 1283.7 1100.8C1282 1097.9 1280 1094.5 1280.3 1090.5C1280.5 1086.5 1283.8 1081.3 1285.4 1076.8C1287 1072.2 1288.8 1068 1289.7 1063C1290.6 1058 1290.6 1052.1 1290.6 1046.7Z" fill="#F4E52B" stroke="#000" stroke-width="1.45" stroke-linejoin="round"/><path d="M1306 1046.7C1306 1041.3 1305.4 1036 1305.2 1030.4C1304.9 1024.8 1304.6 1018.4 1304.3 1013.2C1304 1008.1 1303.2 1003.5 1303.4 999.5C1303.7 995.5 1304.4 990 1306 989.2C1307.6 988.3 1310.3 992.6 1312.9 994.3C1315.5 996 1319.2 996.9 1321.5 999.5C1323.8 1002.1 1325.5 1005.2 1326.6 1009.8C1327.8 1014.4 1328 1020.8 1328.3 1027C1328.7 1033.1 1328.7 1040.1 1328.7 1046.7C1328.7 1053.3 1328.7 1060.3 1328.3 1066.5C1328 1072.6 1327.8 1079 1326.6 1083.6C1325.5 1088.2 1323.8 1091.4 1321.5 1093.9C1319.2 1096.5 1315.5 1097.4 1312.9 1099.1C1310.3 1100.8 1307.6 1105.1 1306 1104.2C1304.4 1103.4 1303.7 1097.9 1303.4 1093.9C1303.2 1089.9 1304 1085.3 1304.3 1080.2C1304.6 1075 1304.9 1068.6 1305.2 1063C1305.4 1057.4 1306 1052.1 1306 1046.7Z" fill="#A0CE5E" stroke="#000" stroke-width="1.45" stroke-linejoin="round"/><path d="M1296.6 1046.7C1296.6 1041.3 1296.6 1035.4 1295.7 1030.4C1294.9 1025.4 1292.9 1021.2 1291.4 1016.6C1290 1012.1 1287.3 1006.6 1287.1 1002.9C1287 999.2 1288.8 996.6 1290.6 994.3C1292.3 992 1295.7 988.9 1297.4 989.2C1299.1 989.5 1300.6 992 1300.9 996C1301.2 1000 1299.2 1007.5 1299.1 1013.2C1299.1 1018.9 1300.2 1024.8 1300.4 1030.4C1300.6 1036 1300.4 1041.3 1300.4 1046.7C1300.4 1052.1 1300.6 1057.4 1300.4 1063C1300.2 1068.6 1299.1 1074.5 1299.1 1080.2C1299.2 1085.9 1301.2 1093.4 1300.9 1097.4C1300.6 1101.4 1299.1 1103.9 1297.4 1104.2C1295.7 1104.5 1292.3 1101.4 1290.6 1099.1C1288.8 1096.8 1287 1094.2 1287.1 1090.5C1287.3 1086.8 1290 1081.3 1291.4 1076.8C1292.9 1072.2 1294.9 1068 1295.7 1063C1296.6 1058 1296.6 1052.1 1296.6 1046.7Z" fill="#F47B20" stroke="#000" stroke-width="1.45" stroke-linejoin="round"/><path d="M1334.4 1046.7C1334.4 1041.3 1333.4 1036 1333.5 1030.4C1333.6 1024.8 1334.4 1018.4 1335.2 1013.2C1336.1 1008.1 1338.9 1002.1 1338.6 999.5C1338.4 996.9 1335.5 998.6 1333.5 997.8C1331.5 996.9 1329.6 996.2 1326.6 994.3C1323.6 992.5 1315.7 988.3 1315.5 986.6C1315.2 984.9 1321.9 985 1324.9 984C1327.9 983 1332.4 982.6 1333.5 980.6C1334.6 978.6 1331.2 974.9 1331.8 972C1332.4 969.1 1334.4 965.8 1336.9 963.4C1339.5 961 1343.8 958.1 1347.2 957.4C1350.7 956.7 1354.1 958.4 1357.5 959.1C1361 959.8 1364.7 961 1367.8 961.7C1371 962.4 1374 962 1376.4 963.4C1378.9 964.8 1380.4 967.1 1382.4 970.3C1384.4 973.4 1386.7 978 1388.5 982.3C1390.2 986.6 1391.7 990.9 1392.7 996C1393.7 1001.2 1393.9 1007.5 1394.5 1013.2C1395 1018.9 1395.8 1024.8 1396.2 1030.4C1396.6 1036 1396.7 1041.3 1396.7 1046.7C1396.7 1052.1 1396.6 1057.4 1396.2 1063C1395.8 1068.6 1395 1074.5 1394.5 1080.2C1393.9 1085.9 1393.7 1092.2 1392.7 1097.4C1391.7 1102.5 1390.2 1106.8 1388.5 1111.1C1386.7 1115.4 1384.4 1120 1382.4 1123.1C1380.4 1126.3 1378.9 1128.6 1376.4 1130C1374 1131.4 1371 1131 1367.8 1131.7C1364.7 1132.4 1361 1133.6 1357.5 1134.3C1354.1 1135 1350.7 1136.7 1347.2 1136C1343.8 1135.3 1339.5 1132.4 1336.9 1130C1334.4 1127.6 1332.4 1124.3 1331.8 1121.4C1331.2 1118.5 1334.6 1114.8 1333.5 1112.8C1332.4 1110.8 1327.9 1110.4 1324.9 1109.4C1321.9 1108.4 1315.2 1108.5 1315.5 1106.8C1315.7 1105.1 1323.6 1100.9 1326.6 1099.1C1329.6 1097.2 1331.5 1096.5 1333.5 1095.6C1335.5 1094.8 1338.4 1096.5 1338.6 1093.9C1338.9 1091.4 1336.1 1085.3 1335.2 1080.2C1334.4 1075 1333.6 1068.6 1333.5 1063C1333.4 1057.4 1334.4 1052.1 1334.4 1046.7Z" fill="#F47B20" stroke="#000" stroke-width="1.45" stroke-linejoin="round"/><path d="M1339 1046.7C1339 1041.3 1338.3 1036 1338.6 1030.4C1339 1024.8 1340.1 1018.4 1341.2 1013.2C1342.4 1008.1 1345.4 1003.5 1345.5 999.5C1345.7 995.5 1343.8 992 1342.1 989.2C1340.4 986.3 1336.6 984.9 1335.2 982.3C1333.8 979.7 1332.9 976.6 1333.5 973.7C1334.1 970.9 1336.4 967.3 1338.6 965.1C1340.9 963 1344.1 961.4 1347.2 960.8C1350.4 960.3 1354.1 961.1 1357.5 961.7C1361 962.3 1365 963.4 1367.8 964.3C1370.7 965.1 1372.7 965.3 1374.7 966.8C1376.7 968.4 1377.9 970.6 1379.9 973.7C1381.9 976.9 1385 981.4 1386.7 985.7C1388.5 990 1389.3 994.9 1390.2 999.5C1391 1004.1 1391.4 1008.1 1391.9 1013.2C1392.4 1018.4 1393 1024.8 1393.3 1030.4C1393.5 1036 1393.6 1041.3 1393.6 1046.7C1393.6 1052.1 1393.5 1057.4 1393.3 1063C1393 1068.6 1392.4 1075 1391.9 1080.2C1391.4 1085.3 1391 1089.3 1390.2 1093.9C1389.3 1098.5 1388.5 1103.4 1386.7 1107.7C1385 1112 1381.9 1116.5 1379.9 1119.7C1377.9 1122.8 1376.7 1125 1374.7 1126.6C1372.7 1128.1 1370.7 1128.3 1367.8 1129.1C1365 1130 1361 1131.1 1357.5 1131.7C1354.1 1132.3 1350.4 1133.1 1347.2 1132.6C1344.1 1132 1340.9 1130.4 1338.6 1128.3C1336.4 1126.1 1334.1 1122.5 1333.5 1119.7C1332.9 1116.8 1333.8 1113.7 1335.2 1111.1C1336.6 1108.5 1340.4 1107.1 1342.1 1104.2C1343.8 1101.4 1345.7 1097.9 1345.5 1093.9C1345.4 1089.9 1342.4 1085.3 1341.2 1080.2C1340.1 1075 1339 1068.6 1338.6 1063C1338.3 1057.4 1339 1052.1 1339 1046.7Z" fill="#E21E26" stroke="#000" stroke-width="1.45" stroke-linejoin="round"/><path d="M1340.4 968.6C1341.2 967.1 1344.4 965.6 1347.2 965.1C1350.1 964.7 1354.7 965.4 1357.5 966C1360.4 966.6 1362.4 967 1364.4 968.6C1366.4 970.1 1367.3 973 1369.6 975.4C1371.8 977.9 1376.1 981.4 1378.1 983.2C1380.1 984.9 1382.2 985.3 1381.6 985.7C1381 986.2 1377 986.6 1374.7 985.7C1372.4 984.9 1369.8 982.3 1367.8 980.6C1365.8 978.9 1364.7 976.4 1362.7 975.4C1360.7 974.4 1358.1 974.3 1355.8 974.6C1353.5 974.9 1351 976.1 1349 977.1C1346.9 978.2 1344.9 981.2 1343.8 980.6C1342.7 980 1342.7 975.7 1342.1 973.7C1341.5 971.7 1339.5 970 1340.4 968.6Z" fill="#7E1416" stroke="#000" stroke-width="1.45" stroke-linejoin="round"/><path d="M1340.4 1124.8C1341.2 1126.3 1344.4 1127.8 1347.2 1128.3C1350.1 1128.7 1354.7 1128 1357.5 1127.4C1360.4 1126.8 1362.4 1126.4 1364.4 1124.8C1366.4 1123.3 1367.3 1120.4 1369.6 1118C1371.8 1115.5 1376.1 1112 1378.1 1110.2C1380.1 1108.5 1382.2 1108.1 1381.6 1107.7C1381 1107.2 1377 1106.8 1374.7 1107.7C1372.4 1108.5 1369.8 1111.1 1367.8 1112.8C1365.8 1114.5 1364.7 1117 1362.7 1118C1360.7 1119 1358.1 1119.1 1355.8 1118.8C1353.5 1118.5 1351 1117.3 1349 1116.3C1346.9 1115.3 1344.9 1112.2 1343.8 1112.8C1342.7 1113.4 1342.7 1117.7 1342.1 1119.7C1341.5 1121.7 1339.5 1123.4 1340.4 1124.8Z" fill="#7E1416" stroke="#000" stroke-width="1.45" stroke-linejoin="round"/><path d="M1346.9 1046.7C1346.9 1042.4 1346.3 1038.3 1347.2 1033.8C1348.2 1029.4 1350.4 1024.7 1352.4 1020.1C1354.4 1015.5 1357.5 1009.5 1359.3 1006.3C1361 1003.2 1360.4 1001.2 1362.7 1001.2C1365 1001.2 1369.7 1005.2 1373 1006.3C1376.3 1007.5 1381.2 1005.8 1382.4 1008.1C1383.7 1010.4 1381.2 1015.8 1380.7 1020.1C1380.3 1024.4 1380 1029.4 1379.9 1033.8C1379.7 1038.3 1379.9 1042.4 1379.9 1046.7C1379.9 1051 1379.7 1055.1 1379.9 1059.6C1380 1064 1380.3 1069 1380.7 1073.3C1381.2 1077.6 1383.7 1083.1 1382.4 1085.3C1381.2 1087.6 1376.3 1085.9 1373 1087.1C1369.7 1088.2 1365 1092.2 1362.7 1092.2C1360.4 1092.2 1361 1090.2 1359.3 1087.1C1357.5 1083.9 1354.4 1077.9 1352.4 1073.3C1350.4 1068.7 1348.2 1064 1347.2 1059.6C1346.3 1055.1 1346.9 1051 1346.9 1046.7Z" fill="#F47B20" stroke="#000" stroke-width="1.45" stroke-linejoin="round"/><path d="M1354.4 1046.7C1354.4 1043 1354.3 1039.7 1355 1035.5C1355.6 1031.4 1357.1 1025.7 1358.4 1021.8C1359.7 1017.9 1361.1 1013.2 1362.7 1012.4C1364.3 1011.5 1366.6 1014.2 1367.8 1016.6C1369.1 1019.1 1370.1 1021.9 1370.4 1027C1370.7 1032 1369.6 1040.1 1369.6 1046.7C1369.6 1053.3 1370.7 1061.4 1370.4 1066.5C1370.1 1071.5 1369.1 1074.3 1367.8 1076.8C1366.6 1079.2 1364.3 1081.9 1362.7 1081C1361.1 1080.2 1359.7 1075.5 1358.4 1071.6C1357.1 1067.7 1355.6 1062 1355 1057.9C1354.3 1053.7 1354.4 1050.4 1354.4 1046.7Z" fill="#F4E52B" stroke="#000" stroke-width="1.45" stroke-linejoin="round"/><path d="M1360.6 1046.7C1360.6 1042.4 1360.7 1036.8 1361 1033.8C1361.2 1030.8 1361.7 1028.7 1362 1028.7C1362.3 1028.7 1362.8 1030.8 1363 1033.8C1363.3 1036.8 1363.4 1042.4 1363.4 1046.7C1363.4 1051 1363.3 1056.6 1363 1059.6C1362.8 1062.6 1362.3 1064.7 1362 1064.7C1361.7 1064.7 1361.2 1062.6 1361 1059.6C1360.7 1056.6 1360.6 1051 1360.6 1046.7Z" fill="#A0CE5E" stroke="#000" stroke-width="1.45" stroke-linejoin="round"/><ellipse cx="1367" cy="1045" rx="124.6" ry="124.8" fill="none" stroke="#F2E526" stroke-width="3.1" stroke-dasharray="13 6.5"/><ellipse cx="1463.5" cy="1036.9" rx="44.3" ry="61.5" fill="none" stroke="#E4232B" stroke-width="3" stroke-dasharray="5 3.5 1.5 3.5"/><path d="M1432.2 1038.1H1487.7" stroke="#E4232B" stroke-width="2.8"/><circle cx="1458" cy="1038.1" r="5.2" fill="#000" stroke="#E4232B" stroke-width="2.8"/></g><text x="1224.7" y="1184.7" font-size="25.5" textLength="115.1" lengthAdjust="spacingAndGlyphs" fill="#fff">(N = 1563)</text><rect x="1536.3" y="903.5" width="21.6" height="287.4" fill="url(#jet)" stroke="#000" stroke-width="1.2"/><text x="1559.9" y="913" font-size="26">80</text><path d="M1536.3 975.4h3M1557.9 975.4h-3" stroke="#000" stroke-width="1.2"/><text x="1559.9" y="984.9" font-size="26">60</text><path d="M1536.3 1047.2h3M1557.9 1047.2h-3" stroke="#000" stroke-width="1.2"/><text x="1559.9" y="1056.7" font-size="26">40</text><path d="M1536.3 1119.1h3M1557.9 1119.1h-3" stroke="#000" stroke-width="1.2"/><text x="1559.9" y="1128.6" font-size="26">20</text><text x="1559.9" y="1200.4" font-size="26">0</text><text font-size="25" text-anchor="middle" textLength="107" lengthAdjust="spacingAndGlyphs" transform="translate(1615.8 1049) rotate(-90)">% of cells</text><text x="1222.2" y="946.1" font-size="26" text-anchor="end">1</text><text x="1222.2" y="996.6" font-size="26" text-anchor="end">0.5</text><text x="1222.2" y="1048.1" font-size="26" text-anchor="end">0</text><text x="1222.2" y="1098.9" font-size="26" text-anchor="end">-0.5</text><text x="1222.2" y="1150.4" font-size="26" text-anchor="end">-1</text><text x="1265.7" y="1215" font-size="26" text-anchor="middle">-1</text><text x="1371.7" y="1215" font-size="26" text-anchor="middle">0</text><text x="1472" y="1215" font-size="26" text-anchor="middle">1</text><text x="1368" y="1240.7" font-size="26" text-anchor="middle" textLength="155" lengthAdjust="spacingAndGlyphs">R cos(α) (µm)</text><text font-size="26" text-anchor="middle" textLength="154" lengthAdjust="spacingAndGlyphs" transform="translate(1166 1041.5) rotate(-90)">R sin(α) (µm)</text><text x="1365" y="889.9" font-size="43" text-anchor="middle" textLength="207.1" lengthAdjust="spacingAndGlyphs" fill="#231f20">Rtt109-AID</text><text x="1141.3" y="871.5" font-size="46" font-weight="bold" fill="#231f20">g</text>
<rect x="99.7" y="1801.1" width="23.3" height="97.3" fill="#5BACD6" stroke="#8c8c8c" stroke-width="0.7"/><rect x="123" y="1855.8" width="23.3" height="42.6" fill="#B3A2D3" stroke="#8c8c8c" stroke-width="0.7"/><rect x="146.3" y="1813.2" width="23.3" height="85.2" fill="#3F5BA9" stroke="#8c8c8c" stroke-width="0.7"/><rect x="169.6" y="1844.5" width="23.3" height="53.9" fill="#E6E6E6" stroke="#8c8c8c" stroke-width="0.7"/><rect x="203.9" y="1458" width="23.3" height="440.4" fill="#5BACD6" stroke="#8c8c8c" stroke-width="0.7"/><rect x="227.2" y="1827.8" width="23.3" height="70.6" fill="#B3A2D3" stroke="#8c8c8c" stroke-width="0.7"/><rect x="250.5" y="1667.7" width="23.3" height="230.7" fill="#3F5BA9" stroke="#8c8c8c" stroke-width="0.7"/><rect x="273.8" y="1709.4" width="23.3" height="189" fill="#E6E6E6" stroke="#8c8c8c" stroke-width="0.7"/><rect x="307.7" y="1425.2" width="23.3" height="473.2" fill="#5BACD6" stroke="#8c8c8c" stroke-width="0.7"/><rect x="331" y="1837.6" width="23.3" height="60.8" fill="#B3A2D3" stroke="#8c8c8c" stroke-width="0.7"/><rect x="354.3" y="1724" width="23.3" height="174.4" fill="#3F5BA9" stroke="#8c8c8c" stroke-width="0.7"/><rect x="377.6" y="1754" width="23.3" height="144.4" fill="#E6E6E6" stroke="#8c8c8c" stroke-width="0.7"/><rect x="411.2" y="1727.3" width="23.3" height="171.1" fill="#5BACD6" stroke="#8c8c8c" stroke-width="0.7"/><rect x="434.5" y="1846.1" width="23.3" height="52.3" fill="#B3A2D3" stroke="#8c8c8c" stroke-width="0.7"/><rect x="457.8" y="1797.4" width="23.3" height="101" fill="#3F5BA9" stroke="#8c8c8c" stroke-width="0.7"/><rect x="481.1" y="1819.7" width="23.3" height="78.7" fill="#E6E6E6" stroke="#8c8c8c" stroke-width="0.7"/><rect x="515" y="1737.8" width="23.3" height="160.6" fill="#5BACD6" stroke="#8c8c8c" stroke-width="0.7"/><rect x="538.3" y="1848.9" width="23.3" height="49.5" fill="#B3A2D3" stroke="#8c8c8c" stroke-width="0.7"/><rect x="561.6" y="1799.9" width="23.3" height="98.5" fill="#3F5BA9" stroke="#8c8c8c" stroke-width="0.7"/><rect x="584.9" y="1833.5" width="23.3" height="64.9" fill="#E6E6E6" stroke="#8c8c8c" stroke-width="0.7"/><rect x="619.2" y="1733.4" width="23.3" height="165" fill="#5BACD6" stroke="#8c8c8c" stroke-width="0.7"/><rect x="642.5" y="1850.6" width="23.3" height="47.8" fill="#B3A2D3" stroke="#8c8c8c" stroke-width="0.7"/><rect x="665.8" y="1792.6" width="23.3" height="105.8" fill="#3F5BA9" stroke="#8c8c8c" stroke-width="0.7"/><rect x="689.1" y="1826.2" width="23.3" height="72.2" fill="#E6E6E6" stroke="#8c8c8c" stroke-width="0.7"/><rect x="723.4" y="1716.3" width="23.3" height="182.1" fill="#5BACD6" stroke="#8c8c8c" stroke-width="0.7"/><rect x="746.7" y="1830.7" width="23.3" height="67.7" fill="#B3A2D3" stroke="#8c8c8c" stroke-width="0.7"/><rect x="770" y="1737.8" width="23.3" height="160.6" fill="#3F5BA9" stroke="#8c8c8c" stroke-width="0.7"/><rect x="793.3" y="1761.3" width="23.3" height="137.1" fill="#E6E6E6" stroke="#8c8c8c" stroke-width="0.7"/><rect x="826.9" y="1543.6" width="23.3" height="354.8" fill="#5BACD6" stroke="#8c8c8c" stroke-width="0.7"/><rect x="850.2" y="1807.6" width="23.3" height="90.8" fill="#B3A2D3" stroke="#8c8c8c" stroke-width="0.7"/><rect x="873.5" y="1633.6" width="23.3" height="264.8" fill="#3F5BA9" stroke="#8c8c8c" stroke-width="0.7"/><rect x="896.8" y="1706.6" width="23.3" height="191.8" fill="#E6E6E6" stroke="#8c8c8c" stroke-width="0.7"/><path d="M111.4 1796.1V1806.2M105.9 1796.1h11M105.9 1806.2h11" stroke="#000" stroke-width="2" fill="none"/><circle cx="101.4" cy="1804.7" r="4.6"/><circle cx="111.7" cy="1793.4" r="4.6"/><circle cx="120.4" cy="1803.6" r="4.6"/><circle cx="126.2" cy="1855.5" r="4.6"/><circle cx="134.7" cy="1854.4" r="4.6"/><circle cx="142.2" cy="1854.8" r="4.6"/><path d="M158 1802.8V1825.4M152.5 1802.8h11M152.5 1825.4h11" stroke="#000" stroke-width="2" fill="none"/><circle cx="150" cy="1806.2" r="4.6"/><circle cx="165.5" cy="1808.5" r="4.6"/><circle cx="158" cy="1825.4" r="4.6"/><path d="M181.3 1831.8V1858.1M175.8 1831.8h11M175.8 1858.1h11" stroke="#000" stroke-width="2" fill="none"/><circle cx="181.3" cy="1829.9" r="4.6"/><circle cx="181.3" cy="1845" r="4.6"/><circle cx="181.3" cy="1858.1" r="4.6"/><path d="M215.6 1402.9V1513.1M210.1 1402.9h11M210.1 1513.1h11" stroke="#000" stroke-width="2" fill="none"/><circle cx="215.6" cy="1413.1" r="4.6"/><circle cx="215.6" cy="1442.8" r="4.6"/><circle cx="215.6" cy="1519.5" r="4.6"/><circle cx="230.9" cy="1825.4" r="4.6"/><circle cx="238.9" cy="1820.5" r="4.6"/><circle cx="246.9" cy="1825.4" r="4.6"/><path d="M262.1 1586.5V1749M256.6 1586.5h11M256.6 1749h11" stroke="#000" stroke-width="2" fill="none"/><circle cx="262.1" cy="1579" r="4.6"/><circle cx="262.1" cy="1687" r="4.6"/><circle cx="262.1" cy="1738.5" r="4.6"/><path d="M285.4 1658V1761.1M279.9 1658h11M279.9 1761.1h11" stroke="#000" stroke-width="2" fill="none"/><circle cx="285.4" cy="1652.3" r="4.6"/><circle cx="285.4" cy="1727.6" r="4.6"/><circle cx="285.4" cy="1749.8" r="4.6"/><path d="M319.3 1355.9V1494M313.8 1355.9h11M313.8 1494h11" stroke="#000" stroke-width="2" fill="none"/><circle cx="319.3" cy="1351" r="4.6"/><circle cx="319.3" cy="1440.2" r="4.6"/><circle cx="319.3" cy="1486.8" r="4.6"/><path d="M342.6 1813V1861.9M337.1 1813h11M337.1 1861.9h11" stroke="#000" stroke-width="2" fill="none"/><circle cx="342.6" cy="1819.4" r="4.6"/><circle cx="342.6" cy="1830.7" r="4.6"/><circle cx="342.6" cy="1864.9" r="4.6"/><path d="M365.9 1695.2V1752.8M360.4 1695.2h11M360.4 1752.8h11" stroke="#000" stroke-width="2" fill="none"/><circle cx="358.4" cy="1704.6" r="4.6"/><circle cx="373.4" cy="1710.3" r="4.6"/><circle cx="365.9" cy="1757.3" r="4.6"/><path d="M389.2 1734.7V1773.5M383.8 1734.7h11M383.8 1773.5h11" stroke="#000" stroke-width="2" fill="none"/><circle cx="389.2" cy="1740.8" r="4.6"/><circle cx="389.2" cy="1767.8" r="4.6"/><path d="M422.8 1680.2V1773.5M417.3 1680.2h11M417.3 1773.5h11" stroke="#000" stroke-width="2" fill="none"/><circle cx="422.8" cy="1695.6" r="4.6"/><circle cx="422.8" cy="1705.8" r="4.6"/><circle cx="422.8" cy="1781" r="4.6"/><path d="M446.1 1834.4V1861.2M440.6 1834.4h11M440.6 1861.2h11" stroke="#000" stroke-width="2" fill="none"/><circle cx="438.1" cy="1836.7" r="4.6"/><circle cx="454.1" cy="1842.3" r="4.6"/><circle cx="446.1" cy="1861.2" r="4.6"/><path d="M469.4 1767.8V1827.3M463.9 1767.8h11M463.9 1827.3h11" stroke="#000" stroke-width="2" fill="none"/><circle cx="469.4" cy="1767.8" r="4.6"/><circle cx="469.4" cy="1797.9" r="4.6"/><circle cx="469.4" cy="1827.3" r="4.6"/><path d="M492.8 1800.6V1839.3M487.2 1800.6h11M487.2 1839.3h11" stroke="#000" stroke-width="2" fill="none"/><circle cx="492.8" cy="1798.7" r="4.6"/><circle cx="492.8" cy="1824.3" r="4.6"/><circle cx="492.8" cy="1836.7" r="4.6"/><path d="M526.6 1723.8V1750.9M521.1 1723.8h11M521.1 1750.9h11" stroke="#000" stroke-width="2" fill="none"/><circle cx="526.6" cy="1726.5" r="4.6"/><circle cx="526.6" cy="1739.6" r="4.6"/><circle cx="526.6" cy="1750.2" r="4.6"/><path d="M549.9 1846.1V1856.3M544.4 1846.1h11M544.4 1856.3h11" stroke="#000" stroke-width="2" fill="none"/><circle cx="541.9" cy="1848" r="4.6"/><circle cx="557.9" cy="1848" r="4.6"/><circle cx="549.9" cy="1856.3" r="4.6"/><path d="M573.2 1781.8V1820.5M567.8 1781.8h11M567.8 1820.5h11" stroke="#000" stroke-width="2" fill="none"/><circle cx="573.2" cy="1786.7" r="4.6"/><circle cx="573.2" cy="1794.2" r="4.6"/><circle cx="573.2" cy="1820.5" r="4.6"/><path d="M596.5 1820.5V1846.9M591 1820.5h11M591 1846.9h11" stroke="#000" stroke-width="2" fill="none"/><circle cx="596.5" cy="1817.9" r="4.6"/><circle cx="604" cy="1839.3" r="4.6"/><circle cx="589" cy="1843.8" r="4.6"/><path d="M630.9 1717.8V1749M625.4 1717.8h11M625.4 1749h11" stroke="#000" stroke-width="2" fill="none"/><circle cx="630.9" cy="1717.8" r="4.6"/><circle cx="630.9" cy="1737" r="4.6"/><circle cx="630.9" cy="1748.3" r="4.6"/><path d="M654.1 1837.5V1861.2M648.6 1837.5h11M648.6 1861.2h11" stroke="#000" stroke-width="2" fill="none"/><circle cx="654.1" cy="1837.5" r="4.6"/><circle cx="654.1" cy="1852.5" r="4.6"/><circle cx="654.1" cy="1860" r="4.6"/><path d="M677.5 1770.5V1814.9M672 1770.5h11M672 1814.9h11" stroke="#000" stroke-width="2" fill="none"/><circle cx="677.5" cy="1774.2" r="4.6"/><circle cx="677.5" cy="1784" r="4.6"/><circle cx="677.5" cy="1817.9" r="4.6"/><path d="M700.8 1811.9V1840.5M695.2 1811.9h11M695.2 1840.5h11" stroke="#000" stroke-width="2" fill="none"/><circle cx="700.8" cy="1811.9" r="4.6"/><circle cx="700.8" cy="1828" r="4.6"/><circle cx="700.8" cy="1839.3" r="4.6"/><path d="M735 1705.8V1728.3M729.5 1705.8h11M729.5 1728.3h11" stroke="#000" stroke-width="2" fill="none"/><circle cx="735" cy="1705.8" r="4.6"/><circle cx="735" cy="1718.2" r="4.6"/><circle cx="735" cy="1726.5" r="4.6"/><path d="M758.3 1823.5V1839.3M752.8 1823.5h11M752.8 1839.3h11" stroke="#000" stroke-width="2" fill="none"/><circle cx="750.3" cy="1825.4" r="4.6"/><circle cx="766.3" cy="1829.9" r="4.6"/><circle cx="758.3" cy="1839.3" r="4.6"/><path d="M781.6 1706.5V1769.7M776.1 1706.5h11M776.1 1769.7h11" stroke="#000" stroke-width="2" fill="none"/><circle cx="781.6" cy="1706.5" r="4.6"/><circle cx="781.6" cy="1737.8" r="4.6"/><circle cx="781.6" cy="1769.7" r="4.6"/><path d="M804.9 1748.3V1773.5M799.4 1748.3h11M799.4 1773.5h11" stroke="#000" stroke-width="2" fill="none"/><circle cx="804.9" cy="1748.3" r="4.6"/><circle cx="804.9" cy="1763" r="4.6"/><circle cx="804.9" cy="1771.6" r="4.6"/><path d="M838.5 1533.8V1557.2M833 1533.8h11M833 1557.2h11" stroke="#000" stroke-width="2" fill="none"/><circle cx="831" cy="1537.6" r="4.6"/><circle cx="846.5" cy="1540.2" r="4.6"/><circle cx="838.5" cy="1558.3" r="4.6"/><path d="M861.8 1797.9V1820.5M856.3 1797.9h11M856.3 1820.5h11" stroke="#000" stroke-width="2" fill="none"/><circle cx="854.3" cy="1800.6" r="4.6"/><circle cx="869.8" cy="1804.3" r="4.6"/><circle cx="861.8" cy="1819.8" r="4.6"/><path d="M885.1 1586.5V1681.3M879.6 1586.5h11M879.6 1681.3h11" stroke="#000" stroke-width="2" fill="none"/><circle cx="885.1" cy="1594.8" r="4.6"/><circle cx="885.1" cy="1620" r="4.6"/><circle cx="885.1" cy="1687" r="4.6"/><path d="M908.4 1671.9V1740.4M902.9 1671.9h11M902.9 1740.4h11" stroke="#000" stroke-width="2" fill="none"/><circle cx="908.4" cy="1667" r="4.6"/><circle cx="908.4" cy="1719.7" r="4.6"/><circle cx="908.4" cy="1732.1" r="4.6"/><path d="M88 1329.7V1898.4M78 1898.4H931.5" stroke="#231f20" stroke-width="2.2" fill="none"/><path d="M78.4 1898.4H88" stroke="#231f20" stroke-width="2.2"/><text x="56.3" y="1905.7" font-size="31" text-anchor="middle">0</text><path d="M78.4 1817.3H88" stroke="#231f20" stroke-width="2.2"/><text x="56.3" y="1824.6" font-size="31" text-anchor="middle">2</text><path d="M78.4 1736.2H88" stroke="#231f20" stroke-width="2.2"/><text x="56.3" y="1743.5" font-size="31" text-anchor="middle">4</text><path d="M78.4 1655.1H88" stroke="#231f20" stroke-width="2.2"/><text x="56.3" y="1662.4" font-size="31" text-anchor="middle">6</text><path d="M78.4 1574H88" stroke="#231f20" stroke-width="2.2"/><text x="56.3" y="1581.3" font-size="31" text-anchor="middle">8</text><path d="M78.4 1492.9H88" stroke="#231f20" stroke-width="2.2"/><text x="56.3" y="1500.2" font-size="31" text-anchor="middle">10</text><path d="M78.4 1411.8H88" stroke="#231f20" stroke-width="2.2"/><text x="56.3" y="1419.1" font-size="31" text-anchor="middle">12</text><path d="M78.4 1330.7H88" stroke="#231f20" stroke-width="2.2"/><text x="56.3" y="1338" font-size="31" text-anchor="middle">14</text><path d="M146.3 1898.4v10" stroke="#231f20" stroke-width="2.2"/><path d="M250.5 1898.4v10" stroke="#231f20" stroke-width="2.2"/><path d="M354.3 1898.4v10" stroke="#231f20" stroke-width="2.2"/><path d="M457.8 1898.4v10" stroke="#231f20" stroke-width="2.2"/><path d="M561.6 1898.4v10" stroke="#231f20" stroke-width="2.2"/><path d="M665.8 1898.4v10" stroke="#231f20" stroke-width="2.2"/><path d="M770 1898.4v10" stroke="#231f20" stroke-width="2.2"/><path d="M873.5 1898.4v10" stroke="#231f20" stroke-width="2.2"/><text font-size="32" text-anchor="middle" textLength="195.6" lengthAdjust="spacingAndGlyphs" transform="translate(26.5 1566.6) rotate(-90)">H3K14ac/H3</text><path d="M112.9 1772.2V1768.7H132.4V1798" stroke="#231f20" stroke-width="2.8" fill="none"/><text x="89.2" y="1757.4" font-size="24.5" textLength="115.9" lengthAdjust="spacingAndGlyphs"><tspan font-style="italic">p</tspan> = 0.0001</text><path d="M218.2 1386.9V1383.4H237.8V1414.3" stroke="#231f20" stroke-width="2.8" fill="none"/><text x="176.8" y="1371.7" font-size="24.5" textLength="118.5" lengthAdjust="spacingAndGlyphs"><tspan font-style="italic">p</tspan> = 0.0003</text><path d="M319.8 1336.9V1333.4H345V1364.2" stroke="#231f20" stroke-width="2.8" fill="none"/><text x="296.5" y="1325.1" font-size="24.5" textLength="117.4" lengthAdjust="spacingAndGlyphs"><tspan font-style="italic">p</tspan> = 0.0006</text><path d="M427 1666.1V1662.6H447.7V1692.7" stroke="#231f20" stroke-width="2.8" fill="none"/><text x="398.8" y="1653.2" font-size="24.5" textLength="104.2" lengthAdjust="spacingAndGlyphs"><tspan font-style="italic">p</tspan> = 0.013</text><path d="M529.7 1707.4V1703.9H549.6V1734" stroke="#231f20" stroke-width="2.8" fill="none"/><text x="468" y="1695.7" font-size="24.5" textLength="116.6" lengthAdjust="spacingAndGlyphs"><tspan font-style="italic">p</tspan> = 0.0001</text><path d="M635 1699.9V1696.4H653.1V1727.6" stroke="#231f20" stroke-width="2.8" fill="none"/><text x="599.6" y="1690" font-size="24.5" textLength="118.1" lengthAdjust="spacingAndGlyphs"><tspan font-style="italic">p</tspan> = 0.0005</text><path d="M738.8 1688.6V1685.1H757.3V1716.4" stroke="#231f20" stroke-width="2.8" fill="none"/><text x="708.4" y="1666.3" font-size="24.5" textLength="115.9" lengthAdjust="spacingAndGlyphs"><tspan font-style="italic">p</tspan> = 0.0001</text><path d="M838.2 1513.7V1510.2H863.7V1541.4" stroke="#231f20" stroke-width="2.8" fill="none"/><text x="809.9" y="1502.7" font-size="24.5" textLength="116.6" lengthAdjust="spacingAndGlyphs"><tspan font-style="italic">p</tspan> &lt; 0.0001</text><rect x="813.7" y="1351" width="13.6" height="13.6" fill="#5BACD6" stroke="#8c8c8c" stroke-width="0.7"/><text x="836.3" y="1365.6" font-size="22" textLength="25" lengthAdjust="spacingAndGlyphs" stroke="#000" stroke-width="0.3">wt</text><rect x="813.7" y="1373.9" width="13.6" height="13.6" fill="#B3A2D3" stroke="#8c8c8c" stroke-width="0.7"/><text x="836.3" y="1388.5" font-size="22" textLength="95" lengthAdjust="spacingAndGlyphs" stroke="#000" stroke-width="0.3">Gcn5-AID</text><rect x="813.7" y="1396.3" width="13.6" height="13.6" fill="#3F5BA9" stroke="#8c8c8c" stroke-width="0.7"/><text x="836.3" y="1410.9" font-size="22" textLength="87.5" lengthAdjust="spacingAndGlyphs" stroke="#000" stroke-width="0.3">Taf1-AID</text><rect x="813.7" y="1419.5" width="13.6" height="13.6" fill="#E6E6E6" stroke="#8c8c8c" stroke-width="0.7"/><text x="836.3" y="1434.1" font-size="22" textLength="109.5" lengthAdjust="spacingAndGlyphs" stroke="#000" stroke-width="0.3">Rtt109-AID</text><text font-size="25.5" text-anchor="end" textLength="59.7" lengthAdjust="spacingAndGlyphs" fill="#111" stroke="#111" stroke-width="0.3" transform="translate(154.6 1934.1) rotate(-45)">DAS1</text><text font-size="25.5" text-anchor="end" textLength="116.7" lengthAdjust="spacingAndGlyphs" fill="#111" stroke="#111" stroke-width="0.3" transform="translate(266.2 1929) rotate(-45)">SNA3prom</text><text font-size="25.5" text-anchor="end" textLength="68" lengthAdjust="spacingAndGlyphs" fill="#111" stroke="#111" stroke-width="0.3" transform="translate(361.6 1931.6) rotate(-45)">GRSII</text><text font-size="25.5" text-anchor="end" textLength="62.7" lengthAdjust="spacingAndGlyphs" fill="#111" stroke="#111" stroke-width="0.3" transform="translate(464.4 1927.8) rotate(-45)">GRSI</text><text font-size="25.5" text-anchor="end" textLength="59.7" lengthAdjust="spacingAndGlyphs" fill="#111" stroke="#111" stroke-width="0.3" transform="translate(568.4 1931.6) rotate(-45)">TATA</text><text font-size="25.5" text-anchor="end" textLength="128" lengthAdjust="spacingAndGlyphs" fill="#111" stroke="#111" stroke-width="0.3" transform="translate(671.9 1931.6) rotate(-45)">INO1_CDS1</text><text font-size="25.5" text-anchor="end" textLength="128" lengthAdjust="spacingAndGlyphs" fill="#111" stroke="#111" stroke-width="0.3" transform="translate(779 1930.3) rotate(-45)">INO1_CDS2</text><text font-size="25.5" text-anchor="end" textLength="126" lengthAdjust="spacingAndGlyphs" fill="#111" stroke="#111" stroke-width="0.3" transform="translate(875.5 1927.8) rotate(-45)">VPS35prom</text><text x="7.5" y="1307" font-size="46" font-weight="bold" fill="#231f20">h</text>
<rect x="1097.4" y="1778.1" width="33.3" height="117.9" fill="#5BACD6" stroke="#8c8c8c" stroke-width="0.7"/><rect x="1130.7" y="1770" width="33.3" height="126" fill="#B3A2D3" stroke="#8c8c8c" stroke-width="0.7"/><rect x="1164" y="1767.8" width="33.3" height="128.2" fill="#3F5BA9" stroke="#8c8c8c" stroke-width="0.7"/><rect x="1197.3" y="1770" width="33.3" height="126" fill="#E6E6E6" stroke="#8c8c8c" stroke-width="0.7"/><rect x="1263.2" y="1518.1" width="33.3" height="377.9" fill="#5BACD6" stroke="#8c8c8c" stroke-width="0.7"/><rect x="1296.5" y="1642.2" width="33.3" height="253.8" fill="#B3A2D3" stroke="#8c8c8c" stroke-width="0.7"/><rect x="1329.8" y="1585.6" width="33.3" height="310.4" fill="#3F5BA9" stroke="#8c8c8c" stroke-width="0.7"/><rect x="1363.1" y="1640" width="33.3" height="256" fill="#E6E6E6" stroke="#8c8c8c" stroke-width="0.7"/><rect x="1429.8" y="1849.3" width="33.3" height="46.7" fill="#5BACD6" stroke="#8c8c8c" stroke-width="0.7"/><rect x="1463.1" y="1875.8" width="33.3" height="20.2" fill="#B3A2D3" stroke="#8c8c8c" stroke-width="0.7"/><rect x="1496.4" y="1867.1" width="33.3" height="28.9" fill="#3F5BA9" stroke="#8c8c8c" stroke-width="0.7"/><rect x="1529.7" y="1878.5" width="33.3" height="17.5" fill="#E6E6E6" stroke="#8c8c8c" stroke-width="0.7"/><rect x="1596" y="1807.4" width="33.3" height="88.6" fill="#5BACD6" stroke="#8c8c8c" stroke-width="0.7"/><rect x="1629.3" y="1807" width="33.3" height="89" fill="#B3A2D3" stroke="#8c8c8c" stroke-width="0.7"/><rect x="1662.6" y="1769.1" width="33.3" height="126.9" fill="#3F5BA9" stroke="#8c8c8c" stroke-width="0.7"/><rect x="1695.9" y="1796.1" width="33.3" height="99.9" fill="#E6E6E6" stroke="#8c8c8c" stroke-width="0.7"/><path d="M1114.1 1773.6V1782.6M1106.1 1773.6h16M1106.1 1782.6h16" stroke="#000" stroke-width="2.2" fill="none"/><circle cx="1106.6" cy="1782.6" r="4.6"/><circle cx="1114.1" cy="1771.4" r="4.6"/><circle cx="1121.6" cy="1781.3" r="4.6"/><path d="M1147.4 1750.2V1790.3M1139.4 1750.2h16M1139.4 1790.3h16" stroke="#000" stroke-width="2.2" fill="none"/><circle cx="1147.4" cy="1753.4" r="4.6"/><circle cx="1147.4" cy="1769.1" r="4.6"/><circle cx="1147.4" cy="1792.5" r="4.6"/><path d="M1180.7 1759.2V1777.2M1172.7 1759.2h16M1172.7 1777.2h16" stroke="#000" stroke-width="2.2" fill="none"/><circle cx="1172.7" cy="1761" r="4.6"/><circle cx="1188.7" cy="1766.9" r="4.6"/><circle cx="1180.7" cy="1778.1" r="4.6"/><path d="M1214 1762.4V1778.1M1206 1762.4h16M1206 1778.1h16" stroke="#000" stroke-width="2.2" fill="none"/><circle cx="1214" cy="1760.1" r="4.6"/><circle cx="1208" cy="1775.9" r="4.6"/><circle cx="1221" cy="1775.9" r="4.6"/><path d="M1279.9 1513.6V1519.5M1271.9 1513.6h16M1271.9 1519.5h16" stroke="#000" stroke-width="2.2" fill="none"/><circle cx="1267.9" cy="1518.1" r="4.6"/><circle cx="1279.9" cy="1511.8" r="4.6"/><circle cx="1292.4" cy="1518.1" r="4.6"/><path d="M1313.2 1609.4V1674.7M1305.2 1609.4h16M1305.2 1674.7h16" stroke="#000" stroke-width="2.2" fill="none"/><circle cx="1313.2" cy="1618.4" r="4.6"/><circle cx="1313.2" cy="1628.8" r="4.6"/><circle cx="1313.2" cy="1680.1" r="4.6"/><path d="M1346.5 1534.8V1636.4M1338.5 1534.8h16M1338.5 1636.4h16" stroke="#000" stroke-width="2.2" fill="none"/><circle cx="1346.5" cy="1527.1" r="4.6"/><circle cx="1339.5" cy="1616.2" r="4.6"/><circle cx="1354" cy="1613.9" r="4.6"/><circle cx="1372.3" cy="1635.5" r="4.6"/><circle cx="1386.8" cy="1638.7" r="4.6"/><circle cx="1372.3" cy="1645.4" r="4.6"/><path d="M1446.5 1837.5V1862.3M1438.5 1837.5h16M1438.5 1862.3h16" stroke="#000" stroke-width="2.2" fill="none"/><circle cx="1446.5" cy="1835.7" r="4.6"/><circle cx="1439" cy="1859.1" r="4.6"/><circle cx="1454" cy="1854.6" r="4.6"/><path d="M1479.8 1871.7V1877.1M1471.8 1871.7h16M1471.8 1877.1h16" stroke="#000" stroke-width="2.2" fill="none"/><circle cx="1466.8" cy="1876.2" r="4.6"/><circle cx="1479.8" cy="1872.6" r="4.6"/><circle cx="1492.2" cy="1876.2" r="4.6"/><path d="M1513 1861.8V1868.6M1505 1861.8h16M1505 1868.6h16" stroke="#000" stroke-width="2.2" fill="none"/><circle cx="1500.5" cy="1867.2" r="4.6"/><circle cx="1513" cy="1862.3" r="4.6"/><circle cx="1525.5" cy="1867.2" r="4.6"/><path d="M1546.4 1875.3V1880.7M1538.4 1875.3h16M1538.4 1880.7h16" stroke="#000" stroke-width="2.2" fill="none"/><circle cx="1533.9" cy="1880.3" r="4.6"/><circle cx="1546.4" cy="1876.2" r="4.6"/><circle cx="1559.4" cy="1879.4" r="4.6"/><path d="M1612.7 1797.5V1816.4M1604.7 1797.5h16M1604.7 1816.4h16" stroke="#000" stroke-width="2.2" fill="none"/><circle cx="1612.7" cy="1794.8" r="4.6"/><circle cx="1605.7" cy="1814.1" r="4.6"/><circle cx="1619.7" cy="1814.1" r="4.6"/><path d="M1646 1791.6V1823.1M1638 1791.6h16M1638 1823.1h16" stroke="#000" stroke-width="2.2" fill="none"/><circle cx="1646" cy="1789.4" r="4.6"/><circle cx="1646" cy="1809.6" r="4.6"/><circle cx="1646" cy="1821.8" r="4.6"/><path d="M1679.2 1757V1782.6M1671.2 1757h16M1671.2 1782.6h16" stroke="#000" stroke-width="2.2" fill="none"/><circle cx="1679.2" cy="1754.7" r="4.6"/><circle cx="1679.2" cy="1771.4" r="4.6"/><circle cx="1679.2" cy="1781.3" r="4.6"/><circle cx="1706.1" cy="1792.5" r="4.6"/><circle cx="1719.6" cy="1797" r="4.6"/><circle cx="1706.1" cy="1799.7" r="4.6"/><path d="M1080.3 1435.2V1896M1075 1896H1747" stroke="#231f20" stroke-width="2.2" fill="none"/><path d="M1074.5 1896H1080.3" stroke="#231f20" stroke-width="2.2"/><text x="1067.6" y="1909.4" font-size="31" text-anchor="end">0.0</text><path d="M1074.5 1804H1080.3" stroke="#231f20" stroke-width="2.2"/><text x="1067.6" y="1817.5" font-size="31" text-anchor="end">0.5</text><path d="M1074.5 1712.1H1080.3" stroke="#231f20" stroke-width="2.2"/><text x="1067.6" y="1725.5" font-size="31" text-anchor="end">1.0</text><path d="M1074.5 1620.2H1080.3" stroke="#231f20" stroke-width="2.2"/><text x="1067.6" y="1633.6" font-size="31" text-anchor="end">1.5</text><path d="M1074.5 1528.2H1080.3" stroke="#231f20" stroke-width="2.2"/><text x="1067.6" y="1541.6" font-size="31" text-anchor="end">2.0</text><path d="M1074.5 1436.2H1080.3" stroke="#231f20" stroke-width="2.2"/><text x="1067.6" y="1449.7" font-size="31" text-anchor="end">2.5</text><path d="M1164 1896v7" stroke="#231f20" stroke-width="2.2"/><path d="M1329.8 1896v7" stroke="#231f20" stroke-width="2.2"/><path d="M1496.4 1896v7" stroke="#231f20" stroke-width="2.2"/><path d="M1662.6 1896v7" stroke="#231f20" stroke-width="2.2"/><text x="1119.9" y="1937.9" font-size="29.5" textLength="75.2" lengthAdjust="spacingAndGlyphs" fill="#231f20" stroke="#231f20" stroke-width="0.3">DAS1</text><text x="1285.7" y="1937.9" font-size="29.5" textLength="77.5" lengthAdjust="spacingAndGlyphs" fill="#231f20" stroke="#231f20" stroke-width="0.3">SNA3</text><text x="1457.7" y="1937.9" font-size="29.5" textLength="67.6" lengthAdjust="spacingAndGlyphs" fill="#231f20" stroke="#231f20" stroke-width="0.3">INO1</text><text x="1610.9" y="1937.9" font-size="29.5" textLength="93.2" lengthAdjust="spacingAndGlyphs" fill="#231f20" stroke="#231f20" stroke-width="0.3">VPS35</text><text font-size="32" text-anchor="middle" textLength="313" lengthAdjust="spacingAndGlyphs" transform="translate(1008.3 1658.4) rotate(-90)">Relative mRNA levels</text><path d="M1279.8 1486.5V1483H1311.4V1514.5" stroke="#231f20" stroke-width="2.8" fill="none"/><text x="1265.4" y="1474" font-size="23" textLength="108.1" lengthAdjust="spacingAndGlyphs"><tspan font-style="italic">p</tspan> = 0.0026</text><path d="M1444.2 1819.8V1816.3H1473.5V1832" stroke="#231f20" stroke-width="2.8" fill="none"/><text x="1424" y="1808.6" font-size="23" textLength="109" lengthAdjust="spacingAndGlyphs"><tspan font-style="italic">p</tspan> = 0.0266</text><rect x="1609.2" y="1432.6" width="13.6" height="13.8" fill="#5BACD6" stroke="#8c8c8c" stroke-width="0.7"/><text x="1630.6" y="1446.6" font-size="21.5" textLength="23" lengthAdjust="spacingAndGlyphs" stroke="#000" stroke-width="0.3">wt</text><rect x="1609.2" y="1454.7" width="13.6" height="13.8" fill="#B3A2D3" stroke="#8c8c8c" stroke-width="0.7"/><text x="1630.6" y="1468.7" font-size="21.5" textLength="89.5" lengthAdjust="spacingAndGlyphs" stroke="#000" stroke-width="0.3">Gcn5-AID</text><rect x="1609.2" y="1479.4" width="13.6" height="13.8" fill="#3F5BA9" stroke="#8c8c8c" stroke-width="0.7"/><text x="1630.6" y="1491.6" font-size="21.5" textLength="82.2" lengthAdjust="spacingAndGlyphs" stroke="#000" stroke-width="0.3">Taf1-AID</text><rect x="1609.2" y="1498.6" width="13.6" height="13.8" fill="#E6E6E6" stroke="#8c8c8c" stroke-width="0.7"/><text x="1630.6" y="1512.6" font-size="21.5" textLength="103" lengthAdjust="spacingAndGlyphs" stroke="#000" stroke-width="0.3">Rtt109-AID</text><text x="984.3" y="1306" font-size="46" font-weight="bold" fill="#231f20">i</text>
</svg>
</body></html>
